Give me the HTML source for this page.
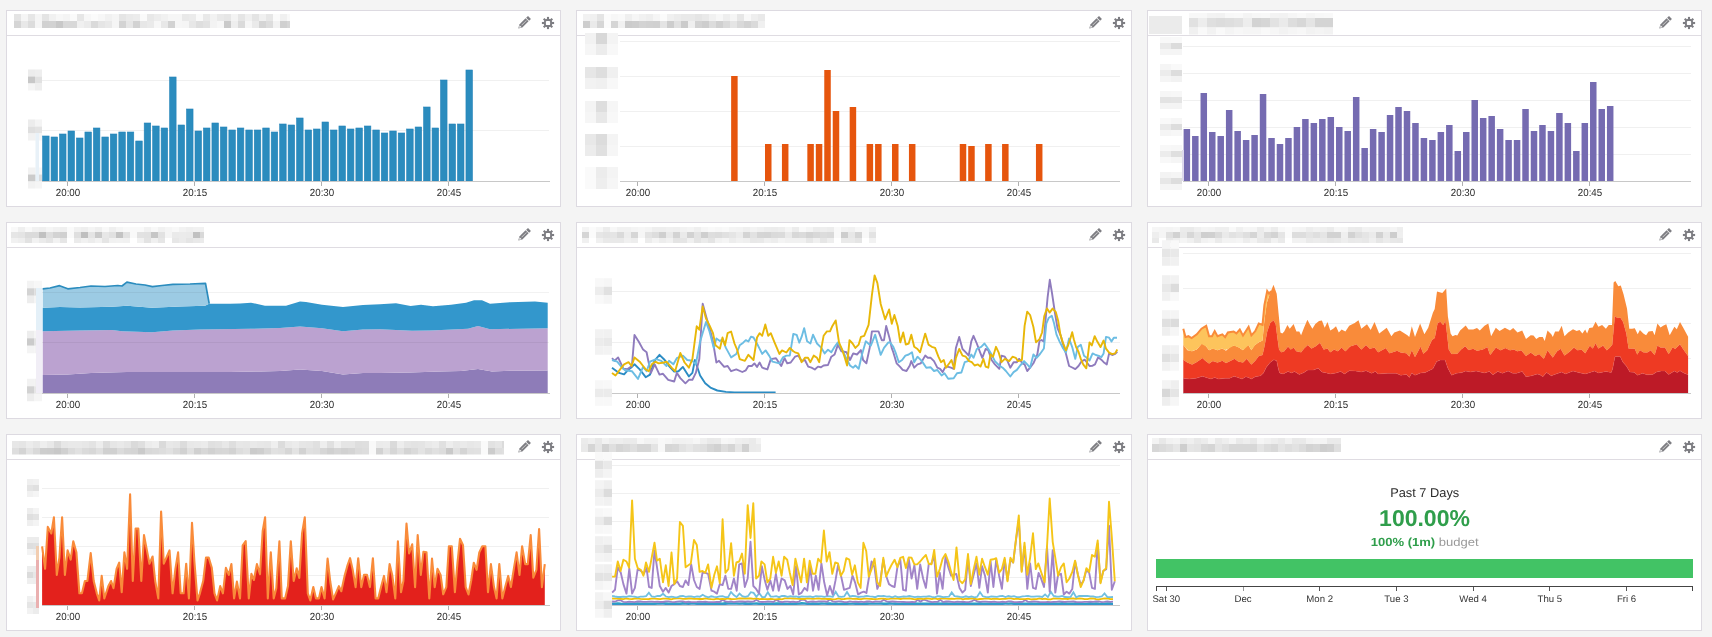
<!DOCTYPE html><html><head><meta charset="utf-8"><style>
*{margin:0;padding:0;box-sizing:border-box}
html,body{width:1712px;height:637px;background:#f4f4f4;overflow:hidden;font-family:"Liberation Sans",sans-serif}
.p{position:absolute;background:#fff;border:1px solid #dddae1}
.hd{position:absolute;left:0;right:0;top:0;height:25px;border-bottom:1px solid #dfdce2}
svg{position:absolute;left:0;top:0}
</style></head><body><div class="p" style="left:6px;top:10px;width:555px;height:197px"><div class="hd"></div></div><div class="p" style="left:576px;top:10px;width:556px;height:197px"><div class="hd"></div></div><div class="p" style="left:1147px;top:10px;width:555px;height:197px"><div class="hd"></div></div><div class="p" style="left:6px;top:222px;width:555px;height:197px"><div class="hd"></div></div><div class="p" style="left:576px;top:222px;width:556px;height:197px"><div class="hd"></div></div><div class="p" style="left:1147px;top:222px;width:555px;height:197px"><div class="hd"></div></div><div class="p" style="left:6px;top:434px;width:555px;height:197px"><div class="hd"></div></div><div class="p" style="left:576px;top:434px;width:556px;height:197px"><div class="hd"></div></div><div class="p" style="left:1147px;top:434px;width:555px;height:197px"><div class="hd"></div></div><svg width="1712" height="637" viewBox="0 0 1712 637" font-family="Liberation Sans, sans-serif" text-rendering="geometricPrecision"><defs><filter id="mb" x="-5%" y="-20%" width="110%" height="140%"><feGaussianBlur stdDeviation="0.45"/></filter></defs><g transform="translate(518.3,28.6) rotate(-45)" fill="#7d7d82"><path d="M0,0 L3.6,-2.1 L12.4,-2.1 L12.4,2.1 L3.6,2.1 Z"/><rect x="13.2" y="-2.1" width="2.6" height="4.2"/><path d="M1.1,0 L3.3,-1.4 L3.3,1.4 Z" fill="#fff"/><rect x="4.6" y="-0.35" width="7" height="0.7" fill="#d0d0d0"/></g><g transform="translate(548,23)" fill="#7d7d82"><circle r="4.3"/><rect x="-1.05" y="-6.1" width="2.1" height="3" transform="rotate(0)"/><rect x="-1.05" y="-6.1" width="2.1" height="3" transform="rotate(45)"/><rect x="-1.05" y="-6.1" width="2.1" height="3" transform="rotate(90)"/><rect x="-1.05" y="-6.1" width="2.1" height="3" transform="rotate(135)"/><rect x="-1.05" y="-6.1" width="2.1" height="3" transform="rotate(180)"/><rect x="-1.05" y="-6.1" width="2.1" height="3" transform="rotate(225)"/><rect x="-1.05" y="-6.1" width="2.1" height="3" transform="rotate(270)"/><rect x="-1.05" y="-6.1" width="2.1" height="3" transform="rotate(315)"/><rect x="-2.1" y="-2.1" width="4.2" height="4.2" rx="0.9" fill="#fff"/></g><g transform="translate(1089.3,28.6) rotate(-45)" fill="#7d7d82"><path d="M0,0 L3.6,-2.1 L12.4,-2.1 L12.4,2.1 L3.6,2.1 Z"/><rect x="13.2" y="-2.1" width="2.6" height="4.2"/><path d="M1.1,0 L3.3,-1.4 L3.3,1.4 Z" fill="#fff"/><rect x="4.6" y="-0.35" width="7" height="0.7" fill="#d0d0d0"/></g><g transform="translate(1119,23)" fill="#7d7d82"><circle r="4.3"/><rect x="-1.05" y="-6.1" width="2.1" height="3" transform="rotate(0)"/><rect x="-1.05" y="-6.1" width="2.1" height="3" transform="rotate(45)"/><rect x="-1.05" y="-6.1" width="2.1" height="3" transform="rotate(90)"/><rect x="-1.05" y="-6.1" width="2.1" height="3" transform="rotate(135)"/><rect x="-1.05" y="-6.1" width="2.1" height="3" transform="rotate(180)"/><rect x="-1.05" y="-6.1" width="2.1" height="3" transform="rotate(225)"/><rect x="-1.05" y="-6.1" width="2.1" height="3" transform="rotate(270)"/><rect x="-1.05" y="-6.1" width="2.1" height="3" transform="rotate(315)"/><rect x="-2.1" y="-2.1" width="4.2" height="4.2" rx="0.9" fill="#fff"/></g><g transform="translate(1659.3,28.6) rotate(-45)" fill="#7d7d82"><path d="M0,0 L3.6,-2.1 L12.4,-2.1 L12.4,2.1 L3.6,2.1 Z"/><rect x="13.2" y="-2.1" width="2.6" height="4.2"/><path d="M1.1,0 L3.3,-1.4 L3.3,1.4 Z" fill="#fff"/><rect x="4.6" y="-0.35" width="7" height="0.7" fill="#d0d0d0"/></g><g transform="translate(1689,23)" fill="#7d7d82"><circle r="4.3"/><rect x="-1.05" y="-6.1" width="2.1" height="3" transform="rotate(0)"/><rect x="-1.05" y="-6.1" width="2.1" height="3" transform="rotate(45)"/><rect x="-1.05" y="-6.1" width="2.1" height="3" transform="rotate(90)"/><rect x="-1.05" y="-6.1" width="2.1" height="3" transform="rotate(135)"/><rect x="-1.05" y="-6.1" width="2.1" height="3" transform="rotate(180)"/><rect x="-1.05" y="-6.1" width="2.1" height="3" transform="rotate(225)"/><rect x="-1.05" y="-6.1" width="2.1" height="3" transform="rotate(270)"/><rect x="-1.05" y="-6.1" width="2.1" height="3" transform="rotate(315)"/><rect x="-2.1" y="-2.1" width="4.2" height="4.2" rx="0.9" fill="#fff"/></g><g transform="translate(518.3,240.6) rotate(-45)" fill="#7d7d82"><path d="M0,0 L3.6,-2.1 L12.4,-2.1 L12.4,2.1 L3.6,2.1 Z"/><rect x="13.2" y="-2.1" width="2.6" height="4.2"/><path d="M1.1,0 L3.3,-1.4 L3.3,1.4 Z" fill="#fff"/><rect x="4.6" y="-0.35" width="7" height="0.7" fill="#d0d0d0"/></g><g transform="translate(548,235)" fill="#7d7d82"><circle r="4.3"/><rect x="-1.05" y="-6.1" width="2.1" height="3" transform="rotate(0)"/><rect x="-1.05" y="-6.1" width="2.1" height="3" transform="rotate(45)"/><rect x="-1.05" y="-6.1" width="2.1" height="3" transform="rotate(90)"/><rect x="-1.05" y="-6.1" width="2.1" height="3" transform="rotate(135)"/><rect x="-1.05" y="-6.1" width="2.1" height="3" transform="rotate(180)"/><rect x="-1.05" y="-6.1" width="2.1" height="3" transform="rotate(225)"/><rect x="-1.05" y="-6.1" width="2.1" height="3" transform="rotate(270)"/><rect x="-1.05" y="-6.1" width="2.1" height="3" transform="rotate(315)"/><rect x="-2.1" y="-2.1" width="4.2" height="4.2" rx="0.9" fill="#fff"/></g><g transform="translate(1089.3,240.6) rotate(-45)" fill="#7d7d82"><path d="M0,0 L3.6,-2.1 L12.4,-2.1 L12.4,2.1 L3.6,2.1 Z"/><rect x="13.2" y="-2.1" width="2.6" height="4.2"/><path d="M1.1,0 L3.3,-1.4 L3.3,1.4 Z" fill="#fff"/><rect x="4.6" y="-0.35" width="7" height="0.7" fill="#d0d0d0"/></g><g transform="translate(1119,235)" fill="#7d7d82"><circle r="4.3"/><rect x="-1.05" y="-6.1" width="2.1" height="3" transform="rotate(0)"/><rect x="-1.05" y="-6.1" width="2.1" height="3" transform="rotate(45)"/><rect x="-1.05" y="-6.1" width="2.1" height="3" transform="rotate(90)"/><rect x="-1.05" y="-6.1" width="2.1" height="3" transform="rotate(135)"/><rect x="-1.05" y="-6.1" width="2.1" height="3" transform="rotate(180)"/><rect x="-1.05" y="-6.1" width="2.1" height="3" transform="rotate(225)"/><rect x="-1.05" y="-6.1" width="2.1" height="3" transform="rotate(270)"/><rect x="-1.05" y="-6.1" width="2.1" height="3" transform="rotate(315)"/><rect x="-2.1" y="-2.1" width="4.2" height="4.2" rx="0.9" fill="#fff"/></g><g transform="translate(1659.3,240.6) rotate(-45)" fill="#7d7d82"><path d="M0,0 L3.6,-2.1 L12.4,-2.1 L12.4,2.1 L3.6,2.1 Z"/><rect x="13.2" y="-2.1" width="2.6" height="4.2"/><path d="M1.1,0 L3.3,-1.4 L3.3,1.4 Z" fill="#fff"/><rect x="4.6" y="-0.35" width="7" height="0.7" fill="#d0d0d0"/></g><g transform="translate(1689,235)" fill="#7d7d82"><circle r="4.3"/><rect x="-1.05" y="-6.1" width="2.1" height="3" transform="rotate(0)"/><rect x="-1.05" y="-6.1" width="2.1" height="3" transform="rotate(45)"/><rect x="-1.05" y="-6.1" width="2.1" height="3" transform="rotate(90)"/><rect x="-1.05" y="-6.1" width="2.1" height="3" transform="rotate(135)"/><rect x="-1.05" y="-6.1" width="2.1" height="3" transform="rotate(180)"/><rect x="-1.05" y="-6.1" width="2.1" height="3" transform="rotate(225)"/><rect x="-1.05" y="-6.1" width="2.1" height="3" transform="rotate(270)"/><rect x="-1.05" y="-6.1" width="2.1" height="3" transform="rotate(315)"/><rect x="-2.1" y="-2.1" width="4.2" height="4.2" rx="0.9" fill="#fff"/></g><g transform="translate(518.3,452.6) rotate(-45)" fill="#7d7d82"><path d="M0,0 L3.6,-2.1 L12.4,-2.1 L12.4,2.1 L3.6,2.1 Z"/><rect x="13.2" y="-2.1" width="2.6" height="4.2"/><path d="M1.1,0 L3.3,-1.4 L3.3,1.4 Z" fill="#fff"/><rect x="4.6" y="-0.35" width="7" height="0.7" fill="#d0d0d0"/></g><g transform="translate(548,447)" fill="#7d7d82"><circle r="4.3"/><rect x="-1.05" y="-6.1" width="2.1" height="3" transform="rotate(0)"/><rect x="-1.05" y="-6.1" width="2.1" height="3" transform="rotate(45)"/><rect x="-1.05" y="-6.1" width="2.1" height="3" transform="rotate(90)"/><rect x="-1.05" y="-6.1" width="2.1" height="3" transform="rotate(135)"/><rect x="-1.05" y="-6.1" width="2.1" height="3" transform="rotate(180)"/><rect x="-1.05" y="-6.1" width="2.1" height="3" transform="rotate(225)"/><rect x="-1.05" y="-6.1" width="2.1" height="3" transform="rotate(270)"/><rect x="-1.05" y="-6.1" width="2.1" height="3" transform="rotate(315)"/><rect x="-2.1" y="-2.1" width="4.2" height="4.2" rx="0.9" fill="#fff"/></g><g transform="translate(1089.3,452.6) rotate(-45)" fill="#7d7d82"><path d="M0,0 L3.6,-2.1 L12.4,-2.1 L12.4,2.1 L3.6,2.1 Z"/><rect x="13.2" y="-2.1" width="2.6" height="4.2"/><path d="M1.1,0 L3.3,-1.4 L3.3,1.4 Z" fill="#fff"/><rect x="4.6" y="-0.35" width="7" height="0.7" fill="#d0d0d0"/></g><g transform="translate(1119,447)" fill="#7d7d82"><circle r="4.3"/><rect x="-1.05" y="-6.1" width="2.1" height="3" transform="rotate(0)"/><rect x="-1.05" y="-6.1" width="2.1" height="3" transform="rotate(45)"/><rect x="-1.05" y="-6.1" width="2.1" height="3" transform="rotate(90)"/><rect x="-1.05" y="-6.1" width="2.1" height="3" transform="rotate(135)"/><rect x="-1.05" y="-6.1" width="2.1" height="3" transform="rotate(180)"/><rect x="-1.05" y="-6.1" width="2.1" height="3" transform="rotate(225)"/><rect x="-1.05" y="-6.1" width="2.1" height="3" transform="rotate(270)"/><rect x="-1.05" y="-6.1" width="2.1" height="3" transform="rotate(315)"/><rect x="-2.1" y="-2.1" width="4.2" height="4.2" rx="0.9" fill="#fff"/></g><g transform="translate(1659.3,452.6) rotate(-45)" fill="#7d7d82"><path d="M0,0 L3.6,-2.1 L12.4,-2.1 L12.4,2.1 L3.6,2.1 Z"/><rect x="13.2" y="-2.1" width="2.6" height="4.2"/><path d="M1.1,0 L3.3,-1.4 L3.3,1.4 Z" fill="#fff"/><rect x="4.6" y="-0.35" width="7" height="0.7" fill="#d0d0d0"/></g><g transform="translate(1689,447)" fill="#7d7d82"><circle r="4.3"/><rect x="-1.05" y="-6.1" width="2.1" height="3" transform="rotate(0)"/><rect x="-1.05" y="-6.1" width="2.1" height="3" transform="rotate(45)"/><rect x="-1.05" y="-6.1" width="2.1" height="3" transform="rotate(90)"/><rect x="-1.05" y="-6.1" width="2.1" height="3" transform="rotate(135)"/><rect x="-1.05" y="-6.1" width="2.1" height="3" transform="rotate(180)"/><rect x="-1.05" y="-6.1" width="2.1" height="3" transform="rotate(225)"/><rect x="-1.05" y="-6.1" width="2.1" height="3" transform="rotate(270)"/><rect x="-1.05" y="-6.1" width="2.1" height="3" transform="rotate(315)"/><rect x="-2.1" y="-2.1" width="4.2" height="4.2" rx="0.9" fill="#fff"/></g><line x1="42.00" y1="80.50" x2="549.00" y2="80.50" stroke="#f0f0f0" stroke-width="1" /><line x1="42.00" y1="130.50" x2="549.00" y2="130.50" stroke="#f0f0f0" stroke-width="1" /><rect x="42.60" y="136.00" width="6.50" height="45.00" fill="#2b8cbe" stroke="#2383b8" stroke-width="0.6"/><rect x="51.07" y="137.00" width="6.50" height="44.00" fill="#2b8cbe" stroke="#2383b8" stroke-width="0.6"/><rect x="59.53" y="134.00" width="6.50" height="47.00" fill="#2b8cbe" stroke="#2383b8" stroke-width="0.6"/><rect x="68.00" y="131.00" width="6.50" height="50.00" fill="#2b8cbe" stroke="#2383b8" stroke-width="0.6"/><rect x="76.47" y="138.00" width="6.50" height="43.00" fill="#2b8cbe" stroke="#2383b8" stroke-width="0.6"/><rect x="84.93" y="132.00" width="6.50" height="49.00" fill="#2b8cbe" stroke="#2383b8" stroke-width="0.6"/><rect x="93.40" y="128.00" width="6.50" height="53.00" fill="#2b8cbe" stroke="#2383b8" stroke-width="0.6"/><rect x="101.87" y="137.00" width="6.50" height="44.00" fill="#2b8cbe" stroke="#2383b8" stroke-width="0.6"/><rect x="110.34" y="134.00" width="6.50" height="47.00" fill="#2b8cbe" stroke="#2383b8" stroke-width="0.6"/><rect x="118.80" y="132.00" width="6.50" height="49.00" fill="#2b8cbe" stroke="#2383b8" stroke-width="0.6"/><rect x="127.27" y="132.00" width="6.50" height="49.00" fill="#2b8cbe" stroke="#2383b8" stroke-width="0.6"/><rect x="135.74" y="141.00" width="6.50" height="40.00" fill="#2b8cbe" stroke="#2383b8" stroke-width="0.6"/><rect x="144.20" y="123.00" width="6.50" height="58.00" fill="#2b8cbe" stroke="#2383b8" stroke-width="0.6"/><rect x="152.67" y="126.00" width="6.50" height="55.00" fill="#2b8cbe" stroke="#2383b8" stroke-width="0.6"/><rect x="161.14" y="128.00" width="6.50" height="53.00" fill="#2b8cbe" stroke="#2383b8" stroke-width="0.6"/><rect x="169.60" y="77.00" width="6.50" height="104.00" fill="#2b8cbe" stroke="#2383b8" stroke-width="0.6"/><rect x="178.07" y="125.00" width="6.50" height="56.00" fill="#2b8cbe" stroke="#2383b8" stroke-width="0.6"/><rect x="186.54" y="109.00" width="6.50" height="72.00" fill="#2b8cbe" stroke="#2383b8" stroke-width="0.6"/><rect x="195.00" y="131.00" width="6.50" height="50.00" fill="#2b8cbe" stroke="#2383b8" stroke-width="0.6"/><rect x="203.47" y="128.00" width="6.50" height="53.00" fill="#2b8cbe" stroke="#2383b8" stroke-width="0.6"/><rect x="211.94" y="123.00" width="6.50" height="58.00" fill="#2b8cbe" stroke="#2383b8" stroke-width="0.6"/><rect x="220.41" y="127.00" width="6.50" height="54.00" fill="#2b8cbe" stroke="#2383b8" stroke-width="0.6"/><rect x="228.87" y="130.00" width="6.50" height="51.00" fill="#2b8cbe" stroke="#2383b8" stroke-width="0.6"/><rect x="237.34" y="128.00" width="6.50" height="53.00" fill="#2b8cbe" stroke="#2383b8" stroke-width="0.6"/><rect x="245.81" y="130.00" width="6.50" height="51.00" fill="#2b8cbe" stroke="#2383b8" stroke-width="0.6"/><rect x="254.27" y="130.00" width="6.50" height="51.00" fill="#2b8cbe" stroke="#2383b8" stroke-width="0.6"/><rect x="262.74" y="128.00" width="6.50" height="53.00" fill="#2b8cbe" stroke="#2383b8" stroke-width="0.6"/><rect x="271.21" y="132.00" width="6.50" height="49.00" fill="#2b8cbe" stroke="#2383b8" stroke-width="0.6"/><rect x="279.68" y="124.00" width="6.50" height="57.00" fill="#2b8cbe" stroke="#2383b8" stroke-width="0.6"/><rect x="288.14" y="125.00" width="6.50" height="56.00" fill="#2b8cbe" stroke="#2383b8" stroke-width="0.6"/><rect x="296.61" y="118.00" width="6.50" height="63.00" fill="#2b8cbe" stroke="#2383b8" stroke-width="0.6"/><rect x="305.08" y="130.00" width="6.50" height="51.00" fill="#2b8cbe" stroke="#2383b8" stroke-width="0.6"/><rect x="313.54" y="129.00" width="6.50" height="52.00" fill="#2b8cbe" stroke="#2383b8" stroke-width="0.6"/><rect x="322.01" y="122.00" width="6.50" height="59.00" fill="#2b8cbe" stroke="#2383b8" stroke-width="0.6"/><rect x="330.48" y="130.00" width="6.50" height="51.00" fill="#2b8cbe" stroke="#2383b8" stroke-width="0.6"/><rect x="338.94" y="126.00" width="6.50" height="55.00" fill="#2b8cbe" stroke="#2383b8" stroke-width="0.6"/><rect x="347.41" y="129.00" width="6.50" height="52.00" fill="#2b8cbe" stroke="#2383b8" stroke-width="0.6"/><rect x="355.88" y="128.00" width="6.50" height="53.00" fill="#2b8cbe" stroke="#2383b8" stroke-width="0.6"/><rect x="364.35" y="126.00" width="6.50" height="55.00" fill="#2b8cbe" stroke="#2383b8" stroke-width="0.6"/><rect x="372.81" y="130.00" width="6.50" height="51.00" fill="#2b8cbe" stroke="#2383b8" stroke-width="0.6"/><rect x="381.28" y="133.00" width="6.50" height="48.00" fill="#2b8cbe" stroke="#2383b8" stroke-width="0.6"/><rect x="389.75" y="131.00" width="6.50" height="50.00" fill="#2b8cbe" stroke="#2383b8" stroke-width="0.6"/><rect x="398.21" y="133.00" width="6.50" height="48.00" fill="#2b8cbe" stroke="#2383b8" stroke-width="0.6"/><rect x="406.68" y="129.00" width="6.50" height="52.00" fill="#2b8cbe" stroke="#2383b8" stroke-width="0.6"/><rect x="415.15" y="127.00" width="6.50" height="54.00" fill="#2b8cbe" stroke="#2383b8" stroke-width="0.6"/><rect x="423.61" y="107.00" width="6.50" height="74.00" fill="#2b8cbe" stroke="#2383b8" stroke-width="0.6"/><rect x="432.08" y="128.00" width="6.50" height="53.00" fill="#2b8cbe" stroke="#2383b8" stroke-width="0.6"/><rect x="440.55" y="80.00" width="6.50" height="101.00" fill="#2b8cbe" stroke="#2383b8" stroke-width="0.6"/><rect x="449.02" y="124.00" width="6.50" height="57.00" fill="#2b8cbe" stroke="#2383b8" stroke-width="0.6"/><rect x="457.48" y="124.00" width="6.50" height="57.00" fill="#2b8cbe" stroke="#2383b8" stroke-width="0.6"/><rect x="465.95" y="70.00" width="6.50" height="111.00" fill="#2b8cbe" stroke="#2383b8" stroke-width="0.6"/><line x1="42.00" y1="181.50" x2="550.00" y2="181.50" stroke="#c8c8c8" stroke-width="1" /><line x1="67.50" y1="182.00" x2="67.50" y2="186.00" stroke="#b0b0b0" stroke-width="1" /><line x1="194.50" y1="182.00" x2="194.50" y2="186.00" stroke="#b0b0b0" stroke-width="1" /><line x1="321.50" y1="182.00" x2="321.50" y2="186.00" stroke="#b0b0b0" stroke-width="1" /><line x1="448.50" y1="182.00" x2="448.50" y2="186.00" stroke="#b0b0b0" stroke-width="1" /><line x1="620.00" y1="41.50" x2="1120.00" y2="41.50" stroke="#f0f0f0" stroke-width="1" /><line x1="620.00" y1="76.50" x2="1120.00" y2="76.50" stroke="#f0f0f0" stroke-width="1" /><line x1="620.00" y1="111.50" x2="1120.00" y2="111.50" stroke="#f0f0f0" stroke-width="1" /><line x1="620.00" y1="146.50" x2="1120.00" y2="146.50" stroke="#f0f0f0" stroke-width="1" /><rect x="731.14" y="76.00" width="6.50" height="105.00" fill="#e6550d" /><rect x="765.00" y="144.00" width="6.50" height="37.00" fill="#e6550d" /><rect x="781.94" y="144.00" width="6.50" height="37.00" fill="#e6550d" /><rect x="807.34" y="144.00" width="6.50" height="37.00" fill="#e6550d" /><rect x="815.81" y="144.00" width="6.50" height="37.00" fill="#e6550d" /><rect x="824.27" y="70.00" width="6.50" height="111.00" fill="#e6550d" /><rect x="832.74" y="111.00" width="6.50" height="70.00" fill="#e6550d" /><rect x="849.67" y="107.00" width="6.50" height="74.00" fill="#e6550d" /><rect x="866.61" y="144.00" width="6.50" height="37.00" fill="#e6550d" /><rect x="875.08" y="144.00" width="6.50" height="37.00" fill="#e6550d" /><rect x="892.01" y="144.00" width="6.50" height="37.00" fill="#e6550d" /><rect x="908.94" y="144.00" width="6.50" height="37.00" fill="#e6550d" /><rect x="959.75" y="144.00" width="6.50" height="37.00" fill="#e6550d" /><rect x="968.21" y="146.00" width="6.50" height="35.00" fill="#e6550d" /><rect x="985.15" y="144.00" width="6.50" height="37.00" fill="#e6550d" /><rect x="1002.08" y="144.00" width="6.50" height="37.00" fill="#e6550d" /><rect x="1035.95" y="144.00" width="6.50" height="37.00" fill="#e6550d" /><line x1="620.00" y1="181.50" x2="1120.00" y2="181.50" stroke="#c8c8c8" stroke-width="1" /><line x1="637.50" y1="182.00" x2="637.50" y2="186.00" stroke="#b0b0b0" stroke-width="1" /><line x1="764.50" y1="182.00" x2="764.50" y2="186.00" stroke="#b0b0b0" stroke-width="1" /><line x1="891.50" y1="182.00" x2="891.50" y2="186.00" stroke="#b0b0b0" stroke-width="1" /><line x1="1018.50" y1="182.00" x2="1018.50" y2="186.00" stroke="#b0b0b0" stroke-width="1" /><line x1="1183.00" y1="46.50" x2="1691.00" y2="46.50" stroke="#f0f0f0" stroke-width="1" /><line x1="1183.00" y1="73.50" x2="1691.00" y2="73.50" stroke="#f0f0f0" stroke-width="1" /><line x1="1183.00" y1="100.50" x2="1691.00" y2="100.50" stroke="#f0f0f0" stroke-width="1" /><line x1="1183.00" y1="127.50" x2="1691.00" y2="127.50" stroke="#f0f0f0" stroke-width="1" /><line x1="1183.00" y1="154.50" x2="1691.00" y2="154.50" stroke="#f0f0f0" stroke-width="1" /><rect x="1183.60" y="129.00" width="6.50" height="52.00" fill="#756bb1" /><rect x="1192.07" y="136.00" width="6.50" height="45.00" fill="#756bb1" /><rect x="1200.53" y="93.00" width="6.50" height="88.00" fill="#756bb1" /><rect x="1209.00" y="132.00" width="6.50" height="49.00" fill="#756bb1" /><rect x="1217.47" y="136.00" width="6.50" height="45.00" fill="#756bb1" /><rect x="1225.93" y="110.00" width="6.50" height="71.00" fill="#756bb1" /><rect x="1234.40" y="131.00" width="6.50" height="50.00" fill="#756bb1" /><rect x="1242.87" y="140.00" width="6.50" height="41.00" fill="#756bb1" /><rect x="1251.34" y="135.00" width="6.50" height="46.00" fill="#756bb1" /><rect x="1259.80" y="94.00" width="6.50" height="87.00" fill="#756bb1" /><rect x="1268.27" y="138.00" width="6.50" height="43.00" fill="#756bb1" /><rect x="1276.74" y="144.00" width="6.50" height="37.00" fill="#756bb1" /><rect x="1285.20" y="138.00" width="6.50" height="43.00" fill="#756bb1" /><rect x="1293.67" y="127.00" width="6.50" height="54.00" fill="#756bb1" /><rect x="1302.14" y="119.00" width="6.50" height="62.00" fill="#756bb1" /><rect x="1310.60" y="123.00" width="6.50" height="58.00" fill="#756bb1" /><rect x="1319.07" y="119.00" width="6.50" height="62.00" fill="#756bb1" /><rect x="1327.54" y="117.00" width="6.50" height="64.00" fill="#756bb1" /><rect x="1336.01" y="127.00" width="6.50" height="54.00" fill="#756bb1" /><rect x="1344.47" y="131.00" width="6.50" height="50.00" fill="#756bb1" /><rect x="1352.94" y="97.00" width="6.50" height="84.00" fill="#756bb1" /><rect x="1361.41" y="148.00" width="6.50" height="33.00" fill="#756bb1" /><rect x="1369.87" y="129.00" width="6.50" height="52.00" fill="#756bb1" /><rect x="1378.34" y="132.00" width="6.50" height="49.00" fill="#756bb1" /><rect x="1386.81" y="115.00" width="6.50" height="66.00" fill="#756bb1" /><rect x="1395.27" y="107.00" width="6.50" height="74.00" fill="#756bb1" /><rect x="1403.74" y="111.00" width="6.50" height="70.00" fill="#756bb1" /><rect x="1412.21" y="123.00" width="6.50" height="58.00" fill="#756bb1" /><rect x="1420.67" y="138.00" width="6.50" height="43.00" fill="#756bb1" /><rect x="1429.14" y="140.00" width="6.50" height="41.00" fill="#756bb1" /><rect x="1437.61" y="132.00" width="6.50" height="49.00" fill="#756bb1" /><rect x="1446.08" y="125.00" width="6.50" height="56.00" fill="#756bb1" /><rect x="1454.54" y="151.00" width="6.50" height="30.00" fill="#756bb1" /><rect x="1463.01" y="132.00" width="6.50" height="49.00" fill="#756bb1" /><rect x="1471.48" y="100.00" width="6.50" height="81.00" fill="#756bb1" /><rect x="1479.94" y="118.00" width="6.50" height="63.00" fill="#756bb1" /><rect x="1488.41" y="116.00" width="6.50" height="65.00" fill="#756bb1" /><rect x="1496.88" y="129.00" width="6.50" height="52.00" fill="#756bb1" /><rect x="1505.35" y="140.00" width="6.50" height="41.00" fill="#756bb1" /><rect x="1513.81" y="140.00" width="6.50" height="41.00" fill="#756bb1" /><rect x="1522.28" y="109.00" width="6.50" height="72.00" fill="#756bb1" /><rect x="1530.75" y="131.00" width="6.50" height="50.00" fill="#756bb1" /><rect x="1539.21" y="125.00" width="6.50" height="56.00" fill="#756bb1" /><rect x="1547.68" y="131.00" width="6.50" height="50.00" fill="#756bb1" /><rect x="1556.15" y="113.00" width="6.50" height="68.00" fill="#756bb1" /><rect x="1564.61" y="123.00" width="6.50" height="58.00" fill="#756bb1" /><rect x="1573.08" y="151.00" width="6.50" height="30.00" fill="#756bb1" /><rect x="1581.55" y="123.00" width="6.50" height="58.00" fill="#756bb1" /><rect x="1590.02" y="82.00" width="6.50" height="99.00" fill="#756bb1" /><rect x="1598.48" y="109.00" width="6.50" height="72.00" fill="#756bb1" /><rect x="1606.95" y="106.00" width="6.50" height="75.00" fill="#756bb1" /><line x1="1183.00" y1="181.50" x2="1691.00" y2="181.50" stroke="#c8c8c8" stroke-width="1" /><line x1="1208.50" y1="182.00" x2="1208.50" y2="186.00" stroke="#b0b0b0" stroke-width="1" /><line x1="1335.50" y1="182.00" x2="1335.50" y2="186.00" stroke="#b0b0b0" stroke-width="1" /><line x1="1462.50" y1="182.00" x2="1462.50" y2="186.00" stroke="#b0b0b0" stroke-width="1" /><line x1="1589.50" y1="182.00" x2="1589.50" y2="186.00" stroke="#b0b0b0" stroke-width="1" /><polygon points="42.7,375.0 67.8,374.5 91.0,373.0 127.0,372.0 136.0,372.0 200.0,372.0 230.0,372.0 261.0,371.5 280.0,371.0 300.0,369.6 322.0,371.0 343.0,374.5 363.0,373.0 380.0,373.0 410.0,372.5 440.0,371.5 461.0,371.0 478.0,369.0 492.0,371.4 510.0,370.8 547.7,370.4 547.7,393.0 42.7,393.0" fill="#8e7cb8" /><polygon points="42.7,331.2 80.0,330.5 112.0,330.0 122.0,331.2 152.0,332.2 173.0,330.5 200.0,329.6 251.0,328.8 280.0,328.0 300.0,326.5 322.0,328.2 343.0,331.2 363.0,329.6 380.0,329.2 412.0,330.8 431.0,330.4 468.0,328.8 478.0,326.1 490.0,329.2 547.7,328.2 547.7,370.4 510.0,370.8 492.0,371.4 478.0,369.0 461.0,371.0 440.0,371.5 410.0,372.5 380.0,373.0 363.0,373.0 343.0,374.5 322.0,371.0 300.0,369.6 280.0,371.0 261.0,371.5 230.0,372.0 200.0,372.0 136.0,372.0 127.0,372.0 91.0,373.0 67.8,374.5 42.7,375.0" fill="#bba2d0" /><polygon points="42.7,307.8 60.0,307.0 80.0,307.5 112.0,306.7 127.0,305.7 152.0,307.8 180.0,306.5 205.0,305.7 209.0,303.7 230.0,303.7 240.0,303.5 251.0,302.7 265.0,305.7 286.0,305.7 300.0,301.6 306.0,302.0 322.0,304.7 343.0,307.1 363.0,305.0 380.0,304.3 396.0,303.3 410.6,306.0 421.0,304.7 433.0,306.3 451.0,304.7 466.0,302.7 474.0,300.2 482.0,300.2 490.0,303.7 510.0,302.2 535.0,301.4 547.7,302.7 547.7,328.2 490.0,329.2 478.0,326.1 468.0,328.8 431.0,330.4 412.0,330.8 380.0,329.2 363.0,329.6 343.0,331.2 322.0,328.2 300.0,326.5 280.0,328.0 251.0,328.8 200.0,329.6 173.0,330.5 152.0,332.2 122.0,331.2 112.0,330.0 80.0,330.5 42.7,331.2" fill="#3397cc" /><polygon points="42.7,288.8 50.0,288.0 59.6,285.7 67.8,288.8 80.0,287.5 91.0,286.0 105.0,286.5 117.8,285.5 122.0,286.0 126.9,282.2 136.0,284.0 145.0,285.0 152.4,286.7 162.0,285.5 172.9,284.3 190.0,284.0 205.5,283.3 209.2,303.7 209.2,303.7 205.0,305.7 180.0,306.5 152.0,307.8 127.0,305.7 112.0,306.7 80.0,307.5 60.0,307.0 42.7,307.8" fill="#9ccbe4" /><polyline points="42.7,288.8 50.0,288.0 59.6,285.7 67.8,288.8 80.0,287.5 91.0,286.0 105.0,286.5 117.8,285.5 122.0,286.0 126.9,282.2 136.0,284.0 145.0,285.0 152.4,286.7 162.0,285.5 172.9,284.3 190.0,284.0 205.5,283.3 209.2,303.7" fill="none" stroke="#2b8cbe" stroke-width="1.7" stroke-linejoin="round"/><line x1="42.00" y1="292.50" x2="549.00" y2="292.50" stroke="rgba(0,0,0,0.05)" stroke-width="1" /><line x1="42.00" y1="342.50" x2="549.00" y2="342.50" stroke="rgba(0,0,0,0.05)" stroke-width="1" /><line x1="42.00" y1="393.50" x2="550.00" y2="393.50" stroke="#c8c8c8" stroke-width="1" /><line x1="67.50" y1="394.00" x2="67.50" y2="398.00" stroke="#b0b0b0" stroke-width="1" /><line x1="194.50" y1="394.00" x2="194.50" y2="398.00" stroke="#b0b0b0" stroke-width="1" /><line x1="321.50" y1="394.00" x2="321.50" y2="398.00" stroke="#b0b0b0" stroke-width="1" /><line x1="448.50" y1="394.00" x2="448.50" y2="398.00" stroke="#b0b0b0" stroke-width="1" /><line x1="612.00" y1="291.50" x2="1120.00" y2="291.50" stroke="#f0f0f0" stroke-width="1" /><line x1="612.00" y1="342.50" x2="1120.00" y2="342.50" stroke="#f0f0f0" stroke-width="1" /><polyline points="612.0,367.7 619.0,372.9 624.1,374.3 627.6,370.3 631.9,366.9 634.5,364.3 639.7,369.4 645.7,377.2 650.0,374.6 654.4,360.8 659.5,354.8 664.7,360.0 669.0,366.0 674.2,371.5 678.5,371.2 682.9,366.9 688.9,376.4 692.4,372.9 694.9,360.0 700.1,375.5 705.2,383.3 710.4,387.6 717.3,390.5 725.9,391.9 734.5,392.4 775.6,392.4" fill="none" stroke="#2b8cc4" stroke-width="1.9" stroke-linejoin="round"/><polyline points="612.0,358.2 614.6,360.8 618.1,357.4 623.3,368.6 627.6,369.1 631.9,366.0 634.5,334.9 638.8,341.8 643.1,349.6 646.6,352.2 648.3,360.8 650.9,372.9 654.7,364.3 659.5,374.6 663.0,373.8 668.2,379.8 674.2,381.5 676.8,372.9 680.3,378.1 685.4,383.3 688.9,379.8 692.4,379.8 695.8,372.9 699.3,359.1 702.7,303.8 706.0,315.9 709.5,328.0 713.0,341.8 716.4,362.5 719.0,360.8 724.2,366.9 727.6,366.0 731.1,371.2 736.3,369.4 742.3,372.0 745.8,370.3 748.4,366.0 751.8,366.0 754.4,363.4 757.0,366.9 759.6,362.5 762.2,367.7 767.4,369.4 770.8,359.1 776.0,358.2 781.2,366.0 784.6,358.2 787.2,363.4 790.7,362.5 795.0,356.7 798.3,355.6 801.6,361.1 804.9,360.0 808.2,366.6 811.5,367.7 814.8,369.5 818.0,366.6 821.0,367.3 823.6,365.5 828.0,365.0 831.3,356.7 834.6,354.5 837.9,344.6 841.2,351.2 846.6,352.3 850.0,360.0 853.2,353.4 857.0,354.5 860.9,350.1 863.1,360.0 866.4,363.3 869.7,347.9 871.9,331.4 875.2,331.4 878.5,331.4 881.8,340.2 884.0,340.2 886.2,325.9 889.5,338.0 891.7,347.9 893.3,352.3 896.6,363.3 899.9,366.6 902.7,369.9 906.5,371.0 909.8,365.5 911.3,361.1 914.2,367.7 917.5,364.4 920.8,363.3 925.2,355.6 927.8,357.8 930.7,357.8 934.0,361.1 937.3,367.7 940.1,368.8 942.7,372.1 944.9,367.7 947.6,366.6 951.0,367.7 953.7,368.8 955.9,347.9 959.2,336.9 962.5,349.0 965.8,352.3 968.7,355.6 971.3,341.3 973.5,335.8 976.8,343.5 980.1,352.3 982.3,357.8 985.6,349.0 988.3,350.1 991.6,360.0 994.9,364.4 999.3,368.8 1001.5,355.6 1004.8,356.7 1007.0,360.0 1010.3,367.7 1013.6,362.2 1016.9,362.2 1019.1,358.9 1022.4,363.3 1024.6,364.4 1027.2,371.0 1030.1,367.7 1033.4,363.3 1037.3,354.5 1039.5,341.0 1041.6,340.0 1043.9,341.6 1045.4,321.5 1047.6,297.4 1049.8,279.8 1052.0,293.0 1054.9,312.7 1057.5,328.1 1060.8,335.8 1062.5,342.4 1065.9,353.4 1069.1,366.0 1072.2,367.5 1075.3,369.1 1078.5,366.0 1081.6,361.3 1084.8,359.7 1087.1,362.8 1089.5,366.0 1092.6,365.7 1095.0,364.4 1098.1,357.3 1101.3,359.7 1104.4,362.8 1106.8,364.4 1109.1,353.4 1112.2,355.0 1114.6,354.2 1117.3,351.8" fill="none" stroke="#8f7bbd" stroke-width="1.9" stroke-linejoin="round"/><polyline points="612.0,360.0 617.2,361.7 620.7,366.0 625.0,370.3 631.9,371.2 638.0,378.9 643.1,366.9 646.6,371.2 650.0,361.7 656.1,359.1 661.3,360.8 666.5,366.0 669.0,360.8 673.4,364.3 676.8,358.2 682.9,355.6 687.2,360.0 692.4,360.8 695.8,364.3 700.1,341.8 702.6,333.2 706.0,322.0 709.5,331.5 713.8,347.9 716.4,338.4 719.9,341.0 722.5,339.2 725.9,347.9 731.1,357.4 736.3,354.0 739.7,345.3 743.2,342.7 745.8,340.1 748.4,341.5 751.0,336.6 753.5,337.5 757.9,345.3 762.2,353.9 765.6,350.4 769.1,355.6 772.5,361.7 779.4,363.4 782.9,357.4 786.4,355.6 789.8,355.6 793.3,334.0 796.7,334.9 799.3,342.7 801.6,336.9 804.2,328.1 807.1,341.3 810.4,343.5 813.0,334.7 817.0,343.5 821.4,347.9 824.7,353.4 828.0,349.7 831.3,352.3 834.6,346.8 837.9,342.4 841.2,347.9 845.5,356.7 850.0,365.5 853.2,367.7 855.4,365.5 858.7,368.8 862.0,354.5 865.8,341.3 870.8,345.7 875.2,334.7 880.7,354.9 884.0,347.9 888.4,342.4 890.0,342.4 893.3,346.8 895.5,352.3 898.8,362.2 902.1,360.0 905.4,355.6 908.7,354.5 912.0,352.3 914.2,362.2 917.5,356.7 921.9,361.1 926.3,367.7 930.7,367.3 934.0,371.0 937.3,370.0 941.6,375.4 944.5,373.2 948.2,378.7 953.7,378.2 957.0,373.2 961.4,372.5 964.7,362.2 968.0,361.1 971.3,354.5 973.5,357.8 976.8,349.0 981.2,346.8 984.5,343.5 988.3,349.0 991.6,354.5 994.9,361.1 999.3,365.5 1002.6,367.7 1005.9,371.0 1010.3,376.5 1013.6,372.1 1016.9,369.9 1020.2,365.5 1024.1,361.1 1027.2,364.4 1030.1,367.7 1033.4,354.5 1036.6,357.8 1040.0,354.0 1043.9,348.5 1046.3,323.6 1048.6,318.1 1051.8,315.7 1054.1,323.6 1056.5,334.6 1059.6,341.6 1062.8,347.9 1065.9,352.6 1069.1,338.5 1072.2,347.1 1075.3,358.9 1077.7,347.1 1080.8,344.8 1084.0,355.8 1087.1,358.1 1089.5,360.5 1092.6,353.4 1095.8,355.0 1098.9,355.8 1101.3,357.3 1103.6,353.4 1106.0,336.9 1109.1,337.7 1111.5,341.6 1113.8,337.7 1117.0,337.7" fill="none" stroke="#6cbde3" stroke-width="1.9" stroke-linejoin="round"/><polyline points="612.0,372.9 615.5,375.5 620.7,368.6 624.1,364.3 628.5,362.2 631.6,366.0 634.5,357.4 639.7,361.7 643.1,366.0 645.7,369.4 648.8,371.2 651.8,364.3 655.2,361.7 658.7,363.4 663.9,362.5 666.5,361.7 671.6,367.7 675.1,371.2 680.3,353.0 684.6,362.5 688.9,367.7 692.4,359.1 696.7,326.3 699.3,329.7 702.7,306.4 706.0,318.5 709.5,325.4 713.0,333.2 715.5,345.3 719.9,348.7 722.5,337.5 725.0,345.3 727.6,333.2 731.1,331.5 734.5,343.5 737.1,349.6 739.7,359.1 744.9,360.8 748.4,354.8 753.5,360.0 757.0,337.5 759.6,333.2 762.2,335.8 765.3,324.5 768.2,335.8 770.8,333.2 774.3,341.8 779.4,353.9 782.0,350.4 786.4,352.5 789.8,347.9 793.3,351.3 795.0,352.3 798.3,353.4 801.6,362.2 804.9,357.8 808.0,357.8 810.4,362.2 813.7,355.6 817.0,357.8 819.2,362.2 821.4,347.9 823.6,335.8 826.9,331.4 830.0,331.4 832.4,325.9 835.7,320.4 839.0,342.4 842.3,350.1 844.5,356.7 847.1,365.5 849.5,340.2 852.6,343.5 855.4,347.9 858.7,344.6 860.9,336.9 864.2,335.8 868.6,324.8 871.9,295.2 874.6,275.4 877.4,283.1 880.7,304.0 885.1,319.3 889.1,309.5 891.8,323.7 894.4,314.9 897.7,325.9 900.3,342.4 903.2,332.5 905.8,344.6 908.7,343.5 911.3,334.7 914.2,346.8 917.5,349.0 920.1,352.3 925.2,333.6 928.5,344.6 931.8,346.8 935.1,347.9 938.4,356.7 941.0,362.2 943.8,360.0 946.0,367.7 949.3,363.3 951.5,360.0 954.2,368.8 955.9,357.8 959.2,349.0 962.5,355.6 965.8,356.7 969.1,361.1 971.8,362.2 974.6,365.5 977.9,364.4 980.5,366.6 983.4,358.9 985.6,366.6 988.3,367.7 990.5,354.5 993.0,356.7 996.0,346.8 998.6,352.3 1001.5,362.2 1004.8,358.9 1009.2,361.1 1012.5,356.7 1015.8,357.8 1018.0,361.1 1021.9,360.0 1024.6,325.9 1027.2,311.6 1030.1,315.0 1033.4,327.0 1036.0,342.4 1039.5,339.1 1042.1,332.5 1044.3,316.0 1047.0,308.4 1049.6,312.6 1052.6,308.6 1055.7,311.8 1058.1,320.4 1060.4,334.6 1062.8,342.4 1065.9,350.3 1068.3,344.8 1070.6,337.7 1072.2,332.2 1073.8,339.3 1076.1,347.1 1078.5,351.8 1080.8,358.9 1083.2,364.4 1086.3,368.3 1089.5,342.4 1091.8,345.5 1094.7,336.1 1097.3,341.6 1100.5,347.1 1103.6,340.5 1106.0,348.7 1109.1,352.6 1112.2,354.2 1115.1,353.4 1117.3,349.5" fill="none" stroke="#e8b708" stroke-width="1.9" stroke-linejoin="round"/><line x1="612.00" y1="393.50" x2="1120.00" y2="393.50" stroke="#c8c8c8" stroke-width="1" /><line x1="637.50" y1="394.00" x2="637.50" y2="398.00" stroke="#b0b0b0" stroke-width="1" /><line x1="764.50" y1="394.00" x2="764.50" y2="398.00" stroke="#b0b0b0" stroke-width="1" /><line x1="891.50" y1="394.00" x2="891.50" y2="398.00" stroke="#b0b0b0" stroke-width="1" /><line x1="1018.50" y1="394.00" x2="1018.50" y2="398.00" stroke="#b0b0b0" stroke-width="1" /><line x1="1183.00" y1="253.50" x2="1691.00" y2="253.50" stroke="#f0f0f0" stroke-width="1" /><line x1="1183.00" y1="288.50" x2="1691.00" y2="288.50" stroke="#f0f0f0" stroke-width="1" /><line x1="1183.00" y1="323.50" x2="1691.00" y2="323.50" stroke="#f0f0f0" stroke-width="1" /><line x1="1183.00" y1="358.50" x2="1691.00" y2="358.50" stroke="#f0f0f0" stroke-width="1" /><polygon points="1183.3,378.2 1189.3,379.0 1196.0,378.2 1202.5,376.3 1206.2,377.6 1211.0,379.0 1214.7,377.6 1218.5,379.1 1225.1,378.2 1229.8,378.2 1234.1,376.3 1238.0,377.6 1242.0,379.1 1245.8,376.7 1248.5,377.6 1251.4,379.1 1255.2,376.7 1260.6,375.8 1263.5,372.9 1266.3,367.3 1270.1,362.6 1273.8,359.7 1276.7,360.7 1278.0,367.3 1279.5,372.9 1283.2,373.9 1288.0,371.4 1291.7,372.9 1294.5,371.4 1299.3,374.4 1304.0,372.5 1307.7,370.1 1313.4,370.1 1318.1,368.2 1321.9,372.0 1326.6,372.9 1330.3,373.9 1336.0,372.9 1340.7,371.4 1344.5,373.9 1349.2,370.7 1355.6,371.0 1361.3,372.0 1366.0,370.7 1371.7,373.3 1375.4,371.4 1378.2,373.9 1387.7,373.3 1396.1,373.3 1400.8,375.2 1406.5,374.4 1409.3,377.6 1411.8,372.9 1415.0,375.2 1420.6,372.9 1425.3,372.6 1432.9,368.8 1436.6,361.6 1440.4,360.1 1445.1,360.1 1447.8,368.0 1451.6,375.2 1456.3,373.3 1462.0,372.6 1465.7,371.0 1470.4,372.0 1476.1,371.0 1484.5,372.9 1489.3,371.4 1493.0,374.8 1497.7,371.4 1502.4,373.3 1508.1,371.0 1512.8,373.3 1516.5,373.3 1522.2,371.4 1526.0,376.7 1531.6,375.8 1537.3,373.9 1540.0,374.8 1542.8,376.7 1546.6,372.6 1551.3,375.8 1556.0,373.9 1561.7,372.0 1565.4,373.9 1573.0,371.0 1578.6,372.6 1585.2,373.9 1589.9,372.6 1594.6,371.0 1598.4,372.9 1605.9,371.4 1611.2,372.6 1612.5,369.2 1615.0,356.6 1620.2,356.6 1622.8,362.0 1626.5,366.3 1629.9,372.0 1634.0,372.3 1637.7,375.2 1642.4,373.3 1647.1,374.8 1652.7,374.4 1656.5,372.0 1661.2,371.0 1665.0,371.0 1668.7,374.4 1674.4,371.0 1677.2,372.6 1680.0,370.7 1683.8,372.9 1688.1,374.8 1688.1,393.0 1183.3,393.0" fill="#bd1a27" /><polygon points="1183.3,359.7 1187.4,362.6 1192.1,364.5 1196.8,362.0 1202.5,357.9 1205.3,360.7 1209.1,363.5 1212.8,361.1 1217.5,362.6 1222.3,360.7 1226.0,363.1 1230.7,360.7 1234.5,358.8 1238.3,361.6 1243.0,362.6 1246.7,358.8 1251.4,364.5 1255.2,360.7 1258.8,356.0 1262.5,355.0 1264.4,346.6 1267.2,331.5 1270.1,323.0 1273.5,320.2 1275.7,324.0 1277.6,339.0 1279.1,349.4 1281.4,352.2 1284.2,351.3 1288.0,346.6 1290.8,349.4 1293.6,347.5 1296.4,351.3 1301.1,352.2 1304.0,348.4 1307.7,345.1 1311.5,348.4 1315.3,346.6 1320.0,342.8 1323.7,349.4 1327.5,348.4 1330.3,352.2 1334.1,349.4 1337.9,351.3 1341.6,347.5 1345.4,351.3 1350.0,346.6 1356.6,344.3 1361.3,349.4 1366.0,345.1 1369.8,348.8 1374.5,347.5 1378.2,352.2 1385.8,348.1 1389.5,353.2 1397.1,350.7 1400.8,352.6 1406.5,353.2 1409.3,356.4 1411.8,350.0 1415.0,356.9 1420.6,346.6 1423.4,353.7 1427.2,350.3 1431.9,340.0 1434.7,338.1 1437.6,323.0 1440.4,321.7 1443.2,324.9 1445.5,320.5 1446.9,332.4 1448.8,349.4 1451.6,354.1 1457.2,353.7 1461.0,349.4 1465.3,346.2 1468.5,350.0 1473.2,348.8 1477.0,350.7 1482.7,349.4 1487.4,346.9 1490.2,355.0 1495.8,347.5 1500.6,350.3 1505.3,348.1 1510.0,350.3 1513.8,349.4 1517.5,351.3 1521.3,350.3 1526.0,356.0 1530.7,352.6 1535.4,356.0 1539.2,354.1 1543.8,358.8 1547.5,350.3 1552.8,357.5 1557.0,351.3 1560.7,348.8 1564.5,355.6 1570.1,351.3 1573.9,347.5 1577.7,350.3 1581.4,349.4 1585.2,353.2 1589.9,345.6 1592.7,348.4 1595.6,343.2 1598.4,348.4 1603.1,345.6 1606.8,350.3 1609.4,348.1 1612.2,344.7 1614.8,316.0 1617.5,317.9 1620.4,317.4 1623.2,322.0 1626.4,333.4 1628.6,348.4 1631.8,348.4 1634.8,348.8 1637.3,354.5 1639.9,350.0 1643.3,352.2 1647.1,352.6 1650.8,350.3 1654.6,355.0 1657.4,345.6 1660.6,347.5 1665.0,347.5 1668.7,354.1 1672.5,347.5 1675.3,348.8 1680.0,344.3 1683.8,350.0 1688.1,356.0 1688.1,374.8 1683.8,372.9 1680.0,370.7 1677.2,372.6 1674.4,371.0 1668.7,374.4 1665.0,371.0 1661.2,371.0 1656.5,372.0 1652.7,374.4 1647.1,374.8 1642.4,373.3 1637.7,375.2 1634.0,372.3 1629.9,372.0 1626.5,366.3 1622.8,362.0 1620.2,356.6 1615.0,356.6 1612.5,369.2 1611.2,372.6 1605.9,371.4 1598.4,372.9 1594.6,371.0 1589.9,372.6 1585.2,373.9 1578.6,372.6 1573.0,371.0 1565.4,373.9 1561.7,372.0 1556.0,373.9 1551.3,375.8 1546.6,372.6 1542.8,376.7 1540.0,374.8 1537.3,373.9 1531.6,375.8 1526.0,376.7 1522.2,371.4 1516.5,373.3 1512.8,373.3 1508.1,371.0 1502.4,373.3 1497.7,371.4 1493.0,374.8 1489.3,371.4 1484.5,372.9 1476.1,371.0 1470.4,372.0 1465.7,371.0 1462.0,372.6 1456.3,373.3 1451.6,375.2 1447.8,368.0 1445.1,360.1 1440.4,360.1 1436.6,361.6 1432.9,368.8 1425.3,372.6 1420.6,372.9 1415.0,375.2 1411.8,372.9 1409.3,377.6 1406.5,374.4 1400.8,375.2 1396.1,373.3 1387.7,373.3 1378.2,373.9 1375.4,371.4 1371.7,373.3 1366.0,370.7 1361.3,372.0 1355.6,371.0 1349.2,370.7 1344.5,373.9 1340.7,371.4 1336.0,372.9 1330.3,373.9 1326.6,372.9 1321.9,372.0 1318.1,368.2 1313.4,370.1 1307.7,370.1 1304.0,372.5 1299.3,374.4 1294.5,371.4 1291.7,372.9 1288.0,371.4 1283.2,373.9 1279.5,372.9 1278.0,367.3 1276.7,360.7 1273.8,359.7 1270.1,362.6 1266.3,367.3 1263.5,372.9 1260.6,375.8 1255.2,376.7 1251.4,379.1 1248.5,377.6 1245.8,376.7 1242.0,379.1 1238.0,377.6 1234.1,376.3 1229.8,378.2 1225.1,378.2 1218.5,379.1 1214.7,377.6 1211.0,379.0 1206.2,377.6 1202.5,376.3 1196.0,378.2 1189.3,379.0 1183.3,378.2" fill="#ee3a23" /><polygon points="1183.3,344.7 1187.4,350.3 1192.1,351.3 1196.8,349.4 1202.5,342.8 1206.2,346.6 1209.1,350.3 1212.8,348.4 1217.5,350.3 1222.3,348.4 1226.0,350.7 1230.7,346.6 1234.5,345.6 1239.0,347.5 1243.0,350.3 1247.7,343.7 1251.4,350.3 1254.3,345.6 1258.4,342.5 1262.5,340.5 1264.4,320.2 1266.7,303.2 1269.1,295.7 1271.0,291.0 1273.5,284.8 1276.7,293.8 1278.5,312.7 1280.4,332.4 1282.3,333.4 1284.2,331.5 1287.4,324.9 1289.8,328.7 1293.6,324.0 1296.4,331.5 1299.3,331.5 1301.1,335.3 1304.0,327.7 1307.4,319.8 1309.6,324.0 1312.4,328.7 1315.3,324.0 1319.0,321.1 1321.9,320.6 1324.7,327.7 1327.5,322.1 1330.3,330.6 1333.2,328.7 1336.0,326.2 1338.8,332.4 1341.6,329.6 1345.4,331.5 1349.2,325.8 1354.7,323.0 1358.5,320.2 1361.3,328.7 1367.0,324.3 1370.7,330.0 1374.5,322.1 1379.2,333.4 1386.7,327.7 1391.4,336.2 1394.3,332.4 1399.9,330.6 1407.4,335.3 1409.3,337.1 1411.8,326.2 1415.0,337.1 1420.1,323.6 1424.4,334.3 1428.2,327.7 1432.9,312.7 1434.7,308.9 1437.0,291.6 1442.3,292.9 1446.2,288.4 1447.9,316.4 1448.8,322.1 1450.6,333.4 1452.5,336.2 1455.4,334.9 1457.3,335.6 1460.1,330.6 1465.7,325.5 1468.5,329.6 1473.2,329.6 1477.0,328.1 1479.8,330.6 1484.5,325.8 1488.3,323.6 1491.1,336.2 1495.8,327.7 1499.6,331.1 1504.9,327.7 1510.0,330.6 1513.2,328.1 1517.5,332.4 1522.2,330.6 1526.0,339.0 1530.7,335.3 1533.5,335.6 1536.3,339.0 1539.2,337.1 1542.8,337.1 1544.7,340.9 1547.5,330.6 1551.3,334.3 1552.8,337.1 1555.1,331.5 1558.8,331.5 1561.7,325.8 1564.5,336.2 1568.2,332.4 1573.0,329.2 1576.7,331.1 1579.5,330.0 1582.4,333.4 1585.2,329.6 1587.1,333.4 1589.3,328.1 1592.7,327.4 1595.6,321.7 1598.4,326.8 1602.1,324.9 1605.9,328.7 1608.7,324.9 1612.0,324.9 1613.6,282.5 1615.3,281.0 1618.3,286.3 1620.8,285.4 1623.6,294.5 1627.0,308.5 1629.3,328.7 1632.0,328.7 1634.8,328.3 1637.7,334.3 1639.9,330.0 1643.3,333.4 1646.1,335.3 1648.6,331.5 1652.7,331.1 1654.6,335.3 1657.4,323.6 1660.6,327.4 1663.1,325.8 1666.3,324.3 1669.7,335.3 1674.4,326.8 1676.8,329.2 1680.0,322.1 1683.8,328.7 1688.1,336.8 1688.1,356.0 1683.8,350.0 1680.0,344.3 1675.3,348.8 1672.5,347.5 1668.7,354.1 1665.0,347.5 1660.6,347.5 1657.4,345.6 1654.6,355.0 1650.8,350.3 1647.1,352.6 1643.3,352.2 1639.9,350.0 1637.3,354.5 1634.8,348.8 1631.8,348.4 1628.6,348.4 1626.4,333.4 1623.2,322.0 1620.4,317.4 1617.5,317.9 1614.8,316.0 1612.2,344.7 1609.4,348.1 1606.8,350.3 1603.1,345.6 1598.4,348.4 1595.6,343.2 1592.7,348.4 1589.9,345.6 1585.2,353.2 1581.4,349.4 1577.7,350.3 1573.9,347.5 1570.1,351.3 1564.5,355.6 1560.7,348.8 1557.0,351.3 1552.8,357.5 1547.5,350.3 1543.8,358.8 1539.2,354.1 1535.4,356.0 1530.7,352.6 1526.0,356.0 1521.3,350.3 1517.5,351.3 1513.8,349.4 1510.0,350.3 1505.3,348.1 1500.6,350.3 1495.8,347.5 1490.2,355.0 1487.4,346.9 1482.7,349.4 1477.0,350.7 1473.2,348.8 1468.5,350.0 1465.3,346.2 1461.0,349.4 1457.2,353.7 1451.6,354.1 1448.8,349.4 1446.9,332.4 1445.5,320.5 1443.2,324.9 1440.4,321.7 1437.6,323.0 1434.7,338.1 1431.9,340.0 1427.2,350.3 1423.4,353.7 1420.6,346.6 1415.0,356.9 1411.8,350.0 1409.3,356.4 1406.5,353.2 1400.8,352.6 1397.1,350.7 1389.5,353.2 1385.8,348.1 1378.2,352.2 1374.5,347.5 1369.8,348.8 1366.0,345.1 1361.3,349.4 1356.6,344.3 1350.0,346.6 1345.4,351.3 1341.6,347.5 1337.9,351.3 1334.1,349.4 1330.3,352.2 1327.5,348.4 1323.7,349.4 1320.0,342.8 1315.3,346.6 1311.5,348.4 1307.7,345.1 1304.0,348.4 1301.1,352.2 1296.4,351.3 1293.6,347.5 1290.8,349.4 1288.0,346.6 1284.2,351.3 1281.4,352.2 1279.1,349.4 1277.6,339.0 1275.7,324.0 1273.5,320.2 1270.1,323.0 1267.2,331.5 1264.4,346.6 1262.5,355.0 1258.8,356.0 1255.2,360.7 1251.4,364.5 1246.7,358.8 1243.0,362.6 1238.3,361.6 1234.5,358.8 1230.7,360.7 1226.0,363.1 1222.3,360.7 1217.5,362.6 1212.8,361.1 1209.1,363.5 1205.3,360.7 1202.5,357.9 1196.8,362.0 1192.1,364.5 1187.4,362.6 1183.3,359.7" fill="#f98b3a" /><polygon points="1183.3,328.7 1185.5,337.1 1188.4,336.2 1191.6,338.1 1196.8,334.3 1201.5,328.7 1206.2,325.8 1209.1,336.2 1212.0,336.2 1214.7,331.1 1217.5,336.2 1222.3,334.3 1225.1,337.1 1227.9,332.4 1233.6,331.5 1236.4,333.4 1239.8,329.6 1243.0,335.6 1248.6,326.8 1251.4,335.3 1255.2,331.1 1258.8,323.5 1262.5,324.9 1264.4,305.1 1267.2,291.0 1269.1,293.8 1271.0,291.0 1271.0,291.0 1269.1,295.7 1267.2,301.6 1264.4,320.2 1262.5,340.5 1258.8,342.3 1255.2,344.9 1251.4,350.3 1248.6,345.3 1243.0,350.3 1239.8,348.1 1236.4,346.4 1233.6,345.8 1227.9,349.0 1225.1,350.1 1222.3,348.4 1217.5,350.3 1214.7,349.2 1212.0,348.8 1209.1,350.3 1206.2,346.6 1201.5,344.0 1196.8,349.4 1191.6,351.2 1188.4,350.5 1185.5,347.7 1183.3,344.7" fill="#fdc45c" /><polyline points="1183.3,328.7 1185.5,337.1 1188.4,336.2 1191.6,338.1 1196.8,334.3 1201.5,328.7 1206.2,325.8 1209.1,336.2 1212.0,336.2 1214.7,331.1 1217.5,336.2 1222.3,334.3 1225.1,337.1 1227.9,332.4 1233.6,331.5 1236.4,333.4 1239.8,329.6 1243.0,335.6 1248.6,326.8 1251.4,335.3 1255.2,331.1 1258.8,323.5 1262.5,324.9 1264.4,305.1 1267.2,291.0 1269.1,293.8 1271.0,291.0" fill="none" stroke="#f98b3a" stroke-width="2"/><polyline points="1183.3,359.7 1187.4,362.6 1192.1,364.5 1196.8,362.0 1202.5,357.9 1205.3,360.7 1209.1,363.5 1212.8,361.1 1217.5,362.6 1222.3,360.7 1226.0,363.1 1230.7,360.7 1234.5,358.8 1238.3,361.6 1243.0,362.6 1246.7,358.8 1251.4,364.5 1255.2,360.7 1258.8,356.0 1262.5,355.0 1264.4,346.6 1267.2,331.5 1270.1,323.0 1273.5,320.2 1275.7,324.0 1277.6,339.0 1279.1,349.4 1281.4,352.2 1284.2,351.3 1288.0,346.6 1290.8,349.4 1293.6,347.5 1296.4,351.3 1301.1,352.2 1304.0,348.4 1307.7,345.1 1311.5,348.4 1315.3,346.6 1320.0,342.8 1323.7,349.4 1327.5,348.4 1330.3,352.2 1334.1,349.4 1337.9,351.3 1341.6,347.5 1345.4,351.3 1350.0,346.6 1356.6,344.3 1361.3,349.4 1366.0,345.1 1369.8,348.8 1374.5,347.5 1378.2,352.2 1385.8,348.1 1389.5,353.2 1397.1,350.7 1400.8,352.6 1406.5,353.2 1409.3,356.4 1411.8,350.0 1415.0,356.9 1420.6,346.6 1423.4,353.7 1427.2,350.3 1431.9,340.0 1434.7,338.1 1437.6,323.0 1440.4,321.7 1443.2,324.9 1445.5,320.5 1446.9,332.4 1448.8,349.4 1451.6,354.1 1457.2,353.7 1461.0,349.4 1465.3,346.2 1468.5,350.0 1473.2,348.8 1477.0,350.7 1482.7,349.4 1487.4,346.9 1490.2,355.0 1495.8,347.5 1500.6,350.3 1505.3,348.1 1510.0,350.3 1513.8,349.4 1517.5,351.3 1521.3,350.3 1526.0,356.0 1530.7,352.6 1535.4,356.0 1539.2,354.1 1543.8,358.8 1547.5,350.3 1552.8,357.5 1557.0,351.3 1560.7,348.8 1564.5,355.6 1570.1,351.3 1573.9,347.5 1577.7,350.3 1581.4,349.4 1585.2,353.2 1589.9,345.6 1592.7,348.4 1595.6,343.2 1598.4,348.4 1603.1,345.6 1606.8,350.3 1609.4,348.1 1612.2,344.7 1614.8,316.0 1617.5,317.9 1620.4,317.4 1623.2,322.0 1626.4,333.4 1628.6,348.4 1631.8,348.4 1634.8,348.8 1637.3,354.5 1639.9,350.0 1643.3,352.2 1647.1,352.6 1650.8,350.3 1654.6,355.0 1657.4,345.6 1660.6,347.5 1665.0,347.5 1668.7,354.1 1672.5,347.5 1675.3,348.8 1680.0,344.3 1683.8,350.0 1688.1,356.0" fill="none" stroke="#f46a3a" stroke-width="0.6" opacity="0.6"/><polyline points="1183.3,378.2 1189.3,379.0 1196.0,378.2 1202.5,376.3 1206.2,377.6 1211.0,379.0 1214.7,377.6 1218.5,379.1 1225.1,378.2 1229.8,378.2 1234.1,376.3 1238.0,377.6 1242.0,379.1 1245.8,376.7 1248.5,377.6 1251.4,379.1 1255.2,376.7 1260.6,375.8 1263.5,372.9 1266.3,367.3 1270.1,362.6 1273.8,359.7 1276.7,360.7 1278.0,367.3 1279.5,372.9 1283.2,373.9 1288.0,371.4 1291.7,372.9 1294.5,371.4 1299.3,374.4 1304.0,372.5 1307.7,370.1 1313.4,370.1 1318.1,368.2 1321.9,372.0 1326.6,372.9 1330.3,373.9 1336.0,372.9 1340.7,371.4 1344.5,373.9 1349.2,370.7 1355.6,371.0 1361.3,372.0 1366.0,370.7 1371.7,373.3 1375.4,371.4 1378.2,373.9 1387.7,373.3 1396.1,373.3 1400.8,375.2 1406.5,374.4 1409.3,377.6 1411.8,372.9 1415.0,375.2 1420.6,372.9 1425.3,372.6 1432.9,368.8 1436.6,361.6 1440.4,360.1 1445.1,360.1 1447.8,368.0 1451.6,375.2 1456.3,373.3 1462.0,372.6 1465.7,371.0 1470.4,372.0 1476.1,371.0 1484.5,372.9 1489.3,371.4 1493.0,374.8 1497.7,371.4 1502.4,373.3 1508.1,371.0 1512.8,373.3 1516.5,373.3 1522.2,371.4 1526.0,376.7 1531.6,375.8 1537.3,373.9 1540.0,374.8 1542.8,376.7 1546.6,372.6 1551.3,375.8 1556.0,373.9 1561.7,372.0 1565.4,373.9 1573.0,371.0 1578.6,372.6 1585.2,373.9 1589.9,372.6 1594.6,371.0 1598.4,372.9 1605.9,371.4 1611.2,372.6 1612.5,369.2 1615.0,356.6 1620.2,356.6 1622.8,362.0 1626.5,366.3 1629.9,372.0 1634.0,372.3 1637.7,375.2 1642.4,373.3 1647.1,374.8 1652.7,374.4 1656.5,372.0 1661.2,371.0 1665.0,371.0 1668.7,374.4 1674.4,371.0 1677.2,372.6 1680.0,370.7 1683.8,372.9 1688.1,374.8" fill="none" stroke="#e05050" stroke-width="0.6" opacity="0.6"/><line x1="1183.00" y1="393.50" x2="1691.00" y2="393.50" stroke="#c8c8c8" stroke-width="1" /><line x1="1208.50" y1="394.00" x2="1208.50" y2="398.00" stroke="#b0b0b0" stroke-width="1" /><line x1="1335.50" y1="394.00" x2="1335.50" y2="398.00" stroke="#b0b0b0" stroke-width="1" /><line x1="1462.50" y1="394.00" x2="1462.50" y2="398.00" stroke="#b0b0b0" stroke-width="1" /><line x1="1589.50" y1="394.00" x2="1589.50" y2="398.00" stroke="#b0b0b0" stroke-width="1" /><line x1="42.00" y1="488.50" x2="549.00" y2="488.50" stroke="#f0f0f0" stroke-width="1" /><line x1="42.00" y1="517.50" x2="549.00" y2="517.50" stroke="#f0f0f0" stroke-width="1" /><line x1="42.00" y1="546.50" x2="549.00" y2="546.50" stroke="#f0f0f0" stroke-width="1" /><line x1="42.00" y1="575.50" x2="549.00" y2="575.50" stroke="#f0f0f0" stroke-width="1" /><polygon points="42.1,546.3 45.1,568.8 47.8,526.9 51.3,533.5 53.9,517.3 56.8,574.9 59.4,557.6 62.1,517.3 64.9,574.9 67.6,550.4 70.7,559.6 73.3,541.2 76.4,552.4 79.4,593.3 81.9,593.3 84.9,581.0 87.4,581.0 90.7,553.1 93.7,581.0 96.8,593.3 99.2,600.4 101.7,575.9 104.3,598.4 108.4,586.1 111.1,581.0 113.5,588.2 116.6,568.8 119.2,562.7 121.7,592.2 124.4,552.4 127.1,568.8 130.1,494.3 132.8,581.0 135.6,528.6 138.3,528.6 141.3,581.0 144.0,535.1 146.9,550.4 149.5,563.7 152.6,556.5 155.2,581.0 158.3,598.4 161.1,511.6 163.8,563.7 166.9,556.5 169.5,550.4 172.6,593.3 175.4,568.8 178.1,552.4 180.7,593.3 183.6,593.3 186.2,563.7 188.9,598.4 192.0,522.9 194.4,561.6 197.5,600.4 199.9,593.3 203.2,581.0 206.0,557.6 208.7,557.6 211.8,567.8 214.5,593.3 217.1,600.4 220.2,586.1 222.9,593.3 225.9,567.8 228.8,574.9 231.4,564.1 234.1,598.4 236.9,581.6 240.0,598.4 242.7,545.3 245.7,541.2 248.8,598.4 251.4,573.9 253.9,580.0 256.9,564.1 260.0,574.3 262.7,531.0 265.1,517.3 267.8,598.4 270.8,552.4 273.7,598.4 276.3,588.2 279.4,541.2 281.8,598.4 285.1,598.4 288.0,586.1 290.8,541.2 293.7,581.0 296.7,568.2 299.3,578.0 302.1,533.1 304.8,517.3 307.8,593.3 310.3,600.4 313.3,587.1 316.0,598.4 318.9,598.4 321.5,587.1 324.6,598.4 327.6,558.6 330.3,582.0 333.1,599.4 335.8,593.3 338.9,586.1 341.3,591.2 344.6,575.9 347.4,565.7 350.1,558.2 352.7,569.8 355.6,587.1 358.2,558.2 361.3,587.1 364.0,574.9 367.0,574.9 369.9,587.1 372.9,558.2 375.6,598.4 378.2,598.4 381.3,586.1 384.0,575.9 386.5,592.2 389.6,564.1 392.2,574.9 395.3,598.4 397.9,541.2 401.0,592.2 403.4,581.0 406.5,523.5 409.1,553.5 412.2,544.3 415.1,587.1 417.7,535.1 420.8,574.9 423.4,551.8 426.5,552.4 429.3,598.4 432.0,558.6 434.7,587.1 437.5,568.8 440.6,574.9 443.2,594.3 446.3,587.1 448.9,546.3 451.8,546.3 454.9,592.2 457.5,562.7 460.0,538.8 463.0,545.3 465.7,587.1 468.5,594.5 471.1,581.0 473.8,562.7 476.6,569.8 479.3,552.4 482.3,546.3 485.4,546.3 488.0,592.2 490.9,564.1 494.0,587.1 496.6,598.4 499.3,564.1 502.3,598.4 505.2,587.1 508.2,575.9 510.9,587.1 514.0,567.8 516.6,552.4 519.5,574.9 522.1,546.3 525.2,564.1 527.8,564.1 530.7,535.1 533.3,577.6 536.4,569.8 539.1,529.0 541.9,587.1 544.8,564.1 544.8,605.0 42.1,605.0" fill="#e3211c" /><polyline points="42.1,546.3 45.1,568.8 47.8,526.9 51.3,533.5 53.9,517.3 56.8,574.9 59.4,557.6 62.1,517.3 64.9,574.9 67.6,550.4 70.7,559.6 73.3,541.2 76.4,552.4 79.4,593.3 81.9,593.3 84.9,581.0 87.4,581.0 90.7,553.1 93.7,581.0 96.8,593.3 99.2,600.4 101.7,575.9 104.3,598.4 108.4,586.1 111.1,581.0 113.5,588.2 116.6,568.8 119.2,562.7 121.7,592.2 124.4,552.4 127.1,568.8 130.1,494.3 132.8,581.0 135.6,528.6 138.3,528.6 141.3,581.0 144.0,535.1 146.9,550.4 149.5,563.7 152.6,556.5 155.2,581.0 158.3,598.4 161.1,511.6 163.8,563.7 166.9,556.5 169.5,550.4 172.6,593.3 175.4,568.8 178.1,552.4 180.7,593.3 183.6,593.3 186.2,563.7 188.9,598.4 192.0,522.9 194.4,561.6 197.5,600.4 199.9,593.3 203.2,581.0 206.0,557.6 208.7,557.6 211.8,567.8 214.5,593.3 217.1,600.4 220.2,586.1 222.9,593.3 225.9,567.8 228.8,574.9 231.4,564.1 234.1,598.4 236.9,581.6 240.0,598.4 242.7,545.3 245.7,541.2 248.8,598.4 251.4,573.9 253.9,580.0 256.9,564.1 260.0,574.3 262.7,531.0 265.1,517.3 267.8,598.4 270.8,552.4 273.7,598.4 276.3,588.2 279.4,541.2 281.8,598.4 285.1,598.4 288.0,586.1 290.8,541.2 293.7,581.0 296.7,568.2 299.3,578.0 302.1,533.1 304.8,517.3 307.8,593.3 310.3,600.4 313.3,587.1 316.0,598.4 318.9,598.4 321.5,587.1 324.6,598.4 327.6,558.6 330.3,582.0 333.1,599.4 335.8,593.3 338.9,586.1 341.3,591.2 344.6,575.9 347.4,565.7 350.1,558.2 352.7,569.8 355.6,587.1 358.2,558.2 361.3,587.1 364.0,574.9 367.0,574.9 369.9,587.1 372.9,558.2 375.6,598.4 378.2,598.4 381.3,586.1 384.0,575.9 386.5,592.2 389.6,564.1 392.2,574.9 395.3,598.4 397.9,541.2 401.0,592.2 403.4,581.0 406.5,523.5 409.1,553.5 412.2,544.3 415.1,587.1 417.7,535.1 420.8,574.9 423.4,551.8 426.5,552.4 429.3,598.4 432.0,558.6 434.7,587.1 437.5,568.8 440.6,574.9 443.2,594.3 446.3,587.1 448.9,546.3 451.8,546.3 454.9,592.2 457.5,562.7 460.0,538.8 463.0,545.3 465.7,587.1 468.5,594.5 471.1,581.0 473.8,562.7 476.6,569.8 479.3,552.4 482.3,546.3 485.4,546.3 488.0,592.2 490.9,564.1 494.0,587.1 496.6,598.4 499.3,564.1 502.3,598.4 505.2,587.1 508.2,575.9 510.9,587.1 514.0,567.8 516.6,552.4 519.5,574.9 522.1,546.3 525.2,564.1 527.8,564.1 530.7,535.1 533.3,577.6 536.4,569.8 539.1,529.0 541.9,587.1 544.8,564.1" fill="none" stroke="#f98b3a" stroke-width="2.1" stroke-linejoin="round"/><line x1="42.00" y1="605.50" x2="550.00" y2="605.50" stroke="#c8c8c8" stroke-width="1" /><line x1="67.50" y1="606.00" x2="67.50" y2="610.00" stroke="#b0b0b0" stroke-width="1" /><line x1="194.50" y1="606.00" x2="194.50" y2="610.00" stroke="#b0b0b0" stroke-width="1" /><line x1="321.50" y1="606.00" x2="321.50" y2="610.00" stroke="#b0b0b0" stroke-width="1" /><line x1="448.50" y1="606.00" x2="448.50" y2="610.00" stroke="#b0b0b0" stroke-width="1" /><line x1="612.00" y1="465.50" x2="1120.00" y2="465.50" stroke="#f0f0f0" stroke-width="1" /><line x1="612.00" y1="493.50" x2="1120.00" y2="493.50" stroke="#f0f0f0" stroke-width="1" /><line x1="612.00" y1="521.50" x2="1120.00" y2="521.50" stroke="#f0f0f0" stroke-width="1" /><line x1="612.00" y1="549.50" x2="1120.00" y2="549.50" stroke="#f0f0f0" stroke-width="1" /><line x1="612.00" y1="577.50" x2="1120.00" y2="577.50" stroke="#f0f0f0" stroke-width="1" /><polyline points="612.1,604.0 614.9,604.1 617.8,604.1 620.6,604.2 623.4,604.1 626.3,604.2 629.1,603.8 631.9,604.0 634.7,604.2 637.6,604.1 640.4,604.2 643.2,603.8 646.1,604.0 648.9,603.9 651.7,604.0 654.6,604.0 657.4,603.8 660.2,603.9 663.0,603.9 665.9,604.2 668.7,604.1 671.5,603.9 674.4,604.1 677.2,603.9 680.0,604.0 682.9,603.9 685.7,603.8 688.5,604.1 691.3,603.9 694.2,603.9 697.0,604.2 699.8,604.1 702.7,603.9 705.5,604.2 708.3,604.0 711.2,604.1 714.0,603.9 716.8,604.2 719.6,604.1 722.5,604.2 725.3,604.2 728.1,603.9 731.0,603.9 733.8,603.9 736.6,603.9 739.5,603.8 742.3,603.9 745.1,604.0 747.9,603.8 750.8,604.1 753.6,603.9 756.4,603.9 759.3,604.1 762.1,604.0 764.9,603.9 767.8,604.0 770.6,604.1 773.4,603.8 776.2,604.2 779.1,603.8 781.9,604.1 784.7,604.1 787.6,603.8 790.4,604.1 793.2,603.9 796.1,604.0 798.9,603.8 801.7,603.8 804.5,603.9 807.4,604.2 810.2,603.9 813.0,604.1 815.9,604.2 818.7,604.2 821.5,603.9 824.4,603.9 827.2,604.0 830.0,604.1 832.8,603.8 835.7,604.1 838.5,604.1 841.3,604.1 844.2,603.8 847.0,604.2 849.8,603.8 852.7,603.9 855.5,604.0 858.3,604.2 861.1,603.9 864.0,604.2 866.8,604.0 869.6,603.9 872.5,603.9 875.3,603.9 878.1,603.8 881.0,603.9 883.8,604.1 886.6,604.2 889.4,603.9 892.3,603.8 895.1,604.2 897.9,604.0 900.8,604.0 903.6,603.9 906.4,604.0 909.3,604.1 912.1,604.0 914.9,604.0 917.7,603.8 920.6,604.2 923.4,603.8 926.2,604.0 929.1,604.1 931.9,603.9 934.7,604.1 937.6,604.2 940.4,604.1 943.2,604.1 946.0,603.8 948.9,604.0 951.7,603.9 954.5,604.1 957.4,603.9 960.2,604.0 963.0,604.2 965.9,604.1 968.7,604.2 971.5,604.0 974.3,604.0 977.2,604.1 980.0,604.0 982.8,603.9 985.7,604.0 988.5,603.9 991.3,604.0 994.2,604.2 997.0,604.2 999.8,604.1 1002.6,604.0 1005.5,603.9 1008.3,603.8 1011.1,603.9 1014.0,604.1 1016.8,604.1 1019.6,603.9 1022.5,604.1 1025.3,604.1 1028.1,604.1 1030.9,604.1 1033.8,604.1 1036.6,603.9 1039.4,604.1 1042.3,603.9 1045.1,604.0 1047.9,604.1 1050.8,604.1 1053.6,603.9 1056.4,604.2 1059.2,604.1 1062.1,604.0 1064.9,603.8 1067.7,604.0 1070.6,603.9 1073.4,604.1 1076.2,604.0 1079.1,604.1 1081.9,604.1 1084.7,604.1 1087.5,603.9 1090.4,604.1 1093.2,604.1 1096.0,604.1 1098.9,603.9 1101.7,604.1 1104.5,604.1 1107.4,604.1 1110.2,604.2 1113.0,604.2" fill="none" stroke="#3b8fd0" stroke-width="1.8"/><polyline points="612.1,603.3 614.9,603.3 617.8,603.1 620.6,603.5 623.4,603.6 626.3,603.3 629.1,603.4 631.9,603.4 634.7,603.4 637.6,603.1 640.4,603.5 643.2,603.3 646.1,603.4 648.9,603.3 651.7,603.4 654.6,603.5 657.4,603.4 660.2,603.4 663.0,603.0 665.9,603.1 668.7,603.3 671.5,603.4 674.4,603.1 677.2,603.4 680.0,603.4 682.9,603.0 685.7,603.3 688.5,603.1 691.3,603.0 694.2,603.1 697.0,603.2 699.8,603.1 702.7,603.1 705.5,603.0 708.3,603.3 711.2,603.2 714.0,603.4 716.8,603.4 719.6,603.1 722.5,603.5 725.3,603.0 728.1,603.2 731.0,603.2 733.8,603.2 736.6,603.1 739.5,603.5 742.3,603.2 745.1,603.0 747.9,603.4 750.8,603.1 753.6,603.3 756.4,603.2 759.3,603.3 762.1,603.6 764.9,603.5 767.8,603.3 770.6,603.5 773.4,603.4 776.2,603.2 779.1,603.1 781.9,603.4 784.7,603.3 787.6,603.6 790.4,603.6 793.2,603.4 796.1,603.2 798.9,603.5 801.7,603.0 804.5,603.1 807.4,603.3 810.2,603.4 813.0,603.1 815.9,603.4 818.7,603.5 821.5,603.2 824.4,603.3 827.2,603.1 830.0,603.2 832.8,603.6 835.7,603.2 838.5,603.6 841.3,603.5 844.2,603.4 847.0,603.2 849.8,603.6 852.7,603.3 855.5,603.2 858.3,603.2 861.1,603.6 864.0,603.3 866.8,603.2 869.6,603.3 872.5,603.1 875.3,603.4 878.1,603.3 881.0,603.2 883.8,603.5 886.6,603.5 889.4,603.0 892.3,603.3 895.1,603.2 897.9,603.6 900.8,603.5 903.6,603.1 906.4,603.2 909.3,603.1 912.1,603.6 914.9,603.2 917.7,603.4 920.6,603.3 923.4,603.4 926.2,603.4 929.1,603.4 931.9,603.1 934.7,603.5 937.6,603.2 940.4,603.3 943.2,603.2 946.0,603.2 948.9,603.3 951.7,603.3 954.5,603.2 957.4,603.4 960.2,603.4 963.0,603.0 965.9,603.2 968.7,603.3 971.5,603.5 974.3,603.5 977.2,603.3 980.0,603.0 982.8,603.5 985.7,603.3 988.5,603.3 991.3,603.4 994.2,603.4 997.0,603.3 999.8,603.5 1002.6,603.2 1005.5,603.2 1008.3,603.5 1011.1,603.1 1014.0,603.2 1016.8,603.5 1019.6,603.0 1022.5,603.5 1025.3,603.4 1028.1,603.3 1030.9,603.2 1033.8,603.5 1036.6,603.5 1039.4,603.1 1042.3,603.3 1045.1,603.3 1047.9,603.3 1050.8,603.2 1053.6,603.1 1056.4,603.4 1059.2,603.5 1062.1,603.0 1064.9,603.1 1067.7,603.5 1070.6,603.5 1073.4,603.4 1076.2,603.0 1079.1,603.4 1081.9,603.6 1084.7,603.6 1087.5,603.4 1090.4,603.0 1093.2,603.5 1096.0,603.1 1098.9,603.4 1101.7,603.6 1104.5,603.4 1107.4,603.1 1110.2,603.2 1113.0,603.6" fill="none" stroke="#2ba0c4" stroke-width="1.8"/><polyline points="612.1,601.5 614.9,601.7 617.8,600.4 620.6,600.2 623.4,601.9 626.3,602.1 629.1,601.7 631.9,601.9 634.7,602.2 637.6,601.4 640.4,601.5 643.2,601.8 646.1,601.8 648.9,601.6 651.7,601.6 654.6,601.8 657.4,601.6 660.2,602.0 663.0,602.0 665.9,601.4 668.7,601.4 671.5,601.9 674.4,602.1 677.2,601.6 680.0,601.4 682.9,601.4 685.7,602.2 688.5,601.6 691.3,602.2 694.2,602.1 697.0,601.9 699.8,601.6 702.7,601.9 705.5,601.7 708.3,602.1 711.2,602.1 714.0,602.1 716.8,601.9 719.6,602.0 722.5,599.8 725.3,601.4 728.1,601.8 731.0,601.4 733.8,602.2 736.6,601.7 739.5,601.4 742.3,601.5 745.1,601.7 747.9,601.5 750.8,601.6 753.6,601.6 756.4,599.8 759.3,601.7 762.1,602.0 764.9,601.8 767.8,601.5 770.6,601.6 773.4,602.0 776.2,599.9 779.1,601.4 781.9,602.2 784.7,601.6 787.6,601.6 790.4,602.0 793.2,601.6 796.1,602.2 798.9,601.7 801.7,599.5 804.5,599.9 807.4,602.2 810.2,601.7 813.0,601.4 815.9,601.8 818.7,601.4 821.5,601.4 824.4,601.4 827.2,601.7 830.0,599.4 832.8,601.5 835.7,601.7 838.5,601.4 841.3,601.4 844.2,602.2 847.0,602.1 849.8,601.4 852.7,601.8 855.5,601.7 858.3,602.0 861.1,601.6 864.0,602.1 866.8,601.5 869.6,601.4 872.5,602.1 875.3,601.5 878.1,601.6 881.0,601.7 883.8,599.7 886.6,601.4 889.4,601.6 892.3,601.4 895.1,601.6 897.9,601.9 900.8,601.9 903.6,601.9 906.4,602.1 909.3,602.2 912.1,602.0 914.9,602.1 917.7,599.9 920.6,601.6 923.4,599.7 926.2,600.3 929.1,601.5 931.9,602.1 934.7,601.9 937.6,601.7 940.4,599.9 943.2,602.1 946.0,601.4 948.9,601.5 951.7,601.8 954.5,602.1 957.4,601.6 960.2,601.8 963.0,601.7 965.9,602.2 968.7,602.2 971.5,601.4 974.3,599.7 977.2,601.4 980.0,601.8 982.8,601.7 985.7,601.6 988.5,601.9 991.3,602.0 994.2,601.7 997.0,602.2 999.8,602.1 1002.6,601.7 1005.5,602.1 1008.3,601.4 1011.1,601.4 1014.0,602.2 1016.8,602.1 1019.6,602.0 1022.5,601.9 1025.3,599.9 1028.1,601.9 1030.9,601.7 1033.8,601.4 1036.6,601.7 1039.4,602.0 1042.3,602.2 1045.1,602.2 1047.9,602.0 1050.8,602.1 1053.6,601.9 1056.4,601.8 1059.2,601.4 1062.1,601.7 1064.9,602.0 1067.7,601.6 1070.6,601.6 1073.4,601.4 1076.2,602.0 1079.1,602.2 1081.9,602.1 1084.7,601.9 1087.5,601.8 1090.4,601.6 1093.2,601.8 1096.0,601.4 1098.9,601.5 1101.7,602.2 1104.5,601.9 1107.4,601.4 1110.2,601.8 1113.0,601.7" fill="none" stroke="#9a80c6" stroke-width="1.8"/><polyline points="612.1,598.5 614.9,598.6 617.8,598.6 620.6,598.9 623.4,599.2 626.3,598.5 629.1,598.9 631.9,599.1 634.7,598.5 637.6,598.4 640.4,598.9 643.2,599.1 646.1,599.2 648.9,599.0 651.7,598.7 654.6,598.7 657.4,598.8 660.2,599.2 663.0,598.6 665.9,598.6 668.7,598.9 671.5,599.3 674.4,598.5 677.2,598.3 680.0,598.4 682.9,598.9 685.7,598.9 688.5,598.5 691.3,598.5 694.2,598.9 697.0,598.9 699.8,599.0 702.7,599.0 705.5,598.4 708.3,598.8 711.2,599.1 714.0,599.3 716.8,598.6 719.6,599.2 722.5,598.9 725.3,599.2 728.1,598.5 731.0,599.0 733.8,599.1 736.6,598.8 739.5,598.4 742.3,598.5 745.1,598.5 747.9,598.4 750.8,598.5 753.6,598.9 756.4,598.4 759.3,599.1 762.1,599.0 764.9,599.1 767.8,599.1 770.6,599.0 773.4,599.2 776.2,599.3 779.1,598.9 781.9,599.3 784.7,598.4 787.6,598.4 790.4,598.4 793.2,598.5 796.1,598.7 798.9,598.8 801.7,599.0 804.5,599.0 807.4,598.4 810.2,598.7 813.0,598.8 815.9,598.7 818.7,598.4 821.5,598.9 824.4,598.7 827.2,599.0 830.0,598.8 832.8,599.3 835.7,599.2 838.5,598.4 841.3,599.1 844.2,599.0 847.0,598.6 849.8,598.4 852.7,598.8 855.5,598.7 858.3,599.0 861.1,599.2 864.0,598.7 866.8,598.6 869.6,598.8 872.5,599.0 875.3,599.1 878.1,598.9 881.0,598.6 883.8,598.6 886.6,599.1 889.4,598.8 892.3,598.4 895.1,598.7 897.9,598.5 900.8,599.0 903.6,598.4 906.4,598.6 909.3,598.4 912.1,598.8 914.9,599.3 917.7,598.8 920.6,598.7 923.4,599.2 926.2,598.4 929.1,598.7 931.9,599.1 934.7,598.3 937.6,599.1 940.4,598.7 943.2,598.3 946.0,598.6 948.9,598.8 951.7,598.7 954.5,598.8 957.4,598.4 960.2,598.5 963.0,599.3 965.9,598.7 968.7,598.8 971.5,598.4 974.3,598.6 977.2,599.3 980.0,599.0 982.8,598.8 985.7,598.4 988.5,598.7 991.3,599.1 994.2,598.7 997.0,598.9 999.8,599.2 1002.6,598.9 1005.5,598.9 1008.3,598.3 1011.1,598.3 1014.0,599.1 1016.8,598.7 1019.6,599.2 1022.5,599.1 1025.3,599.2 1028.1,598.7 1030.9,599.3 1033.8,599.1 1036.6,599.2 1039.4,598.4 1042.3,599.1 1045.1,598.7 1047.9,599.3 1050.8,599.3 1053.6,598.5 1056.4,598.7 1059.2,598.6 1062.1,598.8 1064.9,598.6 1067.7,599.0 1070.6,598.4 1073.4,598.5 1076.2,598.8 1079.1,598.4 1081.9,598.7 1084.7,599.2 1087.5,599.2 1090.4,598.5 1093.2,598.3 1096.0,599.1 1098.9,599.3 1101.7,598.9 1104.5,598.4 1107.4,598.5 1110.2,599.2 1113.0,599.2" fill="none" stroke="#f0bf05" stroke-width="1.8"/><polyline points="612.1,595.9 614.9,596.5 617.8,597.0 620.6,597.0 623.4,596.6 626.3,596.9 629.1,596.1 631.9,596.4 634.7,596.6 637.6,597.3 640.4,596.7 643.2,596.7 646.1,596.1 648.9,592.7 651.7,596.5 654.6,596.8 657.4,596.0 660.2,596.0 663.0,593.8 665.9,596.5 668.7,597.2 671.5,596.6 674.4,597.2 677.2,597.3 680.0,596.1 682.9,596.0 685.7,596.9 688.5,596.4 691.3,596.3 694.2,597.1 697.0,596.4 699.8,596.7 702.7,594.7 705.5,596.4 708.3,597.3 711.2,596.3 714.0,596.9 716.8,597.1 719.6,596.4 722.5,596.2 725.3,597.1 728.1,597.2 731.0,592.0 733.8,595.0 736.6,597.1 739.5,593.6 742.3,596.1 745.1,596.8 747.9,596.2 750.8,592.2 753.6,592.9 756.4,596.8 759.3,593.2 762.1,597.1 764.9,597.0 767.8,592.2 770.6,596.6 773.4,596.6 776.2,596.2 779.1,597.2 781.9,596.0 784.7,596.0 787.6,596.8 790.4,596.1 793.2,596.6 796.1,596.5 798.9,597.2 801.7,596.3 804.5,596.7 807.4,596.7 810.2,596.5 813.0,597.1 815.9,596.1 818.7,596.4 821.5,596.3 824.4,596.8 827.2,596.1 830.0,596.4 832.8,596.8 835.7,591.8 838.5,596.4 841.3,596.9 844.2,596.5 847.0,592.0 849.8,596.5 852.7,596.0 855.5,596.2 858.3,597.0 861.1,596.6 864.0,596.5 866.8,595.9 869.6,596.3 872.5,596.6 875.3,597.2 878.1,596.0 881.0,596.1 883.8,596.0 886.6,596.7 889.4,596.3 892.3,597.3 895.1,596.2 897.9,597.2 900.8,596.8 903.6,596.4 906.4,596.6 909.3,596.0 912.1,596.6 914.9,597.2 917.7,596.6 920.6,596.9 923.4,596.6 926.2,596.7 929.1,596.2 931.9,596.9 934.7,597.3 937.6,596.1 940.4,596.5 943.2,597.1 946.0,596.9 948.9,596.7 951.7,592.4 954.5,596.1 957.4,596.4 960.2,596.8 963.0,597.1 965.9,596.3 968.7,597.1 971.5,596.5 974.3,597.3 977.2,596.8 980.0,592.1 982.8,596.3 985.7,596.8 988.5,597.1 991.3,596.4 994.2,596.6 997.0,596.8 999.8,596.1 1002.6,595.9 1005.5,597.0 1008.3,596.0 1011.1,596.6 1014.0,596.2 1016.8,597.1 1019.6,597.1 1022.5,596.4 1025.3,596.2 1028.1,595.9 1030.9,596.7 1033.8,596.6 1036.6,596.3 1039.4,596.4 1042.3,597.0 1045.1,594.4 1047.9,597.1 1050.8,591.8 1053.6,596.0 1056.4,596.5 1059.2,596.6 1062.1,595.9 1064.9,597.0 1067.7,597.1 1070.6,596.9 1073.4,592.2 1076.2,597.3 1079.1,596.0 1081.9,596.0 1084.7,596.0 1087.5,595.9 1090.4,596.3 1093.2,596.4 1096.0,597.2 1098.9,596.9 1101.7,596.5 1104.5,593.4 1107.4,597.0 1110.2,597.1 1113.0,597.0" fill="none" stroke="#71c0e0" stroke-width="1.8"/><polyline points="612.1,592.6 615.0,589.8 617.8,567.2 620.8,572.8 623.4,584.1 626.5,593.6 629.3,568.7 632.1,593.6 634.9,587.9 637.7,569.1 641.0,571.0 643.8,573.8 646.6,568.1 649.0,587.0 651.7,587.9 654.5,550.3 657.3,569.1 659.8,586.0 663.0,591.7 665.8,587.9 668.6,592.6 671.5,586.0 674.3,584.1 677.1,581.3 679.9,586.0 682.9,587.0 685.6,580.4 688.4,585.1 691.2,564.4 694.0,580.0 696.8,587.0 699.6,588.9 702.5,572.8 705.3,572.8 708.1,573.8 711.5,590.7 714.3,591.7 717.0,593.6 719.8,584.1 722.6,585.1 725.4,575.7 728.3,588.9 731.1,588.9 733.9,578.5 736.7,590.7 739.2,564.4 742.0,563.4 744.8,587.0 747.7,578.5 750.5,541.8 753.3,586.0 756.1,588.9 759.0,593.6 761.8,566.3 764.6,579.4 767.4,589.8 770.3,580.4 773.1,590.7 775.9,573.8 778.7,590.7 781.6,578.5 784.7,580.4 787.5,588.9 790.4,586.0 793.2,594.5 796.0,566.3 798.8,594.5 801.7,592.6 804.5,587.9 807.3,590.7 810.1,566.3 813.0,590.7 815.8,575.7 818.6,589.8 821.4,563.4 824.2,582.3 827.1,595.4 829.9,586.0 832.7,594.5 835.5,580.4 838.0,565.3 841.2,576.6 844.0,589.8 846.8,588.9 849.7,587.9 852.5,575.7 855.3,583.2 858.1,594.5 861.0,592.6 863.8,591.7 866.4,593.0 868.8,578.5 871.6,561.5 874.5,567.2 877.3,588.9 880.1,582.3 883.3,559.7 886.1,575.7 889.0,584.1 891.8,586.0 894.6,587.0 897.4,567.2 900.3,559.7 903.1,589.8 905.9,590.7 908.7,558.7 911.6,578.5 914.4,565.3 917.2,588.9 920.2,564.4 923.1,578.5 925.9,587.9 928.7,564.4 931.5,563.4 934.2,555.9 937.0,593.6 939.8,572.8 942.6,588.9 945.5,556.8 948.3,567.2 951.1,575.7 953.6,574.7 956.3,574.0 959.5,587.9 962.4,592.6 965.2,589.8 968.0,557.8 970.8,586.0 973.7,574.7 976.5,563.4 979.3,587.9 982.1,566.3 985.0,575.7 987.8,592.6 990.6,561.5 993.4,587.0 996.2,559.7 999.1,575.7 1001.9,588.9 1004.7,559.7 1007.5,580.4 1010.4,559.7 1013.2,562.5 1016.0,539.9 1018.8,520.1 1021.7,571.0 1024.5,546.5 1027.3,588.9 1030.1,563.4 1033.0,587.9 1035.8,588.9 1038.6,573.0 1040.8,577.6 1044.0,587.0 1047.0,546.5 1049.7,591.7 1052.7,550.3 1055.3,592.6 1058.1,574.7 1061.0,573.8 1063.8,594.5 1066.6,591.7 1069.4,593.6 1072.3,588.9 1075.1,561.5 1077.9,574.7 1080.7,585.1 1083.6,580.4 1086.4,570.0 1089.2,572.8 1092.0,587.9 1094.9,588.9 1097.7,543.7 1100.5,582.3 1103.3,571.0 1106.2,569.1 1109.0,525.8 1111.8,589.8 1114.8,581.3" fill="none" stroke="#a184c8" stroke-width="1.9" stroke-linejoin="round"/><polyline points="612.1,576.6 615.0,576.6 617.8,561.5 620.6,571.0 623.4,559.7 626.5,561.5 629.1,567.6 632.1,500.4 634.9,558.7 637.7,568.1 641.0,570.0 643.4,575.7 646.0,562.5 649.0,571.9 651.7,557.8 654.5,542.7 657.0,560.6 659.8,558.7 663.0,582.3 665.8,565.3 668.6,586.0 671.5,552.5 674.3,584.1 677.1,578.5 679.9,522.0 682.9,525.8 685.6,567.2 690.8,563.4 694.0,539.9 696.8,545.0 699.6,571.9 702.5,571.0 705.3,572.8 708.1,564.4 711.5,587.9 714.3,574.7 717.0,566.3 719.8,583.2 722.6,519.2 725.4,572.8 728.3,569.1 731.1,543.1 733.9,575.7 736.4,562.5 739.2,561.5 742.0,553.6 744.8,573.8 747.7,505.1 750.5,538.0 753.3,503.2 756.1,578.5 759.0,575.7 761.4,561.5 764.6,564.4 767.4,582.3 770.3,578.5 773.1,556.8 775.9,572.8 778.7,561.5 781.6,575.7 784.1,556.8 787.2,559.7 789.8,572.8 792.6,585.1 795.4,558.7 798.3,571.0 801.1,582.3 804.1,558.7 806.9,582.3 809.7,560.6 812.6,573.8 815.4,573.8 818.2,558.7 821.0,562.5 823.9,530.5 826.7,561.5 829.5,552.1 832.3,573.8 835.2,562.5 838.0,563.4 840.8,575.7 843.6,571.0 846.3,558.2 849.3,559.7 852.1,574.7 854.9,565.3 857.8,582.3 860.6,587.9 863.4,542.7 866.2,551.0 868.8,576.6 871.6,569.1 874.5,558.7 877.3,582.3 880.1,586.0 883.3,557.8 886.1,576.6 889.0,570.0 891.8,564.4 894.6,559.7 897.4,567.2 900.3,557.8 903.1,556.8 905.9,568.1 908.7,557.4 911.6,557.8 914.4,564.4 917.2,564.4 920.2,561.5 923.1,557.8 925.9,555.0 928.7,563.8 931.5,564.4 934.2,549.9 937.0,576.6 939.8,569.1 942.6,558.7 945.5,554.0 948.3,561.5 951.1,571.9 953.6,580.0 956.5,547.4 959.5,580.4 962.4,583.2 965.2,579.4 968.0,554.0 970.8,584.1 973.7,569.1 976.5,556.8 979.3,574.7 982.1,558.7 985.0,567.2 987.8,574.7 990.6,559.7 993.4,559.3 996.2,558.2 999.1,572.8 1001.9,569.1 1004.7,557.8 1007.5,581.3 1010.4,557.8 1013.2,562.5 1016.0,539.0 1018.8,515.4 1021.7,571.9 1024.5,542.7 1027.3,574.7 1030.1,557.8 1033.0,533.3 1035.8,569.1 1038.3,563.4 1040.8,571.0 1044.6,582.3 1047.0,546.5 1049.7,498.5 1052.7,541.8 1055.3,557.8 1058.1,575.7 1061.0,567.2 1063.8,563.4 1066.6,582.3 1069.4,578.5 1072.3,571.9 1075.1,560.6 1077.9,574.7 1080.7,587.0 1083.6,580.4 1086.4,568.1 1089.2,571.9 1092.0,555.0 1094.9,556.8 1097.7,540.5 1100.5,583.2 1103.3,571.0 1106.2,568.1 1109.0,501.7 1111.8,537.1 1114.8,581.3" fill="none" stroke="#f5c518" stroke-width="1.9" stroke-linejoin="round"/><line x1="612.00" y1="605.50" x2="1120.00" y2="605.50" stroke="#c8c8c8" stroke-width="1" /><line x1="637.50" y1="606.00" x2="637.50" y2="610.00" stroke="#b0b0b0" stroke-width="1" /><line x1="764.50" y1="606.00" x2="764.50" y2="610.00" stroke="#b0b0b0" stroke-width="1" /><line x1="891.50" y1="606.00" x2="891.50" y2="610.00" stroke="#b0b0b0" stroke-width="1" /><line x1="1018.50" y1="606.00" x2="1018.50" y2="610.00" stroke="#b0b0b0" stroke-width="1" /><rect x="1156.00" y="559.00" width="537.00" height="19.00" fill="#42c365" /><line x1="1156.00" y1="586.50" x2="1693.00" y2="586.50" stroke="#444" stroke-width="1" /><line x1="1156.50" y1="586.00" x2="1156.50" y2="591.00" stroke="#444" stroke-width="1" /><line x1="1692.50" y1="586.00" x2="1692.50" y2="591.00" stroke="#444" stroke-width="1" /><line x1="1166.50" y1="587.00" x2="1166.50" y2="591.00" stroke="#555" stroke-width="1" /><line x1="1243.50" y1="587.00" x2="1243.50" y2="591.00" stroke="#999" stroke-width="1" /><line x1="1319.50" y1="587.00" x2="1319.50" y2="591.00" stroke="#555" stroke-width="1" /><line x1="1396.50" y1="587.00" x2="1396.50" y2="591.00" stroke="#555" stroke-width="1" /><line x1="1473.50" y1="587.00" x2="1473.50" y2="591.00" stroke="#555" stroke-width="1" /><line x1="1549.50" y1="587.00" x2="1549.50" y2="591.00" stroke="#555" stroke-width="1" /><line x1="1626.50" y1="587.00" x2="1626.50" y2="591.00" stroke="#555" stroke-width="1" /><g filter="url(#mb)"><rect x="14.00" y="14.00" width="7.00" height="7.00" fill="#e4e4e4" /><rect x="14.00" y="21.00" width="7.00" height="7.00" fill="#d5d5d5" /><rect x="21.00" y="14.00" width="7.00" height="7.00" fill="#f5f5f5" /><rect x="21.00" y="21.00" width="7.00" height="7.00" fill="#e8e8e8" /><rect x="28.00" y="14.00" width="7.00" height="7.00" fill="#e6e6e6" /><rect x="28.00" y="21.00" width="7.00" height="7.00" fill="#dcdcdc" /><rect x="35.00" y="14.00" width="7.00" height="14.00" fill="#f5f5f5" /><rect x="42.00" y="14.00" width="7.00" height="7.00" fill="#e4e4e4" /><rect x="42.00" y="21.00" width="7.00" height="7.00" fill="#d1d1d1" /><rect x="49.00" y="14.00" width="7.00" height="7.00" fill="#f1f1f1" /><rect x="49.00" y="21.00" width="7.00" height="7.00" fill="#d2d2d2" /><rect x="56.00" y="14.00" width="7.00" height="7.00" fill="#f7f7f7" /><rect x="56.00" y="21.00" width="7.00" height="7.00" fill="#c8c8c8" /><rect x="63.00" y="14.00" width="7.00" height="7.00" fill="#f4f4f4" /><rect x="63.00" y="21.00" width="7.00" height="7.00" fill="#d8d8d8" /><rect x="70.00" y="14.00" width="7.00" height="7.00" fill="#fafafa" /><rect x="70.00" y="21.00" width="7.00" height="7.00" fill="#d8d8d8" /><rect x="77.00" y="14.00" width="7.00" height="7.00" fill="#e6e6e6" /><rect x="77.00" y="21.00" width="7.00" height="7.00" fill="#f0f0f0" /><rect x="84.00" y="14.00" width="7.00" height="7.00" fill="#f7f7f7" /><rect x="84.00" y="21.00" width="7.00" height="7.00" fill="#ebebeb" /><rect x="91.00" y="14.00" width="7.00" height="7.00" fill="#fbfbfb" /><rect x="91.00" y="21.00" width="7.00" height="7.00" fill="#dadada" /><rect x="98.00" y="14.00" width="7.00" height="7.00" fill="#f7f7f7" /><rect x="98.00" y="21.00" width="7.00" height="7.00" fill="#e5e5e5" /><rect x="105.00" y="14.00" width="7.00" height="7.00" fill="#f1f1f1" /><rect x="105.00" y="21.00" width="7.00" height="7.00" fill="#e9e9e9" /><rect x="112.00" y="14.00" width="7.00" height="14.00" fill="#f5f5f5" /><rect x="119.00" y="14.00" width="7.00" height="7.00" fill="#e5e5e5" /><rect x="119.00" y="21.00" width="7.00" height="7.00" fill="#d3d3d3" /><rect x="126.00" y="14.00" width="7.00" height="7.00" fill="#eaeaea" /><rect x="126.00" y="21.00" width="7.00" height="7.00" fill="#e6e6e6" /><rect x="133.00" y="14.00" width="7.00" height="7.00" fill="#ececec" /><rect x="133.00" y="21.00" width="7.00" height="7.00" fill="#d2d2d2" /><rect x="140.00" y="14.00" width="7.00" height="7.00" fill="#fafafa" /><rect x="140.00" y="21.00" width="7.00" height="7.00" fill="#e7e7e7" /><rect x="147.00" y="14.00" width="7.00" height="7.00" fill="#e8e8e8" /><rect x="147.00" y="21.00" width="7.00" height="7.00" fill="#eaeaea" /><rect x="154.00" y="14.00" width="7.00" height="7.00" fill="#ededed" /><rect x="154.00" y="21.00" width="7.00" height="7.00" fill="#f7f7f7" /><rect x="161.00" y="14.00" width="7.00" height="7.00" fill="#f1f1f1" /><rect x="161.00" y="21.00" width="7.00" height="7.00" fill="#e8e8e8" /><rect x="168.00" y="14.00" width="7.00" height="7.00" fill="#f6f6f6" /><rect x="168.00" y="21.00" width="7.00" height="7.00" fill="#d2d2d2" /><rect x="175.00" y="14.00" width="7.00" height="14.00" fill="#f6f6f6" /><rect x="182.00" y="14.00" width="7.00" height="7.00" fill="#e9e9e9" /><rect x="182.00" y="21.00" width="7.00" height="7.00" fill="#f5f5f5" /><rect x="189.00" y="14.00" width="7.00" height="7.00" fill="#ebebeb" /><rect x="189.00" y="21.00" width="7.00" height="7.00" fill="#e7e7e7" /><rect x="196.00" y="14.00" width="7.00" height="7.00" fill="#f9f9f9" /><rect x="196.00" y="21.00" width="7.00" height="7.00" fill="#dedede" /><rect x="203.00" y="14.00" width="7.00" height="7.00" fill="#e9e9e9" /><rect x="203.00" y="21.00" width="7.00" height="7.00" fill="#e2e2e2" /><rect x="210.00" y="14.00" width="7.00" height="7.00" fill="#f2f2f2" /><rect x="210.00" y="21.00" width="7.00" height="7.00" fill="#f3f3f3" /><rect x="217.00" y="14.00" width="7.00" height="7.00" fill="#e9e9e9" /><rect x="217.00" y="21.00" width="7.00" height="7.00" fill="#f7f7f7" /><rect x="224.00" y="14.00" width="7.00" height="7.00" fill="#e6e6e6" /><rect x="224.00" y="21.00" width="7.00" height="7.00" fill="#cacaca" /><rect x="231.00" y="14.00" width="7.00" height="7.00" fill="#f3f3f3" /><rect x="231.00" y="21.00" width="7.00" height="7.00" fill="#eeeeee" /><rect x="238.00" y="14.00" width="7.00" height="7.00" fill="#e5e5e5" /><rect x="238.00" y="21.00" width="7.00" height="7.00" fill="#dadada" /><rect x="245.00" y="14.00" width="7.00" height="7.00" fill="#f0f0f0" /><rect x="245.00" y="21.00" width="7.00" height="7.00" fill="#f6f6f6" /><rect x="252.00" y="14.00" width="7.00" height="7.00" fill="#e4e4e4" /><rect x="252.00" y="21.00" width="7.00" height="7.00" fill="#eaeaea" /><rect x="259.00" y="14.00" width="7.00" height="7.00" fill="#f0f0f0" /><rect x="259.00" y="21.00" width="7.00" height="7.00" fill="#d4d4d4" /><rect x="266.00" y="14.00" width="7.00" height="7.00" fill="#e6e6e6" /><rect x="266.00" y="21.00" width="7.00" height="7.00" fill="#dcdcdc" /><rect x="273.00" y="14.00" width="7.00" height="7.00" fill="#fafafa" /><rect x="273.00" y="21.00" width="7.00" height="7.00" fill="#f2f2f2" /><rect x="280.00" y="14.00" width="7.00" height="7.00" fill="#f0f0f0" /><rect x="280.00" y="21.00" width="7.00" height="7.00" fill="#d0d0d0" /><rect x="287.00" y="14.00" width="3.00" height="7.00" fill="#f8f8f8" /><rect x="287.00" y="21.00" width="3.00" height="7.00" fill="#d6d6d6" /><rect x="583.00" y="14.00" width="7.00" height="7.00" fill="#f2f2f2" /><rect x="583.00" y="21.00" width="7.00" height="7.00" fill="#cecece" /><rect x="590.00" y="14.00" width="7.00" height="7.00" fill="#f0f0f0" /><rect x="590.00" y="21.00" width="7.00" height="7.00" fill="#eaeaea" /><rect x="597.00" y="14.00" width="7.00" height="7.00" fill="#e4e4e4" /><rect x="597.00" y="21.00" width="7.00" height="7.00" fill="#d6d6d6" /><rect x="604.00" y="14.00" width="7.00" height="14.00" fill="#fbfbfb" /><rect x="611.00" y="14.00" width="7.00" height="7.00" fill="#f7f7f7" /><rect x="611.00" y="21.00" width="7.00" height="7.00" fill="#d5d5d5" /><rect x="618.00" y="14.00" width="7.00" height="7.00" fill="#f9f9f9" /><rect x="618.00" y="21.00" width="7.00" height="7.00" fill="#f1f1f1" /><rect x="625.00" y="14.00" width="7.00" height="7.00" fill="#efefef" /><rect x="625.00" y="21.00" width="7.00" height="7.00" fill="#cbcbcb" /><rect x="632.00" y="14.00" width="7.00" height="7.00" fill="#f6f6f6" /><rect x="632.00" y="21.00" width="7.00" height="7.00" fill="#cdcdcd" /><rect x="639.00" y="14.00" width="7.00" height="7.00" fill="#f1f1f1" /><rect x="639.00" y="21.00" width="7.00" height="7.00" fill="#d3d3d3" /><rect x="646.00" y="14.00" width="7.00" height="7.00" fill="#eeeeee" /><rect x="646.00" y="21.00" width="7.00" height="7.00" fill="#d1d1d1" /><rect x="653.00" y="14.00" width="7.00" height="7.00" fill="#f5f5f5" /><rect x="653.00" y="21.00" width="7.00" height="7.00" fill="#d0d0d0" /><rect x="660.00" y="14.00" width="7.00" height="7.00" fill="#fbfbfb" /><rect x="660.00" y="21.00" width="7.00" height="7.00" fill="#e4e4e4" /><rect x="667.00" y="14.00" width="7.00" height="7.00" fill="#f0f0f0" /><rect x="667.00" y="21.00" width="7.00" height="7.00" fill="#cdcdcd" /><rect x="674.00" y="14.00" width="7.00" height="7.00" fill="#ececec" /><rect x="674.00" y="21.00" width="7.00" height="7.00" fill="#e1e1e1" /><rect x="681.00" y="14.00" width="7.00" height="7.00" fill="#e9e9e9" /><rect x="681.00" y="21.00" width="7.00" height="7.00" fill="#cbcbcb" /><rect x="688.00" y="14.00" width="7.00" height="7.00" fill="#e9e9e9" /><rect x="688.00" y="21.00" width="7.00" height="7.00" fill="#efefef" /><rect x="695.00" y="14.00" width="7.00" height="7.00" fill="#e5e5e5" /><rect x="695.00" y="21.00" width="7.00" height="7.00" fill="#d2d2d2" /><rect x="702.00" y="14.00" width="7.00" height="7.00" fill="#e9e9e9" /><rect x="702.00" y="21.00" width="7.00" height="7.00" fill="#cdcdcd" /><rect x="709.00" y="14.00" width="7.00" height="7.00" fill="#f1f1f1" /><rect x="709.00" y="21.00" width="7.00" height="7.00" fill="#dcdcdc" /><rect x="716.00" y="14.00" width="7.00" height="7.00" fill="#f7f7f7" /><rect x="716.00" y="21.00" width="7.00" height="7.00" fill="#d0d0d0" /><rect x="723.00" y="14.00" width="7.00" height="7.00" fill="#eeeeee" /><rect x="723.00" y="21.00" width="7.00" height="7.00" fill="#dadada" /><rect x="730.00" y="14.00" width="7.00" height="7.00" fill="#f5f5f5" /><rect x="730.00" y="21.00" width="7.00" height="7.00" fill="#e5e5e5" /><rect x="737.00" y="14.00" width="7.00" height="7.00" fill="#e6e6e6" /><rect x="737.00" y="21.00" width="7.00" height="7.00" fill="#d9d9d9" /><rect x="744.00" y="14.00" width="7.00" height="7.00" fill="#f8f8f8" /><rect x="744.00" y="21.00" width="7.00" height="7.00" fill="#d2d2d2" /><rect x="751.00" y="14.00" width="7.00" height="7.00" fill="#eeeeee" /><rect x="751.00" y="21.00" width="7.00" height="7.00" fill="#dadada" /><rect x="758.00" y="14.00" width="7.00" height="7.00" fill="#e9e9e9" /><rect x="758.00" y="21.00" width="7.00" height="7.00" fill="#f0f0f0" /><rect x="1149.00" y="16.00" width="33.00" height="18.00" fill="#ebebeb" /><rect x="1189.00" y="13.00" width="9.00" height="5.00" fill="#f8f8f8" /><rect x="1189.00" y="18.00" width="9.00" height="9.50" fill="#e1e1e1" /><rect x="1189.00" y="27.50" width="9.00" height="7.00" fill="#f0f0f0" /><rect x="1198.00" y="13.00" width="9.00" height="5.00" fill="#f8f8f8" /><rect x="1198.00" y="18.00" width="9.00" height="9.50" fill="#ededed" /><rect x="1198.00" y="27.50" width="9.00" height="7.00" fill="#f9f9f9" /><rect x="1207.00" y="13.00" width="9.00" height="5.00" fill="#f3f3f3" /><rect x="1207.00" y="18.00" width="9.00" height="9.50" fill="#dfdfdf" /><rect x="1207.00" y="27.50" width="9.00" height="7.00" fill="#f2f2f2" /><rect x="1216.00" y="13.00" width="9.00" height="5.00" fill="#f2f2f2" /><rect x="1216.00" y="18.00" width="9.00" height="9.50" fill="#dcdcdc" /><rect x="1216.00" y="27.50" width="9.00" height="7.00" fill="#f9f9f9" /><rect x="1225.00" y="13.00" width="9.00" height="5.00" fill="#f8f8f8" /><rect x="1225.00" y="18.00" width="9.00" height="9.50" fill="#dedede" /><rect x="1225.00" y="27.50" width="9.00" height="7.00" fill="#f4f4f4" /><rect x="1234.00" y="13.00" width="9.00" height="5.00" fill="#f9f9f9" /><rect x="1234.00" y="18.00" width="9.00" height="9.50" fill="#e1e1e1" /><rect x="1234.00" y="27.50" width="9.00" height="7.00" fill="#f7f7f7" /><rect x="1243.00" y="13.00" width="9.00" height="5.00" fill="#f4f4f4" /><rect x="1243.00" y="18.00" width="9.00" height="9.50" fill="#ededed" /><rect x="1243.00" y="27.50" width="9.00" height="7.00" fill="#f5f5f5" /><rect x="1252.00" y="13.00" width="9.00" height="5.00" fill="#f7f7f7" /><rect x="1252.00" y="18.00" width="9.00" height="9.50" fill="#d3d3d3" /><rect x="1252.00" y="27.50" width="9.00" height="7.00" fill="#f5f5f5" /><rect x="1261.00" y="13.00" width="9.00" height="5.00" fill="#f8f8f8" /><rect x="1261.00" y="18.00" width="9.00" height="9.50" fill="#d6d6d6" /><rect x="1261.00" y="27.50" width="9.00" height="7.00" fill="#f9f9f9" /><rect x="1270.00" y="13.00" width="9.00" height="5.00" fill="#f3f3f3" /><rect x="1270.00" y="18.00" width="9.00" height="9.50" fill="#e2e2e2" /><rect x="1270.00" y="27.50" width="9.00" height="7.00" fill="#f6f6f6" /><rect x="1279.00" y="13.00" width="9.00" height="5.00" fill="#f2f2f2" /><rect x="1279.00" y="18.00" width="9.00" height="9.50" fill="#eaeaea" /><rect x="1279.00" y="27.50" width="9.00" height="7.00" fill="#f2f2f2" /><rect x="1288.00" y="13.00" width="9.00" height="5.00" fill="#f6f6f6" /><rect x="1288.00" y="18.00" width="9.00" height="9.50" fill="#dddddd" /><rect x="1288.00" y="27.50" width="9.00" height="7.00" fill="#f5f5f5" /><rect x="1297.00" y="13.00" width="9.00" height="5.00" fill="#f9f9f9" /><rect x="1297.00" y="18.00" width="9.00" height="9.50" fill="#d7d7d7" /><rect x="1297.00" y="27.50" width="9.00" height="7.00" fill="#f7f7f7" /><rect x="1306.00" y="13.00" width="9.00" height="5.00" fill="#f5f5f5" /><rect x="1306.00" y="18.00" width="9.00" height="9.50" fill="#e4e4e4" /><rect x="1306.00" y="27.50" width="9.00" height="7.00" fill="#f2f2f2" /><rect x="1315.00" y="13.00" width="9.00" height="5.00" fill="#f8f8f8" /><rect x="1315.00" y="18.00" width="9.00" height="9.50" fill="#d4d4d4" /><rect x="1315.00" y="27.50" width="9.00" height="7.00" fill="#f4f4f4" /><rect x="1324.00" y="13.00" width="9.00" height="5.00" fill="#f9f9f9" /><rect x="1324.00" y="18.00" width="9.00" height="9.50" fill="#d4d4d4" /><rect x="1324.00" y="27.50" width="9.00" height="7.00" fill="#f2f2f2" /><rect x="11.00" y="227.00" width="7.00" height="5.00" fill="#f9f9f9" /><rect x="11.00" y="232.00" width="7.00" height="6.00" fill="#e6e6e6" /><rect x="11.00" y="238.00" width="7.00" height="5.00" fill="#f1f1f1" /><rect x="18.00" y="227.00" width="7.00" height="5.00" fill="#efefef" /><rect x="18.00" y="232.00" width="7.00" height="6.00" fill="#e4e4e4" /><rect x="18.00" y="238.00" width="7.00" height="5.00" fill="#eeeeee" /><rect x="25.00" y="227.00" width="7.00" height="5.00" fill="#f9f9f9" /><rect x="25.00" y="232.00" width="7.00" height="6.00" fill="#dbdbdb" /><rect x="25.00" y="238.00" width="7.00" height="5.00" fill="#e2e2e2" /><rect x="32.00" y="227.00" width="7.00" height="5.00" fill="#f1f1f1" /><rect x="32.00" y="232.00" width="7.00" height="6.00" fill="#dbdbdb" /><rect x="32.00" y="238.00" width="7.00" height="5.00" fill="#f2f2f2" /><rect x="39.00" y="227.00" width="7.00" height="5.00" fill="#efefef" /><rect x="39.00" y="232.00" width="7.00" height="6.00" fill="#c1c1c1" /><rect x="39.00" y="238.00" width="7.00" height="5.00" fill="#ebebeb" /><rect x="46.00" y="227.00" width="7.00" height="5.00" fill="#f5f5f5" /><rect x="46.00" y="232.00" width="7.00" height="6.00" fill="#dedede" /><rect x="46.00" y="238.00" width="7.00" height="5.00" fill="#e5e5e5" /><rect x="53.00" y="227.00" width="7.00" height="5.00" fill="#f1f1f1" /><rect x="53.00" y="232.00" width="7.00" height="6.00" fill="#d3d3d3" /><rect x="53.00" y="238.00" width="7.00" height="5.00" fill="#f2f2f2" /><rect x="60.00" y="227.00" width="7.00" height="5.00" fill="#efefef" /><rect x="60.00" y="232.00" width="7.00" height="6.00" fill="#d0d0d0" /><rect x="60.00" y="238.00" width="7.00" height="5.00" fill="#e6e6e6" /><rect x="67.00" y="227.00" width="7.00" height="11.00" fill="#fafafa" /><rect x="74.00" y="227.00" width="7.00" height="5.00" fill="#f1f1f1" /><rect x="74.00" y="232.00" width="7.00" height="6.00" fill="#dfdfdf" /><rect x="74.00" y="238.00" width="7.00" height="5.00" fill="#ebebeb" /><rect x="81.00" y="227.00" width="7.00" height="5.00" fill="#eeeeee" /><rect x="81.00" y="232.00" width="7.00" height="6.00" fill="#bfbfbf" /><rect x="81.00" y="238.00" width="7.00" height="5.00" fill="#f1f1f1" /><rect x="88.00" y="227.00" width="7.00" height="5.00" fill="#f4f4f4" /><rect x="88.00" y="232.00" width="7.00" height="6.00" fill="#e4e4e4" /><rect x="88.00" y="238.00" width="7.00" height="5.00" fill="#ececec" /><rect x="95.00" y="227.00" width="7.00" height="5.00" fill="#efefef" /><rect x="95.00" y="232.00" width="7.00" height="6.00" fill="#cacaca" /><rect x="95.00" y="238.00" width="7.00" height="5.00" fill="#f2f2f2" /><rect x="102.00" y="227.00" width="7.00" height="5.00" fill="#f8f8f8" /><rect x="102.00" y="232.00" width="7.00" height="6.00" fill="#e7e7e7" /><rect x="102.00" y="238.00" width="7.00" height="5.00" fill="#e5e5e5" /><rect x="109.00" y="227.00" width="7.00" height="5.00" fill="#efefef" /><rect x="109.00" y="232.00" width="7.00" height="6.00" fill="#e1e1e1" /><rect x="109.00" y="238.00" width="7.00" height="5.00" fill="#f1f1f1" /><rect x="116.00" y="227.00" width="7.00" height="5.00" fill="#f5f5f5" /><rect x="116.00" y="232.00" width="7.00" height="6.00" fill="#c3c3c3" /><rect x="116.00" y="238.00" width="7.00" height="5.00" fill="#f2f2f2" /><rect x="123.00" y="227.00" width="7.00" height="5.00" fill="#f9f9f9" /><rect x="123.00" y="232.00" width="7.00" height="6.00" fill="#e2e2e2" /><rect x="123.00" y="238.00" width="7.00" height="5.00" fill="#f1f1f1" /><rect x="130.00" y="227.00" width="7.00" height="11.00" fill="#f9f9f9" /><rect x="137.00" y="227.00" width="7.00" height="5.00" fill="#f9f9f9" /><rect x="137.00" y="232.00" width="7.00" height="6.00" fill="#e2e2e2" /><rect x="137.00" y="238.00" width="7.00" height="5.00" fill="#f1f1f1" /><rect x="144.00" y="227.00" width="7.00" height="5.00" fill="#f1f1f1" /><rect x="144.00" y="232.00" width="7.00" height="6.00" fill="#e1e1e1" /><rect x="144.00" y="238.00" width="7.00" height="5.00" fill="#e3e3e3" /><rect x="151.00" y="227.00" width="7.00" height="5.00" fill="#f8f8f8" /><rect x="151.00" y="232.00" width="7.00" height="6.00" fill="#c6c6c6" /><rect x="151.00" y="238.00" width="7.00" height="5.00" fill="#f0f0f0" /><rect x="158.00" y="227.00" width="7.00" height="5.00" fill="#f1f1f1" /><rect x="158.00" y="232.00" width="7.00" height="6.00" fill="#e2e2e2" /><rect x="158.00" y="238.00" width="7.00" height="5.00" fill="#e6e6e6" /><rect x="165.00" y="227.00" width="7.00" height="11.00" fill="#f5f5f5" /><rect x="172.00" y="227.00" width="7.00" height="5.00" fill="#f8f8f8" /><rect x="172.00" y="232.00" width="7.00" height="6.00" fill="#eaeaea" /><rect x="172.00" y="238.00" width="7.00" height="5.00" fill="#e7e7e7" /><rect x="179.00" y="227.00" width="7.00" height="5.00" fill="#f2f2f2" /><rect x="179.00" y="232.00" width="7.00" height="6.00" fill="#ebebeb" /><rect x="179.00" y="238.00" width="7.00" height="5.00" fill="#ebebeb" /><rect x="186.00" y="227.00" width="7.00" height="5.00" fill="#efefef" /><rect x="186.00" y="232.00" width="7.00" height="6.00" fill="#eaeaea" /><rect x="186.00" y="238.00" width="7.00" height="5.00" fill="#e5e5e5" /><rect x="193.00" y="227.00" width="7.00" height="5.00" fill="#f1f1f1" /><rect x="193.00" y="232.00" width="7.00" height="6.00" fill="#c1c1c1" /><rect x="193.00" y="238.00" width="7.00" height="5.00" fill="#e9e9e9" /><rect x="200.00" y="227.00" width="4.00" height="5.00" fill="#f1f1f1" /><rect x="200.00" y="232.00" width="4.00" height="6.00" fill="#d9d9d9" /><rect x="200.00" y="238.00" width="4.00" height="5.00" fill="#ebebeb" /><rect x="582.00" y="227.00" width="7.00" height="5.00" fill="#f4f4f4" /><rect x="582.00" y="232.00" width="7.00" height="6.00" fill="#d5d5d5" /><rect x="582.00" y="238.00" width="7.00" height="5.00" fill="#f0f0f0" /><rect x="589.00" y="227.00" width="7.00" height="11.00" fill="#fbfbfb" /><rect x="596.00" y="227.00" width="7.00" height="5.00" fill="#f6f6f6" /><rect x="596.00" y="232.00" width="7.00" height="6.00" fill="#e6e6e6" /><rect x="596.00" y="238.00" width="7.00" height="5.00" fill="#f0f0f0" /><rect x="603.00" y="227.00" width="7.00" height="5.00" fill="#ececec" /><rect x="603.00" y="232.00" width="7.00" height="6.00" fill="#e3e3e3" /><rect x="603.00" y="238.00" width="7.00" height="5.00" fill="#e9e9e9" /><rect x="610.00" y="227.00" width="7.00" height="5.00" fill="#f7f7f7" /><rect x="610.00" y="232.00" width="7.00" height="6.00" fill="#e5e5e5" /><rect x="610.00" y="238.00" width="7.00" height="5.00" fill="#e9e9e9" /><rect x="617.00" y="227.00" width="7.00" height="5.00" fill="#f1f1f1" /><rect x="617.00" y="232.00" width="7.00" height="6.00" fill="#dadada" /><rect x="617.00" y="238.00" width="7.00" height="5.00" fill="#e9e9e9" /><rect x="624.00" y="227.00" width="7.00" height="5.00" fill="#f1f1f1" /><rect x="624.00" y="232.00" width="7.00" height="6.00" fill="#ededed" /><rect x="624.00" y="238.00" width="7.00" height="5.00" fill="#f0f0f0" /><rect x="631.00" y="227.00" width="7.00" height="5.00" fill="#f4f4f4" /><rect x="631.00" y="232.00" width="7.00" height="6.00" fill="#d6d6d6" /><rect x="631.00" y="238.00" width="7.00" height="5.00" fill="#ededed" /><rect x="638.00" y="227.00" width="7.00" height="11.00" fill="#f6f6f6" /><rect x="645.00" y="227.00" width="7.00" height="5.00" fill="#f4f4f4" /><rect x="645.00" y="232.00" width="7.00" height="6.00" fill="#e3e3e3" /><rect x="645.00" y="238.00" width="7.00" height="5.00" fill="#ececec" /><rect x="652.00" y="227.00" width="7.00" height="5.00" fill="#eeeeee" /><rect x="652.00" y="232.00" width="7.00" height="6.00" fill="#dddddd" /><rect x="652.00" y="238.00" width="7.00" height="5.00" fill="#f4f4f4" /><rect x="659.00" y="227.00" width="7.00" height="5.00" fill="#eeeeee" /><rect x="659.00" y="232.00" width="7.00" height="6.00" fill="#cfcfcf" /><rect x="659.00" y="238.00" width="7.00" height="5.00" fill="#ededed" /><rect x="666.00" y="227.00" width="7.00" height="5.00" fill="#f0f0f0" /><rect x="666.00" y="232.00" width="7.00" height="6.00" fill="#e9e9e9" /><rect x="666.00" y="238.00" width="7.00" height="5.00" fill="#f1f1f1" /><rect x="673.00" y="227.00" width="7.00" height="5.00" fill="#efefef" /><rect x="673.00" y="232.00" width="7.00" height="6.00" fill="#d3d3d3" /><rect x="673.00" y="238.00" width="7.00" height="5.00" fill="#e4e4e4" /><rect x="680.00" y="227.00" width="7.00" height="5.00" fill="#f2f2f2" /><rect x="680.00" y="232.00" width="7.00" height="6.00" fill="#eaeaea" /><rect x="680.00" y="238.00" width="7.00" height="5.00" fill="#e5e5e5" /><rect x="687.00" y="227.00" width="7.00" height="5.00" fill="#f4f4f4" /><rect x="687.00" y="232.00" width="7.00" height="6.00" fill="#d2d2d2" /><rect x="687.00" y="238.00" width="7.00" height="5.00" fill="#f0f0f0" /><rect x="694.00" y="227.00" width="7.00" height="5.00" fill="#efefef" /><rect x="694.00" y="232.00" width="7.00" height="6.00" fill="#e3e3e3" /><rect x="694.00" y="238.00" width="7.00" height="5.00" fill="#e4e4e4" /><rect x="701.00" y="227.00" width="7.00" height="5.00" fill="#f6f6f6" /><rect x="701.00" y="232.00" width="7.00" height="6.00" fill="#cfcfcf" /><rect x="701.00" y="238.00" width="7.00" height="5.00" fill="#ebebeb" /><rect x="708.00" y="227.00" width="7.00" height="5.00" fill="#f9f9f9" /><rect x="708.00" y="232.00" width="7.00" height="6.00" fill="#dedede" /><rect x="708.00" y="238.00" width="7.00" height="5.00" fill="#e4e4e4" /><rect x="715.00" y="227.00" width="7.00" height="5.00" fill="#f7f7f7" /><rect x="715.00" y="232.00" width="7.00" height="6.00" fill="#dcdcdc" /><rect x="715.00" y="238.00" width="7.00" height="5.00" fill="#f2f2f2" /><rect x="722.00" y="227.00" width="7.00" height="5.00" fill="#f9f9f9" /><rect x="722.00" y="232.00" width="7.00" height="6.00" fill="#e1e1e1" /><rect x="722.00" y="238.00" width="7.00" height="5.00" fill="#f5f5f5" /><rect x="729.00" y="227.00" width="7.00" height="5.00" fill="#f4f4f4" /><rect x="729.00" y="232.00" width="7.00" height="6.00" fill="#e5e5e5" /><rect x="729.00" y="238.00" width="7.00" height="5.00" fill="#ededed" /><rect x="736.00" y="227.00" width="7.00" height="5.00" fill="#f3f3f3" /><rect x="736.00" y="232.00" width="7.00" height="6.00" fill="#ececec" /><rect x="736.00" y="238.00" width="7.00" height="5.00" fill="#f1f1f1" /><rect x="743.00" y="227.00" width="7.00" height="5.00" fill="#efefef" /><rect x="743.00" y="232.00" width="7.00" height="6.00" fill="#d4d4d4" /><rect x="743.00" y="238.00" width="7.00" height="5.00" fill="#efefef" /><rect x="750.00" y="227.00" width="7.00" height="5.00" fill="#f3f3f3" /><rect x="750.00" y="232.00" width="7.00" height="6.00" fill="#e2e2e2" /><rect x="750.00" y="238.00" width="7.00" height="5.00" fill="#e8e8e8" /><rect x="757.00" y="227.00" width="7.00" height="5.00" fill="#f0f0f0" /><rect x="757.00" y="232.00" width="7.00" height="6.00" fill="#d5d5d5" /><rect x="757.00" y="238.00" width="7.00" height="5.00" fill="#e9e9e9" /><rect x="764.00" y="227.00" width="7.00" height="5.00" fill="#ededed" /><rect x="764.00" y="232.00" width="7.00" height="6.00" fill="#d4d4d4" /><rect x="764.00" y="238.00" width="7.00" height="5.00" fill="#f0f0f0" /><rect x="771.00" y="227.00" width="7.00" height="5.00" fill="#ececec" /><rect x="771.00" y="232.00" width="7.00" height="6.00" fill="#dadada" /><rect x="771.00" y="238.00" width="7.00" height="5.00" fill="#ededed" /><rect x="778.00" y="227.00" width="7.00" height="5.00" fill="#eeeeee" /><rect x="778.00" y="232.00" width="7.00" height="6.00" fill="#dbdbdb" /><rect x="778.00" y="238.00" width="7.00" height="5.00" fill="#f4f4f4" /><rect x="785.00" y="227.00" width="7.00" height="5.00" fill="#f5f5f5" /><rect x="785.00" y="232.00" width="7.00" height="6.00" fill="#eaeaea" /><rect x="785.00" y="238.00" width="7.00" height="5.00" fill="#f1f1f1" /><rect x="792.00" y="227.00" width="7.00" height="5.00" fill="#ececec" /><rect x="792.00" y="232.00" width="7.00" height="6.00" fill="#d8d8d8" /><rect x="792.00" y="238.00" width="7.00" height="5.00" fill="#f1f1f1" /><rect x="799.00" y="227.00" width="7.00" height="5.00" fill="#f9f9f9" /><rect x="799.00" y="232.00" width="7.00" height="6.00" fill="#dbdbdb" /><rect x="799.00" y="238.00" width="7.00" height="5.00" fill="#f1f1f1" /><rect x="806.00" y="227.00" width="7.00" height="5.00" fill="#f4f4f4" /><rect x="806.00" y="232.00" width="7.00" height="6.00" fill="#d3d3d3" /><rect x="806.00" y="238.00" width="7.00" height="5.00" fill="#e7e7e7" /><rect x="813.00" y="227.00" width="7.00" height="5.00" fill="#ececec" /><rect x="813.00" y="232.00" width="7.00" height="6.00" fill="#d8d8d8" /><rect x="813.00" y="238.00" width="7.00" height="5.00" fill="#f0f0f0" /><rect x="820.00" y="227.00" width="7.00" height="5.00" fill="#eeeeee" /><rect x="820.00" y="232.00" width="7.00" height="6.00" fill="#dcdcdc" /><rect x="820.00" y="238.00" width="7.00" height="5.00" fill="#e6e6e6" /><rect x="827.00" y="227.00" width="7.00" height="5.00" fill="#ececec" /><rect x="827.00" y="232.00" width="7.00" height="6.00" fill="#dadada" /><rect x="827.00" y="238.00" width="7.00" height="5.00" fill="#eeeeee" /><rect x="834.00" y="227.00" width="7.00" height="11.00" fill="#f9f9f9" /><rect x="841.00" y="227.00" width="7.00" height="5.00" fill="#f2f2f2" /><rect x="841.00" y="232.00" width="7.00" height="6.00" fill="#cdcdcd" /><rect x="841.00" y="238.00" width="7.00" height="5.00" fill="#eaeaea" /><rect x="848.00" y="227.00" width="7.00" height="5.00" fill="#f0f0f0" /><rect x="848.00" y="232.00" width="7.00" height="6.00" fill="#e7e7e7" /><rect x="848.00" y="238.00" width="7.00" height="5.00" fill="#eaeaea" /><rect x="855.00" y="227.00" width="7.00" height="5.00" fill="#f7f7f7" /><rect x="855.00" y="232.00" width="7.00" height="6.00" fill="#d5d5d5" /><rect x="855.00" y="238.00" width="7.00" height="5.00" fill="#e5e5e5" /><rect x="862.00" y="227.00" width="7.00" height="11.00" fill="#f8f8f8" /><rect x="869.00" y="227.00" width="7.00" height="5.00" fill="#f0f0f0" /><rect x="869.00" y="232.00" width="7.00" height="6.00" fill="#e3e3e3" /><rect x="869.00" y="238.00" width="7.00" height="5.00" fill="#f2f2f2" /><rect x="1152.00" y="227.00" width="7.00" height="5.00" fill="#f6f6f6" /><rect x="1152.00" y="232.00" width="7.00" height="6.00" fill="#eeeeee" /><rect x="1152.00" y="238.00" width="7.00" height="5.00" fill="#e9e9e9" /><rect x="1159.00" y="227.00" width="7.00" height="11.00" fill="#f5f5f5" /><rect x="1166.00" y="227.00" width="7.00" height="5.00" fill="#f4f4f4" /><rect x="1166.00" y="232.00" width="7.00" height="6.00" fill="#e0e0e0" /><rect x="1166.00" y="238.00" width="7.00" height="5.00" fill="#e9e9e9" /><rect x="1173.00" y="227.00" width="7.00" height="5.00" fill="#f6f6f6" /><rect x="1173.00" y="232.00" width="7.00" height="6.00" fill="#d2d2d2" /><rect x="1173.00" y="238.00" width="7.00" height="5.00" fill="#efefef" /><rect x="1180.00" y="227.00" width="7.00" height="5.00" fill="#ebebeb" /><rect x="1180.00" y="232.00" width="7.00" height="6.00" fill="#e9e9e9" /><rect x="1180.00" y="238.00" width="7.00" height="5.00" fill="#f5f5f5" /><rect x="1187.00" y="227.00" width="7.00" height="5.00" fill="#eaeaea" /><rect x="1187.00" y="232.00" width="7.00" height="6.00" fill="#d7d7d7" /><rect x="1187.00" y="238.00" width="7.00" height="5.00" fill="#f0f0f0" /><rect x="1194.00" y="227.00" width="7.00" height="5.00" fill="#f0f0f0" /><rect x="1194.00" y="232.00" width="7.00" height="6.00" fill="#e5e5e5" /><rect x="1194.00" y="238.00" width="7.00" height="5.00" fill="#e7e7e7" /><rect x="1201.00" y="227.00" width="7.00" height="5.00" fill="#f4f4f4" /><rect x="1201.00" y="232.00" width="7.00" height="6.00" fill="#cfcfcf" /><rect x="1201.00" y="238.00" width="7.00" height="5.00" fill="#f2f2f2" /><rect x="1208.00" y="227.00" width="7.00" height="5.00" fill="#f3f3f3" /><rect x="1208.00" y="232.00" width="7.00" height="6.00" fill="#d0d0d0" /><rect x="1208.00" y="238.00" width="7.00" height="5.00" fill="#f5f5f5" /><rect x="1215.00" y="227.00" width="7.00" height="5.00" fill="#efefef" /><rect x="1215.00" y="232.00" width="7.00" height="6.00" fill="#dbdbdb" /><rect x="1215.00" y="238.00" width="7.00" height="5.00" fill="#ebebeb" /><rect x="1222.00" y="227.00" width="7.00" height="5.00" fill="#efefef" /><rect x="1222.00" y="232.00" width="7.00" height="6.00" fill="#eaeaea" /><rect x="1222.00" y="238.00" width="7.00" height="5.00" fill="#f3f3f3" /><rect x="1229.00" y="227.00" width="7.00" height="5.00" fill="#f9f9f9" /><rect x="1229.00" y="232.00" width="7.00" height="6.00" fill="#e2e2e2" /><rect x="1229.00" y="238.00" width="7.00" height="5.00" fill="#f3f3f3" /><rect x="1236.00" y="227.00" width="7.00" height="5.00" fill="#f0f0f0" /><rect x="1236.00" y="232.00" width="7.00" height="6.00" fill="#e6e6e6" /><rect x="1236.00" y="238.00" width="7.00" height="5.00" fill="#f5f5f5" /><rect x="1243.00" y="227.00" width="7.00" height="5.00" fill="#f6f6f6" /><rect x="1243.00" y="232.00" width="7.00" height="6.00" fill="#dfdfdf" /><rect x="1243.00" y="238.00" width="7.00" height="5.00" fill="#ededed" /><rect x="1250.00" y="227.00" width="7.00" height="5.00" fill="#f5f5f5" /><rect x="1250.00" y="232.00" width="7.00" height="6.00" fill="#d5d5d5" /><rect x="1250.00" y="238.00" width="7.00" height="5.00" fill="#f3f3f3" /><rect x="1257.00" y="227.00" width="7.00" height="5.00" fill="#ebebeb" /><rect x="1257.00" y="232.00" width="7.00" height="6.00" fill="#ebebeb" /><rect x="1257.00" y="238.00" width="7.00" height="5.00" fill="#e9e9e9" /><rect x="1264.00" y="227.00" width="7.00" height="5.00" fill="#f3f3f3" /><rect x="1264.00" y="232.00" width="7.00" height="6.00" fill="#d9d9d9" /><rect x="1264.00" y="238.00" width="7.00" height="5.00" fill="#e6e6e6" /><rect x="1271.00" y="227.00" width="7.00" height="5.00" fill="#ececec" /><rect x="1271.00" y="232.00" width="7.00" height="6.00" fill="#d3d3d3" /><rect x="1271.00" y="238.00" width="7.00" height="5.00" fill="#f2f2f2" /><rect x="1278.00" y="227.00" width="7.00" height="5.00" fill="#f8f8f8" /><rect x="1278.00" y="232.00" width="7.00" height="6.00" fill="#e5e5e5" /><rect x="1278.00" y="238.00" width="7.00" height="5.00" fill="#eaeaea" /><rect x="1285.00" y="227.00" width="7.00" height="11.00" fill="#fbfbfb" /><rect x="1292.00" y="227.00" width="7.00" height="5.00" fill="#f5f5f5" /><rect x="1292.00" y="232.00" width="7.00" height="6.00" fill="#dddddd" /><rect x="1292.00" y="238.00" width="7.00" height="5.00" fill="#f2f2f2" /><rect x="1299.00" y="227.00" width="7.00" height="5.00" fill="#f4f4f4" /><rect x="1299.00" y="232.00" width="7.00" height="6.00" fill="#dddddd" /><rect x="1299.00" y="238.00" width="7.00" height="5.00" fill="#f2f2f2" /><rect x="1306.00" y="227.00" width="7.00" height="5.00" fill="#ededed" /><rect x="1306.00" y="232.00" width="7.00" height="6.00" fill="#e4e4e4" /><rect x="1306.00" y="238.00" width="7.00" height="5.00" fill="#eaeaea" /><rect x="1313.00" y="227.00" width="7.00" height="5.00" fill="#f1f1f1" /><rect x="1313.00" y="232.00" width="7.00" height="6.00" fill="#dfdfdf" /><rect x="1313.00" y="238.00" width="7.00" height="5.00" fill="#ececec" /><rect x="1320.00" y="227.00" width="7.00" height="5.00" fill="#efefef" /><rect x="1320.00" y="232.00" width="7.00" height="6.00" fill="#e5e5e5" /><rect x="1320.00" y="238.00" width="7.00" height="5.00" fill="#eaeaea" /><rect x="1327.00" y="227.00" width="7.00" height="5.00" fill="#ebebeb" /><rect x="1327.00" y="232.00" width="7.00" height="6.00" fill="#d2d2d2" /><rect x="1327.00" y="238.00" width="7.00" height="5.00" fill="#e7e7e7" /><rect x="1334.00" y="227.00" width="7.00" height="5.00" fill="#f6f6f6" /><rect x="1334.00" y="232.00" width="7.00" height="6.00" fill="#d2d2d2" /><rect x="1334.00" y="238.00" width="7.00" height="5.00" fill="#e9e9e9" /><rect x="1341.00" y="227.00" width="7.00" height="5.00" fill="#f5f5f5" /><rect x="1341.00" y="232.00" width="7.00" height="6.00" fill="#efefef" /><rect x="1341.00" y="238.00" width="7.00" height="5.00" fill="#eeeeee" /><rect x="1348.00" y="227.00" width="7.00" height="5.00" fill="#ebebeb" /><rect x="1348.00" y="232.00" width="7.00" height="6.00" fill="#d2d2d2" /><rect x="1348.00" y="238.00" width="7.00" height="5.00" fill="#e9e9e9" /><rect x="1355.00" y="227.00" width="7.00" height="5.00" fill="#eaeaea" /><rect x="1355.00" y="232.00" width="7.00" height="6.00" fill="#dfdfdf" /><rect x="1355.00" y="238.00" width="7.00" height="5.00" fill="#eaeaea" /><rect x="1362.00" y="227.00" width="7.00" height="5.00" fill="#f2f2f2" /><rect x="1362.00" y="232.00" width="7.00" height="6.00" fill="#e5e5e5" /><rect x="1362.00" y="238.00" width="7.00" height="5.00" fill="#e8e8e8" /><rect x="1369.00" y="227.00" width="7.00" height="5.00" fill="#f1f1f1" /><rect x="1369.00" y="232.00" width="7.00" height="6.00" fill="#ebebeb" /><rect x="1369.00" y="238.00" width="7.00" height="5.00" fill="#efefef" /><rect x="1376.00" y="227.00" width="7.00" height="5.00" fill="#f1f1f1" /><rect x="1376.00" y="232.00" width="7.00" height="6.00" fill="#d2d2d2" /><rect x="1376.00" y="238.00" width="7.00" height="5.00" fill="#e6e6e6" /><rect x="1383.00" y="227.00" width="7.00" height="5.00" fill="#f1f1f1" /><rect x="1383.00" y="232.00" width="7.00" height="6.00" fill="#e9e9e9" /><rect x="1383.00" y="238.00" width="7.00" height="5.00" fill="#ececec" /><rect x="1390.00" y="227.00" width="7.00" height="5.00" fill="#f4f4f4" /><rect x="1390.00" y="232.00" width="7.00" height="6.00" fill="#cdcdcd" /><rect x="1390.00" y="238.00" width="7.00" height="5.00" fill="#e8e8e8" /><rect x="1397.00" y="227.00" width="6.00" height="5.00" fill="#eeeeee" /><rect x="1397.00" y="232.00" width="6.00" height="6.00" fill="#efefef" /><rect x="1397.00" y="238.00" width="6.00" height="5.00" fill="#e7e7e7" /><rect x="12.00" y="441.00" width="7.00" height="7.00" fill="#e7e7e7" /><rect x="12.00" y="448.00" width="7.00" height="6.50" fill="#dedede" /><rect x="19.00" y="441.00" width="7.00" height="7.00" fill="#e5e5e5" /><rect x="19.00" y="448.00" width="7.00" height="6.50" fill="#d4d4d4" /><rect x="26.00" y="441.00" width="7.00" height="7.00" fill="#ececec" /><rect x="26.00" y="448.00" width="7.00" height="6.50" fill="#e3e3e3" /><rect x="33.00" y="441.00" width="7.00" height="7.00" fill="#e7e7e7" /><rect x="33.00" y="448.00" width="7.00" height="6.50" fill="#d9d9d9" /><rect x="40.00" y="441.00" width="7.00" height="7.00" fill="#eeeeee" /><rect x="40.00" y="448.00" width="7.00" height="6.50" fill="#cdcdcd" /><rect x="47.00" y="441.00" width="7.00" height="7.00" fill="#e8e8e8" /><rect x="47.00" y="448.00" width="7.00" height="6.50" fill="#cccccc" /><rect x="54.00" y="441.00" width="7.00" height="7.00" fill="#dbdbdb" /><rect x="54.00" y="448.00" width="7.00" height="6.50" fill="#c8c8c8" /><rect x="61.00" y="441.00" width="7.00" height="7.00" fill="#e7e7e7" /><rect x="61.00" y="448.00" width="7.00" height="6.50" fill="#d0d0d0" /><rect x="68.00" y="441.00" width="7.00" height="7.00" fill="#e9e9e9" /><rect x="68.00" y="448.00" width="7.00" height="6.50" fill="#dbdbdb" /><rect x="75.00" y="441.00" width="7.00" height="7.00" fill="#e9e9e9" /><rect x="75.00" y="448.00" width="7.00" height="6.50" fill="#e1e1e1" /><rect x="82.00" y="441.00" width="7.00" height="7.00" fill="#e7e7e7" /><rect x="82.00" y="448.00" width="7.00" height="6.50" fill="#dadada" /><rect x="89.00" y="441.00" width="7.00" height="7.00" fill="#e3e3e3" /><rect x="89.00" y="448.00" width="7.00" height="6.50" fill="#d7d7d7" /><rect x="96.00" y="441.00" width="7.00" height="7.00" fill="#ededed" /><rect x="96.00" y="448.00" width="7.00" height="6.50" fill="#dfdfdf" /><rect x="103.00" y="441.00" width="7.00" height="7.00" fill="#dddddd" /><rect x="103.00" y="448.00" width="7.00" height="6.50" fill="#d0d0d0" /><rect x="110.00" y="441.00" width="7.00" height="7.00" fill="#e6e6e6" /><rect x="110.00" y="448.00" width="7.00" height="6.50" fill="#d0d0d0" /><rect x="117.00" y="441.00" width="7.00" height="7.00" fill="#e9e9e9" /><rect x="117.00" y="448.00" width="7.00" height="6.50" fill="#dbdbdb" /><rect x="124.00" y="441.00" width="7.00" height="7.00" fill="#e5e5e5" /><rect x="124.00" y="448.00" width="7.00" height="6.50" fill="#d5d5d5" /><rect x="131.00" y="441.00" width="7.00" height="7.00" fill="#dadada" /><rect x="131.00" y="448.00" width="7.00" height="6.50" fill="#d4d4d4" /><rect x="138.00" y="441.00" width="7.00" height="7.00" fill="#dfdfdf" /><rect x="138.00" y="448.00" width="7.00" height="6.50" fill="#cacaca" /><rect x="145.00" y="441.00" width="7.00" height="7.00" fill="#ececec" /><rect x="145.00" y="448.00" width="7.00" height="6.50" fill="#d8d8d8" /><rect x="152.00" y="441.00" width="7.00" height="7.00" fill="#efefef" /><rect x="152.00" y="448.00" width="7.00" height="6.50" fill="#dadada" /><rect x="159.00" y="441.00" width="7.00" height="7.00" fill="#dadada" /><rect x="159.00" y="448.00" width="7.00" height="6.50" fill="#dddddd" /><rect x="166.00" y="441.00" width="7.00" height="7.00" fill="#e8e8e8" /><rect x="166.00" y="448.00" width="7.00" height="6.50" fill="#e1e1e1" /><rect x="173.00" y="441.00" width="7.00" height="7.00" fill="#e6e6e6" /><rect x="173.00" y="448.00" width="7.00" height="6.50" fill="#d9d9d9" /><rect x="180.00" y="441.00" width="7.00" height="7.00" fill="#dcdcdc" /><rect x="180.00" y="448.00" width="7.00" height="6.50" fill="#d1d1d1" /><rect x="187.00" y="441.00" width="7.00" height="7.00" fill="#e8e8e8" /><rect x="187.00" y="448.00" width="7.00" height="6.50" fill="#e0e0e0" /><rect x="194.00" y="441.00" width="7.00" height="7.00" fill="#e9e9e9" /><rect x="194.00" y="448.00" width="7.00" height="6.50" fill="#d0d0d0" /><rect x="201.00" y="441.00" width="7.00" height="7.00" fill="#ebebeb" /><rect x="201.00" y="448.00" width="7.00" height="6.50" fill="#d7d7d7" /><rect x="208.00" y="441.00" width="7.00" height="7.00" fill="#e0e0e0" /><rect x="208.00" y="448.00" width="7.00" height="6.50" fill="#d1d1d1" /><rect x="215.00" y="441.00" width="7.00" height="7.00" fill="#e2e2e2" /><rect x="215.00" y="448.00" width="7.00" height="6.50" fill="#d6d6d6" /><rect x="222.00" y="441.00" width="7.00" height="7.00" fill="#e8e8e8" /><rect x="222.00" y="448.00" width="7.00" height="6.50" fill="#d7d7d7" /><rect x="229.00" y="441.00" width="7.00" height="7.00" fill="#dedede" /><rect x="229.00" y="448.00" width="7.00" height="6.50" fill="#d2d2d2" /><rect x="236.00" y="441.00" width="7.00" height="7.00" fill="#e7e7e7" /><rect x="236.00" y="448.00" width="7.00" height="6.50" fill="#dddddd" /><rect x="243.00" y="441.00" width="7.00" height="7.00" fill="#e6e6e6" /><rect x="243.00" y="448.00" width="7.00" height="6.50" fill="#e1e1e1" /><rect x="250.00" y="441.00" width="7.00" height="7.00" fill="#e9e9e9" /><rect x="250.00" y="448.00" width="7.00" height="6.50" fill="#cbcbcb" /><rect x="257.00" y="441.00" width="7.00" height="7.00" fill="#e7e7e7" /><rect x="257.00" y="448.00" width="7.00" height="6.50" fill="#cecece" /><rect x="264.00" y="441.00" width="7.00" height="7.00" fill="#e6e6e6" /><rect x="264.00" y="448.00" width="7.00" height="6.50" fill="#d7d7d7" /><rect x="271.00" y="441.00" width="7.00" height="7.00" fill="#efefef" /><rect x="271.00" y="448.00" width="7.00" height="6.50" fill="#e1e1e1" /><rect x="278.00" y="441.00" width="7.00" height="7.00" fill="#dcdcdc" /><rect x="278.00" y="448.00" width="7.00" height="6.50" fill="#dfdfdf" /><rect x="285.00" y="441.00" width="7.00" height="7.00" fill="#e9e9e9" /><rect x="285.00" y="448.00" width="7.00" height="6.50" fill="#d6d6d6" /><rect x="292.00" y="441.00" width="7.00" height="7.00" fill="#ececec" /><rect x="292.00" y="448.00" width="7.00" height="6.50" fill="#e3e3e3" /><rect x="299.00" y="441.00" width="7.00" height="7.00" fill="#e6e6e6" /><rect x="299.00" y="448.00" width="7.00" height="6.50" fill="#d2d2d2" /><rect x="306.00" y="441.00" width="7.00" height="7.00" fill="#e5e5e5" /><rect x="306.00" y="448.00" width="7.00" height="6.50" fill="#e0e0e0" /><rect x="313.00" y="441.00" width="7.00" height="7.00" fill="#e0e0e0" /><rect x="313.00" y="448.00" width="7.00" height="6.50" fill="#dedede" /><rect x="320.00" y="441.00" width="7.00" height="7.00" fill="#eeeeee" /><rect x="320.00" y="448.00" width="7.00" height="6.50" fill="#d6d6d6" /><rect x="327.00" y="441.00" width="7.00" height="7.00" fill="#e0e0e0" /><rect x="327.00" y="448.00" width="7.00" height="6.50" fill="#d0d0d0" /><rect x="334.00" y="441.00" width="7.00" height="7.00" fill="#efefef" /><rect x="334.00" y="448.00" width="7.00" height="6.50" fill="#d5d5d5" /><rect x="341.00" y="441.00" width="7.00" height="7.00" fill="#e5e5e5" /><rect x="341.00" y="448.00" width="7.00" height="6.50" fill="#d1d1d1" /><rect x="348.00" y="441.00" width="7.00" height="7.00" fill="#e5e5e5" /><rect x="348.00" y="448.00" width="7.00" height="6.50" fill="#d4d4d4" /><rect x="355.00" y="441.00" width="7.00" height="7.00" fill="#dedede" /><rect x="355.00" y="448.00" width="7.00" height="6.50" fill="#dbdbdb" /><rect x="362.00" y="441.00" width="7.00" height="7.00" fill="#dfdfdf" /><rect x="362.00" y="448.00" width="7.00" height="6.50" fill="#dddddd" /><rect x="369.00" y="441.00" width="7.00" height="13.50" fill="#f9f9f9" /><rect x="376.00" y="441.00" width="7.00" height="7.00" fill="#ebebeb" /><rect x="376.00" y="448.00" width="7.00" height="6.50" fill="#d2d2d2" /><rect x="383.00" y="441.00" width="7.00" height="7.00" fill="#ececec" /><rect x="383.00" y="448.00" width="7.00" height="6.50" fill="#e3e3e3" /><rect x="390.00" y="441.00" width="7.00" height="7.00" fill="#dadada" /><rect x="390.00" y="448.00" width="7.00" height="6.50" fill="#d6d6d6" /><rect x="397.00" y="441.00" width="7.00" height="7.00" fill="#ededed" /><rect x="397.00" y="448.00" width="7.00" height="6.50" fill="#e0e0e0" /><rect x="404.00" y="441.00" width="7.00" height="7.00" fill="#e5e5e5" /><rect x="404.00" y="448.00" width="7.00" height="6.50" fill="#d4d4d4" /><rect x="411.00" y="441.00" width="7.00" height="7.00" fill="#e3e3e3" /><rect x="411.00" y="448.00" width="7.00" height="6.50" fill="#dadada" /><rect x="418.00" y="441.00" width="7.00" height="7.00" fill="#e4e4e4" /><rect x="418.00" y="448.00" width="7.00" height="6.50" fill="#e3e3e3" /><rect x="425.00" y="441.00" width="7.00" height="7.00" fill="#e9e9e9" /><rect x="425.00" y="448.00" width="7.00" height="6.50" fill="#dadada" /><rect x="432.00" y="441.00" width="7.00" height="7.00" fill="#ececec" /><rect x="432.00" y="448.00" width="7.00" height="6.50" fill="#e0e0e0" /><rect x="439.00" y="441.00" width="7.00" height="7.00" fill="#e0e0e0" /><rect x="439.00" y="448.00" width="7.00" height="6.50" fill="#dcdcdc" /><rect x="446.00" y="441.00" width="7.00" height="7.00" fill="#ededed" /><rect x="446.00" y="448.00" width="7.00" height="6.50" fill="#c9c9c9" /><rect x="453.00" y="441.00" width="7.00" height="7.00" fill="#e7e7e7" /><rect x="453.00" y="448.00" width="7.00" height="6.50" fill="#e1e1e1" /><rect x="460.00" y="441.00" width="7.00" height="7.00" fill="#eaeaea" /><rect x="460.00" y="448.00" width="7.00" height="6.50" fill="#d4d4d4" /><rect x="467.00" y="441.00" width="7.00" height="7.00" fill="#e7e7e7" /><rect x="467.00" y="448.00" width="7.00" height="6.50" fill="#e0e0e0" /><rect x="474.00" y="441.00" width="7.00" height="7.00" fill="#e9e9e9" /><rect x="474.00" y="448.00" width="7.00" height="6.50" fill="#e1e1e1" /><rect x="481.00" y="441.00" width="7.00" height="13.50" fill="#fafafa" /><rect x="488.00" y="441.00" width="7.00" height="7.00" fill="#e2e2e2" /><rect x="488.00" y="448.00" width="7.00" height="6.50" fill="#cccccc" /><rect x="495.00" y="441.00" width="7.00" height="7.00" fill="#e6e6e6" /><rect x="495.00" y="448.00" width="7.00" height="6.50" fill="#dedede" /><rect x="502.00" y="441.00" width="2.00" height="7.00" fill="#dbdbdb" /><rect x="502.00" y="448.00" width="2.00" height="6.50" fill="#e0e0e0" /><rect x="581.00" y="438.00" width="7.00" height="6.00" fill="#ebebeb" /><rect x="581.00" y="444.00" width="7.00" height="8.00" fill="#e9e9e9" /><rect x="588.00" y="438.00" width="7.00" height="6.00" fill="#efefef" /><rect x="588.00" y="444.00" width="7.00" height="8.00" fill="#d5d5d5" /><rect x="595.00" y="438.00" width="7.00" height="6.00" fill="#e8e8e8" /><rect x="595.00" y="444.00" width="7.00" height="8.00" fill="#e6e6e6" /><rect x="602.00" y="438.00" width="7.00" height="6.00" fill="#f2f2f2" /><rect x="602.00" y="444.00" width="7.00" height="8.00" fill="#d2d2d2" /><rect x="609.00" y="438.00" width="7.00" height="6.00" fill="#ededed" /><rect x="609.00" y="444.00" width="7.00" height="8.00" fill="#dfdfdf" /><rect x="616.00" y="438.00" width="7.00" height="6.00" fill="#eeeeee" /><rect x="616.00" y="444.00" width="7.00" height="8.00" fill="#d5d5d5" /><rect x="623.00" y="438.00" width="7.00" height="6.00" fill="#ebebeb" /><rect x="623.00" y="444.00" width="7.00" height="8.00" fill="#d9d9d9" /><rect x="630.00" y="438.00" width="7.00" height="6.00" fill="#ebebeb" /><rect x="630.00" y="444.00" width="7.00" height="8.00" fill="#dfdfdf" /><rect x="637.00" y="438.00" width="7.00" height="6.00" fill="#f7f7f7" /><rect x="637.00" y="444.00" width="7.00" height="8.00" fill="#d6d6d6" /><rect x="644.00" y="438.00" width="7.00" height="6.00" fill="#f2f2f2" /><rect x="644.00" y="444.00" width="7.00" height="8.00" fill="#d6d6d6" /><rect x="651.00" y="438.00" width="7.00" height="6.00" fill="#f2f2f2" /><rect x="651.00" y="444.00" width="7.00" height="8.00" fill="#e4e4e4" /><rect x="658.00" y="438.00" width="7.00" height="14.00" fill="#f8f8f8" /><rect x="665.00" y="438.00" width="7.00" height="6.00" fill="#f6f6f6" /><rect x="665.00" y="444.00" width="7.00" height="8.00" fill="#d6d6d6" /><rect x="672.00" y="438.00" width="7.00" height="6.00" fill="#f1f1f1" /><rect x="672.00" y="444.00" width="7.00" height="8.00" fill="#d8d8d8" /><rect x="679.00" y="438.00" width="7.00" height="6.00" fill="#f1f1f1" /><rect x="679.00" y="444.00" width="7.00" height="8.00" fill="#e2e2e2" /><rect x="686.00" y="438.00" width="7.00" height="6.00" fill="#f2f2f2" /><rect x="686.00" y="444.00" width="7.00" height="8.00" fill="#e7e7e7" /><rect x="693.00" y="438.00" width="7.00" height="6.00" fill="#f6f6f6" /><rect x="693.00" y="444.00" width="7.00" height="8.00" fill="#e1e1e1" /><rect x="700.00" y="438.00" width="7.00" height="6.00" fill="#efefef" /><rect x="700.00" y="444.00" width="7.00" height="8.00" fill="#dfdfdf" /><rect x="707.00" y="438.00" width="7.00" height="6.00" fill="#e9e9e9" /><rect x="707.00" y="444.00" width="7.00" height="8.00" fill="#d6d6d6" /><rect x="714.00" y="438.00" width="7.00" height="6.00" fill="#eaeaea" /><rect x="714.00" y="444.00" width="7.00" height="8.00" fill="#d1d1d1" /><rect x="721.00" y="438.00" width="7.00" height="6.00" fill="#f7f7f7" /><rect x="721.00" y="444.00" width="7.00" height="8.00" fill="#dddddd" /><rect x="728.00" y="438.00" width="7.00" height="6.00" fill="#f5f5f5" /><rect x="728.00" y="444.00" width="7.00" height="8.00" fill="#d5d5d5" /><rect x="735.00" y="438.00" width="7.00" height="6.00" fill="#efefef" /><rect x="735.00" y="444.00" width="7.00" height="8.00" fill="#e6e6e6" /><rect x="742.00" y="438.00" width="7.00" height="6.00" fill="#ededed" /><rect x="742.00" y="444.00" width="7.00" height="8.00" fill="#d1d1d1" /><rect x="749.00" y="438.00" width="7.00" height="6.00" fill="#eaeaea" /><rect x="749.00" y="444.00" width="7.00" height="8.00" fill="#eaeaea" /><rect x="756.00" y="438.00" width="5.00" height="6.00" fill="#f3f3f3" /><rect x="756.00" y="444.00" width="5.00" height="8.00" fill="#ebebeb" /><rect x="1152.00" y="438.00" width="7.00" height="6.00" fill="#f3f3f3" /><rect x="1152.00" y="444.00" width="7.00" height="8.00" fill="#d7d7d7" /><rect x="1159.00" y="438.00" width="7.00" height="6.00" fill="#e8e8e8" /><rect x="1159.00" y="444.00" width="7.00" height="8.00" fill="#dbdbdb" /><rect x="1166.00" y="438.00" width="7.00" height="6.00" fill="#f1f1f1" /><rect x="1166.00" y="444.00" width="7.00" height="8.00" fill="#dfdfdf" /><rect x="1173.00" y="438.00" width="7.00" height="6.00" fill="#f3f3f3" /><rect x="1173.00" y="444.00" width="7.00" height="8.00" fill="#e6e6e6" /><rect x="1180.00" y="438.00" width="7.00" height="6.00" fill="#ebebeb" /><rect x="1180.00" y="444.00" width="7.00" height="8.00" fill="#cecece" /><rect x="1187.00" y="438.00" width="7.00" height="6.00" fill="#efefef" /><rect x="1187.00" y="444.00" width="7.00" height="8.00" fill="#e5e5e5" /><rect x="1194.00" y="438.00" width="7.00" height="6.00" fill="#e8e8e8" /><rect x="1194.00" y="444.00" width="7.00" height="8.00" fill="#e3e3e3" /><rect x="1201.00" y="438.00" width="7.00" height="6.00" fill="#ececec" /><rect x="1201.00" y="444.00" width="7.00" height="8.00" fill="#d8d8d8" /><rect x="1208.00" y="438.00" width="7.00" height="6.00" fill="#f5f5f5" /><rect x="1208.00" y="444.00" width="7.00" height="8.00" fill="#d5d5d5" /><rect x="1215.00" y="438.00" width="7.00" height="6.00" fill="#e9e9e9" /><rect x="1215.00" y="444.00" width="7.00" height="8.00" fill="#e5e5e5" /><rect x="1222.00" y="438.00" width="7.00" height="6.00" fill="#eeeeee" /><rect x="1222.00" y="444.00" width="7.00" height="8.00" fill="#dfdfdf" /><rect x="1229.00" y="438.00" width="7.00" height="6.00" fill="#f5f5f5" /><rect x="1229.00" y="444.00" width="7.00" height="8.00" fill="#d8d8d8" /><rect x="1236.00" y="438.00" width="7.00" height="6.00" fill="#eaeaea" /><rect x="1236.00" y="444.00" width="7.00" height="8.00" fill="#d8d8d8" /><rect x="1243.00" y="438.00" width="7.00" height="6.00" fill="#eeeeee" /><rect x="1243.00" y="444.00" width="7.00" height="8.00" fill="#d8d8d8" /><rect x="1250.00" y="438.00" width="7.00" height="6.00" fill="#e8e8e8" /><rect x="1250.00" y="444.00" width="7.00" height="8.00" fill="#d7d7d7" /><rect x="1257.00" y="438.00" width="7.00" height="6.00" fill="#f5f5f5" /><rect x="1257.00" y="444.00" width="7.00" height="8.00" fill="#e4e4e4" /><rect x="1264.00" y="438.00" width="7.00" height="6.00" fill="#f1f1f1" /><rect x="1264.00" y="444.00" width="7.00" height="8.00" fill="#dcdcdc" /><rect x="1271.00" y="438.00" width="7.00" height="6.00" fill="#ededed" /><rect x="1271.00" y="444.00" width="7.00" height="8.00" fill="#d8d8d8" /><rect x="1278.00" y="438.00" width="7.00" height="6.00" fill="#e9e9e9" /><rect x="1278.00" y="444.00" width="7.00" height="8.00" fill="#e4e4e4" /><rect x="1285.00" y="438.00" width="7.00" height="6.00" fill="#f1f1f1" /><rect x="1285.00" y="444.00" width="7.00" height="8.00" fill="#dedede" /><rect x="1292.00" y="438.00" width="7.00" height="6.00" fill="#e8e8e8" /><rect x="1292.00" y="444.00" width="7.00" height="8.00" fill="#e2e2e2" /><rect x="1299.00" y="438.00" width="7.00" height="6.00" fill="#e9e9e9" /><rect x="1299.00" y="444.00" width="7.00" height="8.00" fill="#dcdcdc" /><rect x="1306.00" y="438.00" width="7.00" height="6.00" fill="#f2f2f2" /><rect x="1306.00" y="444.00" width="7.00" height="8.00" fill="#d3d3d3" /><rect x="1313.00" y="438.00" width="7.00" height="6.00" fill="#f4f4f4" /><rect x="1313.00" y="444.00" width="7.00" height="8.00" fill="#d6d6d6" /><rect x="1320.00" y="438.00" width="7.00" height="6.00" fill="#f4f4f4" /><rect x="1320.00" y="444.00" width="7.00" height="8.00" fill="#cecece" /><rect x="1327.00" y="438.00" width="7.00" height="6.00" fill="#eaeaea" /><rect x="1327.00" y="444.00" width="7.00" height="8.00" fill="#d1d1d1" /><rect x="1334.00" y="438.00" width="7.00" height="6.00" fill="#eaeaea" /><rect x="1334.00" y="444.00" width="7.00" height="8.00" fill="#dfdfdf" /><rect x="28.00" y="69.50" width="7.00" height="7.00" fill="#ececec" /><rect x="28.00" y="76.50" width="7.00" height="7.00" fill="#c8c8c8" /><rect x="28.00" y="83.50" width="7.00" height="7.00" fill="#f5f5f5" /><rect x="35.00" y="69.50" width="7.00" height="7.00" fill="#eeeeee" /><rect x="35.00" y="76.50" width="7.00" height="7.00" fill="#e1e1e1" /><rect x="35.00" y="83.50" width="7.00" height="7.00" fill="#eeeeee" /><rect x="28.00" y="119.50" width="7.00" height="7.00" fill="#ececec" /><rect x="28.00" y="126.50" width="7.00" height="7.00" fill="#dfdfdf" /><rect x="28.00" y="133.50" width="7.00" height="7.00" fill="#f2f2f2" /><rect x="35.00" y="119.50" width="7.00" height="7.00" fill="#f4f4f4" /><rect x="35.00" y="126.50" width="7.00" height="7.00" fill="#e3e3e3" /><rect x="35.00" y="133.50" width="7.00" height="7.00" fill="#f5f5f5" /><rect x="28.00" y="167.50" width="7.00" height="7.00" fill="#f2f2f2" /><rect x="28.00" y="174.50" width="7.00" height="7.00" fill="#cbcbcb" /><rect x="28.00" y="181.50" width="7.00" height="7.00" fill="#f2f2f2" /><rect x="35.00" y="167.50" width="7.00" height="7.00" fill="#f7f7f7" /><rect x="35.00" y="174.50" width="7.00" height="7.00" fill="#dcdcdc" /><rect x="35.00" y="181.50" width="7.00" height="7.00" fill="#f5f5f5" /><rect x="585.00" y="33.00" width="11.00" height="11.00" fill="#f2f2f2" /><rect x="596.00" y="33.00" width="11.00" height="11.00" fill="#d8d8d8" /><rect x="607.00" y="33.00" width="11.00" height="11.00" fill="#f4f4f4" /><rect x="585.00" y="44.00" width="11.00" height="11.00" fill="#f6f6f6" /><rect x="596.00" y="44.00" width="11.00" height="11.00" fill="#ececec" /><rect x="607.00" y="44.00" width="11.00" height="11.00" fill="#f8f8f8" /><rect x="585.00" y="67.00" width="11.00" height="11.00" fill="#e6e6e6" /><rect x="596.00" y="67.00" width="11.00" height="11.00" fill="#dedede" /><rect x="607.00" y="67.00" width="11.00" height="11.00" fill="#f0f0f0" /><rect x="585.00" y="78.00" width="11.00" height="11.00" fill="#f2f2f2" /><rect x="596.00" y="78.00" width="11.00" height="11.00" fill="#f0f0f0" /><rect x="607.00" y="78.00" width="11.00" height="11.00" fill="#f8f8f8" /><rect x="585.00" y="101.00" width="11.00" height="11.00" fill="#f4f4f4" /><rect x="596.00" y="101.00" width="11.00" height="11.00" fill="#dedede" /><rect x="607.00" y="101.00" width="11.00" height="11.00" fill="#f6f6f6" /><rect x="585.00" y="112.00" width="11.00" height="11.00" fill="#f6f6f6" /><rect x="596.00" y="112.00" width="11.00" height="11.00" fill="#e8e8e8" /><rect x="607.00" y="112.00" width="11.00" height="11.00" fill="#f8f8f8" /><rect x="585.00" y="134.00" width="11.00" height="11.00" fill="#e8e8e8" /><rect x="596.00" y="134.00" width="11.00" height="11.00" fill="#dcdcdc" /><rect x="607.00" y="134.00" width="11.00" height="11.00" fill="#f4f4f4" /><rect x="585.00" y="145.00" width="11.00" height="11.00" fill="#ececec" /><rect x="596.00" y="145.00" width="11.00" height="11.00" fill="#e0e0e0" /><rect x="607.00" y="145.00" width="11.00" height="11.00" fill="#f6f6f6" /><rect x="585.00" y="167.00" width="11.00" height="11.00" fill="#fafafa" /><rect x="596.00" y="167.00" width="11.00" height="11.00" fill="#ececec" /><rect x="607.00" y="167.00" width="11.00" height="11.00" fill="#f4f4f4" /><rect x="585.00" y="178.00" width="11.00" height="11.00" fill="#fafafa" /><rect x="596.00" y="178.00" width="11.00" height="11.00" fill="#eeeeee" /><rect x="607.00" y="178.00" width="11.00" height="11.00" fill="#f6f6f6" /><rect x="1160.00" y="37.00" width="11.00" height="6.00" fill="#f8f8f8" /><rect x="1160.00" y="43.00" width="11.00" height="6.00" fill="#eaeaea" /><rect x="1160.00" y="49.00" width="11.00" height="6.00" fill="#f5f5f5" /><rect x="1171.00" y="37.00" width="11.00" height="6.00" fill="#f9f9f9" /><rect x="1171.00" y="43.00" width="11.00" height="6.00" fill="#dcdcdc" /><rect x="1171.00" y="49.00" width="11.00" height="6.00" fill="#f5f5f5" /><rect x="1160.00" y="64.00" width="11.00" height="6.00" fill="#f5f5f5" /><rect x="1160.00" y="70.00" width="11.00" height="6.00" fill="#ececec" /><rect x="1160.00" y="76.00" width="11.00" height="6.00" fill="#f5f5f5" /><rect x="1171.00" y="64.00" width="11.00" height="6.00" fill="#f9f9f9" /><rect x="1171.00" y="70.00" width="11.00" height="6.00" fill="#dddddd" /><rect x="1171.00" y="76.00" width="11.00" height="6.00" fill="#f2f2f2" /><rect x="1160.00" y="91.00" width="11.00" height="6.00" fill="#f6f6f6" /><rect x="1160.00" y="97.00" width="11.00" height="6.00" fill="#e3e3e3" /><rect x="1160.00" y="103.00" width="11.00" height="6.00" fill="#f4f4f4" /><rect x="1171.00" y="91.00" width="11.00" height="6.00" fill="#f7f7f7" /><rect x="1171.00" y="97.00" width="11.00" height="6.00" fill="#e4e4e4" /><rect x="1171.00" y="103.00" width="11.00" height="6.00" fill="#f4f4f4" /><rect x="1160.00" y="118.00" width="11.00" height="6.00" fill="#f9f9f9" /><rect x="1160.00" y="124.00" width="11.00" height="6.00" fill="#eaeaea" /><rect x="1160.00" y="130.00" width="11.00" height="6.00" fill="#f5f5f5" /><rect x="1171.00" y="118.00" width="11.00" height="6.00" fill="#f6f6f6" /><rect x="1171.00" y="124.00" width="11.00" height="6.00" fill="#dddddd" /><rect x="1171.00" y="130.00" width="11.00" height="6.00" fill="#f7f7f7" /><rect x="1160.00" y="145.00" width="11.00" height="6.00" fill="#f8f8f8" /><rect x="1160.00" y="151.00" width="11.00" height="6.00" fill="#ececec" /><rect x="1160.00" y="157.00" width="11.00" height="6.00" fill="#f8f8f8" /><rect x="1171.00" y="145.00" width="11.00" height="6.00" fill="#f7f7f7" /><rect x="1171.00" y="151.00" width="11.00" height="6.00" fill="#dfdfdf" /><rect x="1171.00" y="157.00" width="11.00" height="6.00" fill="#f5f5f5" /><rect x="1160.00" y="172.00" width="11.00" height="6.00" fill="#f3f3f3" /><rect x="1160.00" y="178.00" width="11.00" height="6.00" fill="#e7e7e7" /><rect x="1160.00" y="184.00" width="11.00" height="6.00" fill="#f5f5f5" /><rect x="1171.00" y="172.00" width="11.00" height="6.00" fill="#f5f5f5" /><rect x="1171.00" y="178.00" width="11.00" height="6.00" fill="#dddddd" /><rect x="1171.00" y="184.00" width="11.00" height="6.00" fill="#f5f5f5" /><rect x="27.00" y="280.75" width="7.50" height="7.50" fill="#f3f3f3" /><rect x="27.00" y="288.25" width="7.50" height="7.50" fill="#d3d3d3" /><rect x="27.00" y="295.75" width="7.50" height="7.50" fill="#ededed" /><rect x="34.50" y="280.75" width="7.50" height="7.50" fill="#f7f7f7" /><rect x="34.50" y="288.25" width="7.50" height="7.50" fill="#dddddd" /><rect x="34.50" y="295.75" width="7.50" height="7.50" fill="#f5f5f5" /><rect x="27.00" y="330.75" width="7.50" height="7.50" fill="#ededed" /><rect x="27.00" y="338.25" width="7.50" height="7.50" fill="#cbcbcb" /><rect x="27.00" y="345.75" width="7.50" height="7.50" fill="#f4f4f4" /><rect x="34.50" y="330.75" width="7.50" height="7.50" fill="#f5f5f5" /><rect x="34.50" y="338.25" width="7.50" height="7.50" fill="#e4e4e4" /><rect x="34.50" y="345.75" width="7.50" height="7.50" fill="#f3f3f3" /><rect x="27.00" y="378.75" width="7.50" height="7.50" fill="#f2f2f2" /><rect x="27.00" y="386.25" width="7.50" height="7.50" fill="#d2d2d2" /><rect x="27.00" y="393.75" width="7.50" height="7.50" fill="#ededed" /><rect x="34.50" y="378.75" width="7.50" height="7.50" fill="#f0f0f0" /><rect x="34.50" y="386.25" width="7.50" height="7.50" fill="#e6e6e6" /><rect x="34.50" y="393.75" width="7.50" height="7.50" fill="#f5f5f5" /><rect x="595.00" y="278.25" width="8.50" height="8.50" fill="#f8f8f8" /><rect x="595.00" y="286.75" width="8.50" height="8.50" fill="#ededed" /><rect x="595.00" y="295.25" width="8.50" height="8.50" fill="#f9f9f9" /><rect x="603.50" y="278.25" width="8.50" height="8.50" fill="#f6f6f6" /><rect x="603.50" y="286.75" width="8.50" height="8.50" fill="#e1e1e1" /><rect x="603.50" y="295.25" width="8.50" height="8.50" fill="#f5f5f5" /><rect x="595.00" y="329.25" width="8.50" height="8.50" fill="#f2f2f2" /><rect x="595.00" y="337.75" width="8.50" height="8.50" fill="#ececec" /><rect x="595.00" y="346.25" width="8.50" height="8.50" fill="#f2f2f2" /><rect x="603.50" y="329.25" width="8.50" height="8.50" fill="#f1f1f1" /><rect x="603.50" y="337.75" width="8.50" height="8.50" fill="#e9e9e9" /><rect x="603.50" y="346.25" width="8.50" height="8.50" fill="#f3f3f3" /><rect x="595.00" y="380.25" width="8.50" height="8.50" fill="#f7f7f7" /><rect x="595.00" y="388.75" width="8.50" height="8.50" fill="#ebebeb" /><rect x="595.00" y="397.25" width="8.50" height="8.50" fill="#f8f8f8" /><rect x="603.50" y="380.25" width="8.50" height="8.50" fill="#f8f8f8" /><rect x="603.50" y="388.75" width="8.50" height="8.50" fill="#ebebeb" /><rect x="603.50" y="397.25" width="8.50" height="8.50" fill="#f8f8f8" /><rect x="1162.00" y="240.25" width="8.50" height="8.50" fill="#f5f5f5" /><rect x="1162.00" y="248.75" width="8.50" height="8.50" fill="#e6e6e6" /><rect x="1162.00" y="257.25" width="8.50" height="8.50" fill="#eeeeee" /><rect x="1170.50" y="240.25" width="8.50" height="8.50" fill="#f9f9f9" /><rect x="1170.50" y="248.75" width="8.50" height="8.50" fill="#e9e9e9" /><rect x="1170.50" y="257.25" width="8.50" height="8.50" fill="#f1f1f1" /><rect x="1162.00" y="275.25" width="8.50" height="8.50" fill="#f0f0f0" /><rect x="1162.00" y="283.75" width="8.50" height="8.50" fill="#e8e8e8" /><rect x="1162.00" y="292.25" width="8.50" height="8.50" fill="#f1f1f1" /><rect x="1170.50" y="275.25" width="8.50" height="8.50" fill="#f2f2f2" /><rect x="1170.50" y="283.75" width="8.50" height="8.50" fill="#dcdcdc" /><rect x="1170.50" y="292.25" width="8.50" height="8.50" fill="#f8f8f8" /><rect x="1162.00" y="310.25" width="8.50" height="8.50" fill="#f4f4f4" /><rect x="1162.00" y="318.75" width="8.50" height="8.50" fill="#e0e0e0" /><rect x="1162.00" y="327.25" width="8.50" height="8.50" fill="#efefef" /><rect x="1170.50" y="310.25" width="8.50" height="8.50" fill="#f5f5f5" /><rect x="1170.50" y="318.75" width="8.50" height="8.50" fill="#dcdcdc" /><rect x="1170.50" y="327.25" width="8.50" height="8.50" fill="#f6f6f6" /><rect x="1162.00" y="345.25" width="8.50" height="8.50" fill="#f0f0f0" /><rect x="1162.00" y="353.75" width="8.50" height="8.50" fill="#e0e0e0" /><rect x="1162.00" y="362.25" width="8.50" height="8.50" fill="#f2f2f2" /><rect x="1170.50" y="345.25" width="8.50" height="8.50" fill="#f2f2f2" /><rect x="1170.50" y="353.75" width="8.50" height="8.50" fill="#e7e7e7" /><rect x="1170.50" y="362.25" width="8.50" height="8.50" fill="#f7f7f7" /><rect x="1162.00" y="380.25" width="8.50" height="8.50" fill="#f4f4f4" /><rect x="1162.00" y="388.75" width="8.50" height="8.50" fill="#d8d8d8" /><rect x="1162.00" y="397.25" width="8.50" height="8.50" fill="#eeeeee" /><rect x="1170.50" y="380.25" width="8.50" height="8.50" fill="#efefef" /><rect x="1170.50" y="388.75" width="8.50" height="8.50" fill="#e5e5e5" /><rect x="1170.50" y="397.25" width="8.50" height="8.50" fill="#f6f6f6" /><rect x="27.00" y="479.00" width="6.00" height="6.00" fill="#efefef" /><rect x="27.00" y="485.00" width="6.00" height="6.00" fill="#e4e4e4" /><rect x="27.00" y="491.00" width="6.00" height="6.00" fill="#f1f1f1" /><rect x="33.00" y="479.00" width="6.00" height="6.00" fill="#f1f1f1" /><rect x="33.00" y="485.00" width="6.00" height="6.00" fill="#e0e0e0" /><rect x="33.00" y="491.00" width="6.00" height="6.00" fill="#f5f5f5" /><rect x="27.00" y="508.00" width="6.00" height="6.00" fill="#ededed" /><rect x="27.00" y="514.00" width="6.00" height="6.00" fill="#dfdfdf" /><rect x="27.00" y="520.00" width="6.00" height="6.00" fill="#efefef" /><rect x="33.00" y="508.00" width="6.00" height="6.00" fill="#f4f4f4" /><rect x="33.00" y="514.00" width="6.00" height="6.00" fill="#e3e3e3" /><rect x="33.00" y="520.00" width="6.00" height="6.00" fill="#f4f4f4" /><rect x="27.00" y="537.00" width="6.00" height="6.00" fill="#ececec" /><rect x="27.00" y="543.00" width="6.00" height="6.00" fill="#dedede" /><rect x="27.00" y="549.00" width="6.00" height="6.00" fill="#f3f3f3" /><rect x="33.00" y="537.00" width="6.00" height="6.00" fill="#ececec" /><rect x="33.00" y="543.00" width="6.00" height="6.00" fill="#e0e0e0" /><rect x="33.00" y="549.00" width="6.00" height="6.00" fill="#eeeeee" /><rect x="27.00" y="566.00" width="6.00" height="6.00" fill="#ededed" /><rect x="27.00" y="572.00" width="6.00" height="6.00" fill="#dbdbdb" /><rect x="27.00" y="578.00" width="6.00" height="6.00" fill="#efefef" /><rect x="33.00" y="566.00" width="6.00" height="6.00" fill="#ececec" /><rect x="33.00" y="572.00" width="6.00" height="6.00" fill="#e7e7e7" /><rect x="33.00" y="578.00" width="6.00" height="6.00" fill="#eeeeee" /><rect x="27.00" y="596.00" width="6.00" height="6.00" fill="#f0f0f0" /><rect x="27.00" y="602.00" width="6.00" height="6.00" fill="#e5e5e5" /><rect x="27.00" y="608.00" width="6.00" height="6.00" fill="#f2f2f2" /><rect x="33.00" y="596.00" width="6.00" height="6.00" fill="#f6f6f6" /><rect x="33.00" y="602.00" width="6.00" height="6.00" fill="#e8e8e8" /><rect x="33.00" y="608.00" width="6.00" height="6.00" fill="#ececec" /><rect x="595.00" y="452.25" width="8.50" height="8.50" fill="#f8f8f8" /><rect x="595.00" y="460.75" width="8.50" height="8.50" fill="#e0e0e0" /><rect x="595.00" y="469.25" width="8.50" height="8.50" fill="#eeeeee" /><rect x="603.50" y="452.25" width="8.50" height="8.50" fill="#f9f9f9" /><rect x="603.50" y="460.75" width="8.50" height="8.50" fill="#e9e9e9" /><rect x="603.50" y="469.25" width="8.50" height="8.50" fill="#f4f4f4" /><rect x="595.00" y="480.25" width="8.50" height="8.50" fill="#f4f4f4" /><rect x="595.00" y="488.75" width="8.50" height="8.50" fill="#ececec" /><rect x="595.00" y="497.25" width="8.50" height="8.50" fill="#f3f3f3" /><rect x="603.50" y="480.25" width="8.50" height="8.50" fill="#efefef" /><rect x="603.50" y="488.75" width="8.50" height="8.50" fill="#dcdcdc" /><rect x="603.50" y="497.25" width="8.50" height="8.50" fill="#f1f1f1" /><rect x="595.00" y="508.25" width="8.50" height="8.50" fill="#f7f7f7" /><rect x="595.00" y="516.75" width="8.50" height="8.50" fill="#ebebeb" /><rect x="595.00" y="525.25" width="8.50" height="8.50" fill="#f7f7f7" /><rect x="603.50" y="508.25" width="8.50" height="8.50" fill="#f9f9f9" /><rect x="603.50" y="516.75" width="8.50" height="8.50" fill="#dddddd" /><rect x="603.50" y="525.25" width="8.50" height="8.50" fill="#f8f8f8" /><rect x="595.00" y="536.25" width="8.50" height="8.50" fill="#f0f0f0" /><rect x="595.00" y="544.75" width="8.50" height="8.50" fill="#eaeaea" /><rect x="595.00" y="553.25" width="8.50" height="8.50" fill="#f4f4f4" /><rect x="603.50" y="536.25" width="8.50" height="8.50" fill="#f2f2f2" /><rect x="603.50" y="544.75" width="8.50" height="8.50" fill="#e0e0e0" /><rect x="603.50" y="553.25" width="8.50" height="8.50" fill="#f2f2f2" /><rect x="595.00" y="564.25" width="8.50" height="8.50" fill="#f1f1f1" /><rect x="595.00" y="572.75" width="8.50" height="8.50" fill="#e3e3e3" /><rect x="595.00" y="581.25" width="8.50" height="8.50" fill="#f4f4f4" /><rect x="603.50" y="564.25" width="8.50" height="8.50" fill="#efefef" /><rect x="603.50" y="572.75" width="8.50" height="8.50" fill="#e4e4e4" /><rect x="603.50" y="581.25" width="8.50" height="8.50" fill="#f8f8f8" /><rect x="595.00" y="592.25" width="8.50" height="8.50" fill="#f2f2f2" /><rect x="595.00" y="600.75" width="8.50" height="8.50" fill="#ededed" /><rect x="595.00" y="609.25" width="8.50" height="8.50" fill="#f7f7f7" /><rect x="603.50" y="592.25" width="8.50" height="8.50" fill="#f7f7f7" /><rect x="603.50" y="600.75" width="8.50" height="8.50" fill="#dfdfdf" /><rect x="603.50" y="609.25" width="8.50" height="8.50" fill="#efefef" /><rect x="35.50" y="133.00" width="3.50" height="48.00" fill="#e8f1f8" /><rect x="36.00" y="288.00" width="6.00" height="42.00" fill="#e4f0f8" /><rect x="36.00" y="330.00" width="6.00" height="63.00" fill="#f1eef6" /><rect x="36.00" y="546.00" width="3.00" height="14.00" fill="#f2cdb0" /><rect x="36.00" y="560.00" width="3.00" height="48.00" fill="#eab0b0" /><rect x="1182.00" y="150.00" width="2.00" height="31.00" fill="#ddd8ec" /></g><g opacity="0.999"><text x="68.00" y="195.80" font-size="10.3" fill="#2a2a2a" text-anchor="middle" font-weight="normal" textLength="24.4" lengthAdjust="spacingAndGlyphs">20:00</text><text x="195.00" y="195.80" font-size="10.3" fill="#2a2a2a" text-anchor="middle" font-weight="normal" textLength="24.4" lengthAdjust="spacingAndGlyphs">20:15</text><text x="322.00" y="195.80" font-size="10.3" fill="#2a2a2a" text-anchor="middle" font-weight="normal" textLength="24.4" lengthAdjust="spacingAndGlyphs">20:30</text><text x="449.00" y="195.80" font-size="10.3" fill="#2a2a2a" text-anchor="middle" font-weight="normal" textLength="24.4" lengthAdjust="spacingAndGlyphs">20:45</text><text x="638.00" y="195.80" font-size="10.3" fill="#2a2a2a" text-anchor="middle" font-weight="normal" textLength="24.4" lengthAdjust="spacingAndGlyphs">20:00</text><text x="765.00" y="195.80" font-size="10.3" fill="#2a2a2a" text-anchor="middle" font-weight="normal" textLength="24.4" lengthAdjust="spacingAndGlyphs">20:15</text><text x="892.00" y="195.80" font-size="10.3" fill="#2a2a2a" text-anchor="middle" font-weight="normal" textLength="24.4" lengthAdjust="spacingAndGlyphs">20:30</text><text x="1019.00" y="195.80" font-size="10.3" fill="#2a2a2a" text-anchor="middle" font-weight="normal" textLength="24.4" lengthAdjust="spacingAndGlyphs">20:45</text><text x="1209.00" y="195.80" font-size="10.3" fill="#2a2a2a" text-anchor="middle" font-weight="normal" textLength="24.4" lengthAdjust="spacingAndGlyphs">20:00</text><text x="1336.00" y="195.80" font-size="10.3" fill="#2a2a2a" text-anchor="middle" font-weight="normal" textLength="24.4" lengthAdjust="spacingAndGlyphs">20:15</text><text x="1463.00" y="195.80" font-size="10.3" fill="#2a2a2a" text-anchor="middle" font-weight="normal" textLength="24.4" lengthAdjust="spacingAndGlyphs">20:30</text><text x="1590.00" y="195.80" font-size="10.3" fill="#2a2a2a" text-anchor="middle" font-weight="normal" textLength="24.4" lengthAdjust="spacingAndGlyphs">20:45</text><text x="68.00" y="407.80" font-size="10.3" fill="#2a2a2a" text-anchor="middle" font-weight="normal" textLength="24.4" lengthAdjust="spacingAndGlyphs">20:00</text><text x="195.00" y="407.80" font-size="10.3" fill="#2a2a2a" text-anchor="middle" font-weight="normal" textLength="24.4" lengthAdjust="spacingAndGlyphs">20:15</text><text x="322.00" y="407.80" font-size="10.3" fill="#2a2a2a" text-anchor="middle" font-weight="normal" textLength="24.4" lengthAdjust="spacingAndGlyphs">20:30</text><text x="449.00" y="407.80" font-size="10.3" fill="#2a2a2a" text-anchor="middle" font-weight="normal" textLength="24.4" lengthAdjust="spacingAndGlyphs">20:45</text><text x="638.00" y="407.80" font-size="10.3" fill="#2a2a2a" text-anchor="middle" font-weight="normal" textLength="24.4" lengthAdjust="spacingAndGlyphs">20:00</text><text x="765.00" y="407.80" font-size="10.3" fill="#2a2a2a" text-anchor="middle" font-weight="normal" textLength="24.4" lengthAdjust="spacingAndGlyphs">20:15</text><text x="892.00" y="407.80" font-size="10.3" fill="#2a2a2a" text-anchor="middle" font-weight="normal" textLength="24.4" lengthAdjust="spacingAndGlyphs">20:30</text><text x="1019.00" y="407.80" font-size="10.3" fill="#2a2a2a" text-anchor="middle" font-weight="normal" textLength="24.4" lengthAdjust="spacingAndGlyphs">20:45</text><text x="1209.00" y="407.80" font-size="10.3" fill="#2a2a2a" text-anchor="middle" font-weight="normal" textLength="24.4" lengthAdjust="spacingAndGlyphs">20:00</text><text x="1336.00" y="407.80" font-size="10.3" fill="#2a2a2a" text-anchor="middle" font-weight="normal" textLength="24.4" lengthAdjust="spacingAndGlyphs">20:15</text><text x="1463.00" y="407.80" font-size="10.3" fill="#2a2a2a" text-anchor="middle" font-weight="normal" textLength="24.4" lengthAdjust="spacingAndGlyphs">20:30</text><text x="1590.00" y="407.80" font-size="10.3" fill="#2a2a2a" text-anchor="middle" font-weight="normal" textLength="24.4" lengthAdjust="spacingAndGlyphs">20:45</text><text x="68.00" y="619.80" font-size="10.3" fill="#2a2a2a" text-anchor="middle" font-weight="normal" textLength="24.4" lengthAdjust="spacingAndGlyphs">20:00</text><text x="195.00" y="619.80" font-size="10.3" fill="#2a2a2a" text-anchor="middle" font-weight="normal" textLength="24.4" lengthAdjust="spacingAndGlyphs">20:15</text><text x="322.00" y="619.80" font-size="10.3" fill="#2a2a2a" text-anchor="middle" font-weight="normal" textLength="24.4" lengthAdjust="spacingAndGlyphs">20:30</text><text x="449.00" y="619.80" font-size="10.3" fill="#2a2a2a" text-anchor="middle" font-weight="normal" textLength="24.4" lengthAdjust="spacingAndGlyphs">20:45</text><text x="638.00" y="619.80" font-size="10.3" fill="#2a2a2a" text-anchor="middle" font-weight="normal" textLength="24.4" lengthAdjust="spacingAndGlyphs">20:00</text><text x="765.00" y="619.80" font-size="10.3" fill="#2a2a2a" text-anchor="middle" font-weight="normal" textLength="24.4" lengthAdjust="spacingAndGlyphs">20:15</text><text x="892.00" y="619.80" font-size="10.3" fill="#2a2a2a" text-anchor="middle" font-weight="normal" textLength="24.4" lengthAdjust="spacingAndGlyphs">20:30</text><text x="1019.00" y="619.80" font-size="10.3" fill="#2a2a2a" text-anchor="middle" font-weight="normal" textLength="24.4" lengthAdjust="spacingAndGlyphs">20:45</text><text x="1424.70" y="496.70" font-size="12.8" fill="#2b2b2b" text-anchor="middle" font-weight="normal" textLength="69" lengthAdjust="spacingAndGlyphs">Past 7 Days</text><text x="1424.50" y="526.00" font-size="23" fill="#2f9e4b" text-anchor="middle" font-weight="bold" >100.00%</text><text x="1424.7" y="546.4" font-size="11.8" text-anchor="middle" textLength="108" lengthAdjust="spacingAndGlyphs"><tspan fill="#2f9e4b" font-weight="bold">100% (1m)</tspan><tspan fill="#999"> budget</tspan></text><text x="1166.30" y="601.60" font-size="9.6" fill="#333" text-anchor="middle" font-weight="normal" >Sat 30</text><text x="1243.00" y="601.60" font-size="9.6" fill="#333" text-anchor="middle" font-weight="normal" >Dec</text><text x="1319.70" y="601.60" font-size="9.6" fill="#333" text-anchor="middle" font-weight="normal" >Mon 2</text><text x="1396.40" y="601.60" font-size="9.6" fill="#333" text-anchor="middle" font-weight="normal" >Tue 3</text><text x="1473.10" y="601.60" font-size="9.6" fill="#333" text-anchor="middle" font-weight="normal" >Wed 4</text><text x="1549.80" y="601.60" font-size="9.6" fill="#333" text-anchor="middle" font-weight="normal" >Thu 5</text><text x="1626.50" y="601.60" font-size="9.6" fill="#333" text-anchor="middle" font-weight="normal" >Fri 6</text></g></svg></body></html>
